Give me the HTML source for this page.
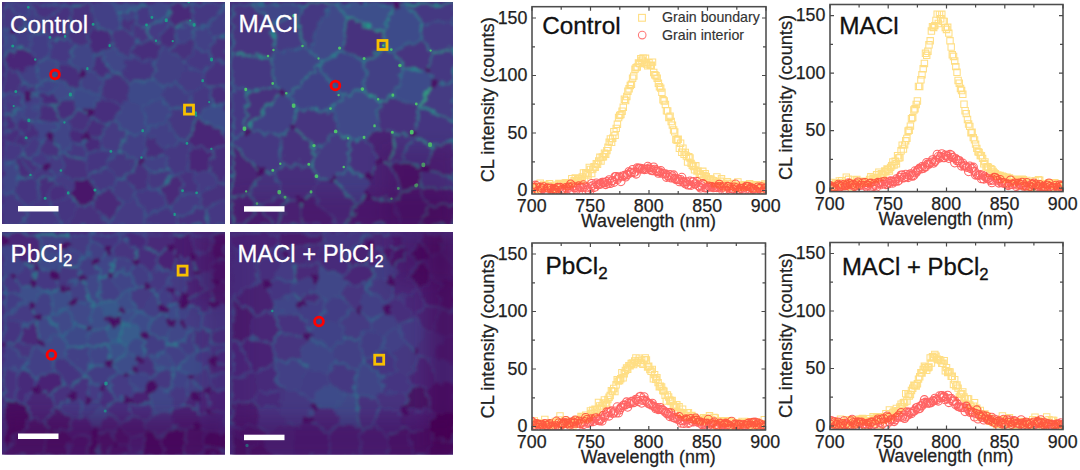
<!DOCTYPE html>
<html><head><meta charset="utf-8"><style>
html,body{margin:0;padding:0;background:#fff;width:1080px;height:470px;overflow:hidden}
svg{position:absolute;left:0;top:0;display:block}
text{font-family:"Liberation Sans",sans-serif}
.tl{font-size:17.8px;fill:#1e1e1e;stroke:#1e1e1e;stroke-width:0.25px}
.al{font-size:17.5px;fill:#222;stroke:#222;stroke-width:0.25px}
.tt{fill:#111;stroke:#111;stroke-width:0.3px}
.lg{fill:#333;stroke:#333;stroke-width:0.15px}
.pl{fill:#fff;stroke:#fff;stroke-width:0.3px}
</style></head><body>
<svg width="1080" height="470" viewBox="0 0 1080 470">
<defs><filter id="sblur"><feGaussianBlur stdDeviation="0.7"/></filter><filter id="blur" x="-5%" y="-5%" width="110%" height="110%"><feTurbulence type="turbulence" baseFrequency="0.07" numOctaves="2" seed="3" result="n"/><feDisplacementMap in="SourceGraphic" in2="n" scale="9" xChannelSelector="R" yChannelSelector="G" result="d"/><feGaussianBlur in="d" stdDeviation="1.4"/></filter><clipPath id="c0"><rect x="532" y="6.7" width="234" height="187.3"/></clipPath><clipPath id="c1"><rect x="830" y="4.5" width="233" height="187.1"/></clipPath><clipPath id="c2"><rect x="532" y="243" width="233.5" height="187"/></clipPath><clipPath id="c3"><rect x="830" y="242.5" width="233" height="187.0"/></clipPath><clipPath id="pc0"><rect x="2" y="2" width="223" height="222"/></clipPath><clipPath id="pc1"><rect x="230" y="2" width="223" height="222"/></clipPath><clipPath id="pc2"><rect x="2" y="232" width="223" height="222.5"/></clipPath><clipPath id="pc3"><rect x="230" y="232" width="223" height="222.5"/></clipPath><filter id="bigblur" x="-50%" y="-50%" width="200%" height="200%"><feGaussianBlur stdDeviation="9"/></filter></defs>
<rect x="2" y="2" width="223" height="222" fill="#472a7a"/><g clip-path="url(#pc0)" filter="url(#blur)"><path fill="#453882" d="M36 137L39 139L39 148L28 156L21 154L21 146L26 138ZM203 81L208 85L209 102L196 113L190 108L187 90ZM114 175L107 165L86 171L85 174L95 190L109 186ZM10 191L25 204L21 224L2 224L2 190ZM84 153L80 141L68 139L64 153L82 157ZM190 21L189 2L223 2L205 25L194 25ZM163 151L166 167L171 172L176 173L185 167L187 143L183 139L179 139L165 147Z"/><path fill="#46307e" d="M120 72L112 72L101 76L97 93L97 94L119 103L125 99L126 82ZM82 157L64 153L61 154L61 170L74 179L85 174L86 171ZM39 139L49 135L60 153L48 156L39 148ZM81 129L66 124L64 122L75 108L88 109L92 115ZM21 154L19 156L31 175L32 175L36 165L28 156ZM202 207L225 199L225 183L217 180L197 193L200 205ZM91 202L76 204L65 224L106 224L106 222Z"/><path fill="#424086" d="M134 160L140 160L141 158L143 131L125 132L118 149ZM174 24L173 41L191 36L194 25L190 21ZM191 36L194 25L205 25L213 34L206 51L194 47Z"/><path fill="#46327e" d="M16 91L2 92L2 66L17 70L22 80ZM124 175L134 160L140 160L147 170L146 184L136 190ZM213 34L225 35L225 61L212 59L206 51ZM70 2L87 2L93 24L84 42L73 43L65 36ZM173 41L191 36L194 47L181 60L167 48ZM117 16L117 27L128 31L135 23L134 16Z"/><path fill="#433e85" d="M42 29L32 31L26 47L35 59L44 57L50 37ZM2 3L22 17L28 7L29 2L2 2Z"/><path fill="#46337f" d="M202 70L212 59L225 61L225 82L208 85L203 81ZM202 207L206 224L175 224L175 214L200 205ZM28 7L44 22L60 2L29 2ZM195 192L183 191L176 173L185 167L194 171ZM42 29L50 37L65 36L70 2L60 2L44 22ZM26 94L38 92L38 92L36 84L25 82Z"/><path fill="#453581" d="M21 97L16 91L22 80L25 82L26 94ZM126 55L120 72L126 82L153 76L151 60L127 55ZM84 153L99 145L111 151L107 165L86 171L82 157ZM10 191L25 204L36 198L35 180L32 175L31 175L17 176ZM68 193L76 204L65 224L60 224L48 200ZM175 214L175 224L140 224L143 213L165 202L169 204Z"/><path fill="#443983" d="M45 198L36 198L25 204L21 224L60 224L48 200ZM135 7L139 2L145 2L152 18L146 25L135 23L134 16ZM136 190L146 184L158 189L165 202L143 213L133 197ZM50 37L44 57L56 64L66 60L73 43L65 36ZM181 60L182 63L202 70L212 59L206 51L194 47ZM21 146L21 154L19 156L11 161L2 160L2 139L10 140ZM28 156L36 165L43 163L48 156L39 148ZM7 114L14 106L2 95L2 114ZM225 224L225 199L202 207L206 224Z"/><path fill="#433d84" d="M225 2L225 35L213 34L205 25L223 2ZM28 7L44 22L42 29L32 31L21 24L22 17ZM187 90L190 108L168 108L159 94L162 84L173 80ZM11 28L13 46L26 47L32 31L21 24Z"/><path fill="#472d7b" d="M84 132L81 129L92 115L104 122L97 136ZM163 151L141 158L143 131L143 131L165 147ZM207 169L211 149L225 142L225 183L217 180ZM73 88L76 85L80 72L66 60L56 64L55 76L56 78ZM166 20L156 41L160 48L167 48L173 41L174 24ZM37 117L57 123L58 122L53 105L39 103L36 107Z"/><path fill="#443b84" d="M133 197L143 213L140 224L106 224L106 222L120 200ZM197 193L217 180L207 169L194 171L195 192ZM165 18L152 18L146 25L150 37L156 41L166 20ZM200 205L197 193L195 192L183 191L169 204L175 214ZM14 106L2 95L2 92L16 91L21 97L22 104L20 106ZM202 70L182 63L173 80L187 90L203 81Z"/><path fill="#482979" d="M165 202L158 189L171 172L176 173L183 191L169 204ZM109 186L95 190L91 202L106 222L120 200ZM165 18L169 2L189 2L190 21L174 24L166 20Z"/><path fill="#463480" d="M117 27L110 31L110 46L126 55L127 55L132 41L128 31ZM150 37L132 41L128 31L135 23L146 25Z"/><path fill="#423f85" d="M115 10L117 16L134 16L135 7ZM29 120L20 117L20 106L22 104L36 107L37 117L35 119ZM22 80L17 70L34 61L38 79L36 84L25 82ZM97 93L76 85L80 72L87 69L101 76ZM167 48L160 48L151 60L153 76L162 84L173 80L182 63L181 60Z"/><path fill="#443a83" d="M61 154L60 153L48 156L43 163L52 175L52 175L61 170ZM114 175L109 186L120 200L133 197L136 190L124 175ZM111 151L118 149L125 132L113 119L104 122L97 136L99 145ZM74 179L69 190L53 181L52 175L61 170Z"/><path fill="#453781" d="M114 175L107 165L111 151L118 149L134 160L124 175ZM146 184L147 170L166 167L171 172L158 189ZM179 139L164 120L168 108L190 108L196 113L196 115L183 139ZM52 175L35 180L32 175L36 165L43 163ZM22 17L21 24L11 28L2 25L2 3Z"/><path fill="#414487" d="M93 51L87 69L80 72L66 60L73 43L84 42ZM61 154L60 153L49 135L57 123L58 122L64 122L66 124L68 139L64 153ZM35 59L34 61L38 79L55 76L56 64L44 57ZM11 28L13 46L2 57L2 25ZM20 117L20 106L14 106L7 114L15 120ZM165 18L152 18L145 2L169 2ZM11 161L2 160L2 190L10 191L17 176Z"/><path fill="#472f7d" d="M98 51L112 72L101 76L87 69L93 51ZM29 120L20 117L15 120L13 125L18 130L23 132ZM18 130L10 140L2 139L2 130L13 125ZM225 82L225 104L209 102L208 85ZM104 122L92 115L88 109L97 94L119 103L113 119ZM69 190L53 181L45 198L48 200L68 193Z"/><path fill="#472e7c" d="M23 132L18 130L10 140L21 146L26 138ZM15 120L7 114L2 114L2 130L13 125ZM11 161L17 176L31 175L19 156ZM45 198L36 198L35 180L52 175L52 175L53 181ZM70 95L75 108L64 122L58 122L53 105L57 98ZM156 41L160 48L151 60L127 55L132 41L150 37ZM29 120L23 132L26 138L36 137L35 119Z"/><path fill="#472a7a" d="M84 153L80 141L84 132L97 136L99 145ZM57 98L53 105L39 103L38 92L38 92L50 90ZM84 132L81 129L66 124L68 139L80 141Z"/><path fill="#424186" d="M163 151L166 167L147 170L140 160L141 158ZM165 147L179 139L164 120L145 125L143 131ZM21 97L22 104L36 107L39 103L38 92L26 94ZM115 10L107 2L87 2L93 24L110 31L117 27L117 16Z"/><path fill="#404688" d="M98 51L112 72L120 72L126 55L110 46Z"/><path fill="#482878" d="M194 171L185 167L187 143L211 149L207 169ZM13 46L26 47L35 59L34 61L17 70L2 66L2 57Z"/><path fill="#414287" d="M50 90L38 92L36 84L38 79L55 76L56 78Z"/><path fill="#404588" d="M143 131L125 132L113 119L119 103L125 99L140 104L145 125L143 131ZM168 108L159 94L140 104L145 125L164 120ZM35 119L37 117L57 123L49 135L39 139L36 137Z"/><path fill="#3e4989" d="M73 88L76 85L97 93L97 94L88 109L75 108L70 95ZM153 76L126 82L125 99L140 104L159 94L162 84Z"/><path fill="#472c7a" d="M98 51L110 46L110 31L93 24L84 42L93 51Z"/><path fill="#482677" d="M183 139L196 115L225 132L225 142L211 149L187 143Z"/><path fill="#48186a" d="M95 190L91 202L76 204L68 193L69 190L74 179L85 174Z"/><path fill="#3e4c8a" d="M209 102L225 104L225 132L196 115L196 113Z"/><path fill="#3f4889" d="M73 88L56 78L50 90L57 98L70 95Z"/><path fill="#3d4d8a" d="M115 10L135 7L139 2L107 2Z"/><path fill="none" stroke="#32648e" stroke-width="1.4" stroke-linecap="round" d="M56 64L55 76M56 64L44 57M34 61L38 79M34 61L35 59M2 224L21 224M92 115L81 129M25 204L21 224M17 176L11 161M19 156L11 161M76 85L80 72M87 69L80 72M101 76L97 93M13 46L11 28M32 31L21 24M97 94L97 93M112 72L101 76M162 84L153 76M66 60L80 72M112 72L98 51M56 78L73 88M38 79L36 84M55 76L56 78M36 84L38 92M38 92L50 90M53 105L39 103M64 122L58 122M88 109L97 94M57 123L37 117M159 94L168 108M140 104L145 125M39 148L39 139M43 163L48 156M36 165L28 156M22 80L16 91M17 70L22 80M21 24L22 17M11 28L2 25M2 66L2 57M65 36L70 2M60 2L70 2M225 142L225 132M209 102L208 85M119 103L113 119M92 115L104 122M60 224L48 200M20 106L14 106M173 80L187 90M162 84L173 80M212 59L225 61M141 158L163 151M147 170L140 160M145 125L143 131M125 132L143 131M185 167L176 173M104 122L97 136M97 136L84 132M68 139L80 141M80 141L84 132M140 160L134 160M65 224L106 224M225 61L225 35M206 51L212 59M206 51L213 34M132 41L127 55M128 31L117 27M76 204L91 202M74 179L85 174M85 174L95 190M99 145L84 153M99 145L111 151M82 157L84 153M80 141L84 153M183 191L176 173M158 189L165 202M169 204L165 202M205 25L223 2M194 47L191 36M167 48L173 41M206 51L194 47M205 25L194 25M132 41L150 37M190 21L189 2M174 24L166 20M145 2L152 18M223 2L189 2M194 25L190 21M173 41L174 24M21 154L21 146M7 114L15 120M13 125L15 120M195 192L197 193M225 183L217 180M133 197L136 190M95 190L109 186M106 222L120 200M143 213L140 224M143 213L133 197M175 214L200 205M200 205L202 207M169 204L175 214M197 193L200 205M139 2L107 2M134 16L135 7M18 130L23 132M37 117L35 119M206 224L225 224"/><path fill="none" stroke="#2a788e" stroke-width="1.4" stroke-linecap="round" d="M55 76L38 79M44 57L35 59M21 24L11 28M93 24L110 31M32 31L42 29M70 95L73 88M58 122L53 105M196 115L183 139M36 84L25 82M87 2L70 2M52 175L53 181M14 106L7 114M7 114L2 114M166 167L147 170M171 172L158 189M213 34L225 35M64 153L82 157M182 63L181 60M194 25L191 36M165 18L169 2M152 18L146 25M135 7L139 2M145 2L139 2M35 119L29 120"/><path fill="none" stroke="#2e6f8e" stroke-width="1.4" stroke-linecap="round" d="M64 122L75 108M88 109L75 108M31 175L17 176M126 82L120 72M126 82L153 76M151 60L153 76M127 55L126 55M110 46L110 31M93 51L98 51M73 43L66 60M65 36L50 37M36 165L43 163M35 180L52 175M76 85L73 88M38 92L38 92M168 108L190 108M48 156L60 153M49 135L60 153M19 156L21 154M28 156L21 154M25 82L22 80M38 92L26 94M22 104L21 97M2 2L2 3M13 46L2 57M196 115L225 132M209 102L225 104M208 85L225 82M113 119L104 122M76 204L68 193M60 153L61 154M49 135L57 123M2 92L2 95M208 85L203 81M143 131L143 131M125 132L113 119M81 129L84 132M118 149L134 160M110 31L117 27M91 202L95 190M107 165L86 171M225 2L223 2M135 23L146 25M169 2L189 2M152 18L165 18M135 23L134 16M211 149L207 169M124 175L114 175M134 160L124 175M175 224L206 224M202 207L206 224M135 7L115 10M117 16L115 10M39 139L36 137"/><path fill="none" stroke="#3c4f8a" stroke-width="1.4" stroke-linecap="round" d="M64 122L66 124M66 124L81 129M36 198L25 204M35 180L32 175M2 190L2 160M119 103L97 94M125 99L126 82M120 72L126 55M151 60L127 55M84 42L93 51M73 43L84 42M35 59L26 47M36 165L32 175M58 122L57 123M39 103L36 107M48 156L39 148M25 82L26 94M36 107L22 104M44 22L60 2M225 104L225 82M225 132L225 104M21 224L60 224M53 181L69 190M53 181L45 198M68 193L69 190M52 175L52 175M52 175L61 170M61 170L74 179M66 124L68 139M64 153L61 154M14 106L2 95M182 63L202 70M187 90L203 81M143 131L165 147M166 167L171 172M225 35L225 2M132 41L128 31M2 160L2 139M225 142L225 183M86 171L82 157M85 174L86 171M205 25L213 34M194 47L181 60M191 36L173 41M160 48L156 41M145 2L169 2M134 16L117 16M2 139L10 140M13 125L18 130M20 106L20 117M217 180L197 193M207 169L194 171M194 171L195 192M185 167L194 171M146 184L136 190M107 165L114 175M87 2L107 2M26 138L36 137M23 132L29 120"/><path fill="none" stroke="#375a8c" stroke-width="1.4" stroke-linecap="round" d="M88 109L92 115M36 198L35 180M25 204L10 191M17 176L10 191M10 191L2 190M31 175L19 156M11 161L2 160M76 85L97 93M87 69L101 76M26 47L32 31M159 94L140 104M93 24L84 42M110 46L98 51M87 69L93 51M126 55L110 46M44 57L50 37M73 43L65 36M50 37L42 29M43 163L52 175M56 78L50 90M50 90L57 98M57 98L70 95M39 103L38 92M75 108L70 95M36 107L37 117M145 125L164 120M164 120L168 108M164 120L179 139M190 108L196 113M196 115L196 113M183 139L179 139M49 135L39 139M39 148L28 156M16 91L21 97M26 94L21 97M17 70L2 66M2 66L2 92M2 92L16 91M22 17L2 3M22 17L28 7M28 7L29 2M2 2L29 2M42 29L44 22M44 22L28 7M2 57L2 25M2 3L2 25M29 2L60 2M87 2L93 24M211 149L225 142M211 149L187 143M196 113L209 102M48 200L45 198M61 170L61 154M68 139L64 153M2 95L2 114M22 104L20 106M203 81L202 70M190 108L187 90M212 59L202 70M141 158L143 131M166 167L163 151M140 160L141 158M179 139L165 147M171 172L176 173M187 143L185 167M147 170L146 184M158 189L146 184M2 114L2 130M106 222L91 202M111 151L107 165M97 136L99 145M118 149L111 151M183 191L169 204M106 224L140 224M181 60L167 48M151 60L160 48M135 23L128 31M166 20L165 18M156 41L166 20M117 27L117 16M10 140L21 146M2 130L13 125M217 180L207 169M183 191L195 192M120 200L109 186M136 190L124 175M109 186L114 175M165 202L143 213M175 214L175 224M140 224L175 224M115 10L107 2M26 138L23 132M21 146L26 138M20 117L29 120M225 183L225 199M202 207L225 199"/><path fill="none" stroke="#414487" stroke-width="1.4" stroke-linecap="round" d="M31 175L32 175M2 224L2 190M119 103L125 99M125 99L140 104M159 94L162 84M56 64L66 60M34 61L17 70M187 143L183 139M60 224L65 224M225 82L225 61M48 200L68 193M76 204L65 224M69 190L74 179M173 80L182 63M2 139L2 130M106 224L106 222M160 48L167 48M10 140L18 130M15 120L20 117M120 200L133 197M36 137L35 119M225 224L225 199"/><path fill="none" stroke="#26828e" stroke-width="1.4" stroke-linecap="round" d="M26 47L13 46M112 72L120 72M53 105L57 98M125 132L118 149M146 25L150 37M150 37L156 41M190 21L174 24"/><path fill="none" stroke="#453781" stroke-width="1.4" stroke-linecap="round" d="M36 198L45 198M165 147L163 151"/><path fill="#471063" d="M135.9 160.0a3.7 3.7 0 1 0 7.4 0a3.7 3.7 0 1 0 -7.4 0zM46.1 134.9a3.4 3.4 0 1 0 6.9 0a3.4 3.4 0 1 0 -6.9 0zM39.4 163.5a3.7 3.7 0 1 0 7.4 0a3.7 3.7 0 1 0 -7.4 0zM83.6 108.8a4.0 4.0 0 1 0 8.0 0a4.0 4.0 0 1 0 -8.0 0zM80.2 132.4a3.6 3.6 0 1 0 7.1 0a3.6 3.6 0 1 0 -7.1 0zM21.9 94.3a3.8 3.8 0 1 0 7.6 0a3.8 3.8 0 1 0 -7.6 0zM76.0 71.7a4.0 4.0 0 1 0 7.9 0a4.0 4.0 0 1 0 -7.9 0zM7.0 28.5a3.6 3.6 0 1 0 7.2 0a3.6 3.6 0 1 0 -7.2 0z"/></g><g clip-path="url(#pc0)" filter="url(#sblur)"><path fill="#1e9c89" d="M91.6 24.3a1.5 1.5 0 1 0 3.0 0a1.5 1.5 0 1 0 -3.0 0zM210.2 148.9a1.1 1.1 0 1 0 2.3 0a1.1 1.1 0 1 0 -2.3 0zM189.1 20.5a1.1 1.1 0 1 0 2.2 0a1.1 1.1 0 1 0 -2.2 0zM68.8 94.6a1.6 1.6 0 1 0 3.1 0a1.6 1.6 0 1 0 -3.1 0zM154.8 40.7a1.2 1.2 0 1 0 2.4 0a1.2 1.2 0 1 0 -2.4 0zM67.0 192.9a1.3 1.3 0 1 0 2.5 0a1.3 1.3 0 1 0 -2.5 0zM86.2 68.6a1.2 1.2 0 1 0 2.3 0a1.2 1.2 0 1 0 -2.3 0zM195.2 192.8a1.4 1.4 0 1 0 2.8 0a1.4 1.4 0 1 0 -2.8 0zM12.6 106.1a1.1 1.1 0 1 0 2.2 0a1.1 1.1 0 1 0 -2.2 0zM14.3 91.4a1.5 1.5 0 1 0 3.0 0a1.5 1.5 0 1 0 -3.0 0zM194.7 115.4a1.2 1.2 0 1 0 2.5 0a1.2 1.2 0 1 0 -2.5 0zM210.1 59.5a1.5 1.5 0 1 0 2.9 0a1.5 1.5 0 1 0 -2.9 0zM164.7 20.3a1.6 1.6 0 1 0 3.1 0a1.6 1.6 0 1 0 -3.1 0zM109.4 151.4a1.4 1.4 0 1 0 2.9 0a1.4 1.4 0 1 0 -2.9 0zM187.4 2.0a1.3 1.3 0 1 0 2.6 0a1.3 1.3 0 1 0 -2.6 0zM145.1 25.0a1.4 1.4 0 1 0 2.8 0a1.4 1.4 0 1 0 -2.8 0zM93.4 190.0a1.5 1.5 0 1 0 3.1 0a1.5 1.5 0 1 0 -3.1 0zM27.4 120.3a1.5 1.5 0 1 0 2.9 0a1.5 1.5 0 1 0 -2.9 0zM34.0 59.4a1.2 1.2 0 1 0 2.5 0a1.2 1.2 0 1 0 -2.5 0zM208.1 102.1a1.1 1.1 0 1 0 2.2 0a1.1 1.1 0 1 0 -2.2 0zM194.0 112.9a1.5 1.5 0 1 0 3.1 0a1.5 1.5 0 1 0 -3.1 0zM150.5 17.5a1.4 1.4 0 1 0 2.8 0a1.4 1.4 0 1 0 -2.8 0zM63.3 122.5a1.1 1.1 0 1 0 2.3 0a1.1 1.1 0 1 0 -2.3 0zM26.9 7.3a1.4 1.4 0 1 0 2.8 0a1.4 1.4 0 1 0 -2.8 0zM48.5 37.4a1.4 1.4 0 1 0 2.8 0a1.4 1.4 0 1 0 -2.8 0zM140.2 157.5a1.2 1.2 0 1 0 2.5 0a1.2 1.2 0 1 0 -2.5 0zM24.6 137.8a1.5 1.5 0 1 0 3.1 0a1.5 1.5 0 1 0 -3.1 0zM29.3 174.9a1.2 1.2 0 1 0 2.4 0a1.2 1.2 0 1 0 -2.4 0zM63.9 36.3a1.2 1.2 0 1 0 2.3 0a1.2 1.2 0 1 0 -2.3 0zM141.4 130.7a1.3 1.3 0 1 0 2.5 0a1.3 1.3 0 1 0 -2.5 0zM201.4 80.7a1.3 1.3 0 1 0 2.5 0a1.3 1.3 0 1 0 -2.5 0zM11.2 46.0a1.5 1.5 0 1 0 3.1 0a1.5 1.5 0 1 0 -3.1 0zM181.1 190.7a1.4 1.4 0 1 0 2.9 0a1.4 1.4 0 1 0 -2.9 0zM108.5 45.6a1.2 1.2 0 1 0 2.3 0a1.2 1.2 0 1 0 -2.3 0zM59.6 170.5a1.3 1.3 0 1 0 2.6 0a1.3 1.3 0 1 0 -2.6 0zM173.5 214.4a1.2 1.2 0 1 0 2.3 0a1.2 1.2 0 1 0 -2.3 0zM192.7 24.8a1.5 1.5 0 1 0 2.9 0a1.5 1.5 0 1 0 -2.9 0zM43.6 198.2a1.5 1.5 0 1 0 3.1 0a1.5 1.5 0 1 0 -3.1 0zM171.6 41.2a1.1 1.1 0 1 0 2.3 0a1.1 1.1 0 1 0 -2.3 0zM185.6 143.4a1.3 1.3 0 1 0 2.7 0a1.3 1.3 0 1 0 -2.7 0z"/></g><rect x="230" y="2" width="223" height="222" fill="#472a7a"/><g clip-path="url(#pc1)" filter="url(#blur)"><path fill="#414487" d="M279 90L286 93L318 63L319 59L307 48L303 46L273 50L268 56L273 84ZM303 2L249 2L270 21L294 16Z"/><path fill="#453882" d="M431 51L425 68L432 81L453 81L453 46ZM422 22L453 19L453 2L406 2ZM246 129L277 134L280 164L273 170L258 170L230 143L230 138L244 129ZM417 185L424 166L453 177L453 188ZM246 89L230 82L230 50L268 56L273 84ZM294 16L303 46L307 48L328 2L303 2Z"/><path fill="#482979" d="M285 197L274 224L299 224L298 199Z"/><path fill="#472c7a" d="M274 224L285 197L279 192L257 204L271 224Z"/><path fill="#463480" d="M289 125L294 106L331 109L336 131L314 146ZM419 38L391 50L400 65L425 68L431 51ZM270 21L273 50L268 56L230 50L230 2L249 2Z"/><path fill="#472d7b" d="M279 192L273 170L280 164L309 164L316 176L311 192L298 199L285 197ZM353 203L345 224L335 224L311 192L316 176L332 176Z"/><path fill="#46337f" d="M365 175L377 161L364 137L348 138L344 167Z"/><path fill="#482173" d="M257 204L271 224L240 224L256 203ZM365 193L392 199L398 188L389 163L377 161L365 175ZM311 192L335 224L299 224L298 199ZM392 132L391 162L389 163L377 161L364 137L375 126Z"/><path fill="#481d6f" d="M426 205L415 224L397 224L392 199L398 188L416 185Z"/><path fill="#443983" d="M244 129L230 138L230 82L246 89Z"/><path fill="#3f4889" d="M336 131L331 109L339 95L362 89L378 99L375 126L364 137L348 138ZM307 48L328 2L336 2L344 18L340 48L319 59Z"/><path fill="#46307e" d="M289 125L314 146L309 164L280 164L277 134ZM257 204L256 203L246 191L258 170L273 170L279 192ZM340 48L364 58L383 46L381 29L344 18ZM416 104L412 132L392 132L375 126L378 99L393 95Z"/><path fill="#414287" d="M286 93L318 63L339 95L331 109L294 106ZM319 59L340 48L364 58L362 89L339 95L318 63Z"/><path fill="#443b84" d="M294 16L303 46L273 50L270 21ZM419 38L431 51L453 46L453 19L422 22Z"/><path fill="#481f70" d="M453 188L417 185L416 185L426 205L453 202ZM365 193L392 199L397 224L345 224L353 203Z"/><path fill="#481668" d="M426 205L453 202L453 224L415 224Z"/><path fill="#3e4c8a" d="M416 104L393 95L400 65L425 68L432 81L416 104ZM419 38L391 50L383 46L381 29L393 2L406 2L422 22Z"/><path fill="#482576" d="M246 191L230 194L230 224L240 224L256 203ZM430 145L453 138L453 177L424 166L423 165ZM258 170L230 143L230 194L246 191Z"/><path fill="#3c508b" d="M344 18L336 2L393 2L381 29Z"/><path fill="#453581" d="M412 133L399 159L423 165L430 145ZM412 133L412 132L416 104L416 104L453 119L453 138L430 145Z"/><path fill="#423f85" d="M393 95L378 99L362 89L364 58L383 46L391 50L400 65Z"/><path fill="#46327e" d="M412 133L412 132L392 132L391 162L399 159ZM246 129L279 90L273 84L246 89L244 129Z"/><path fill="#481467" d="M417 185L424 166L423 165L399 159L391 162L389 163L398 188L416 185Z"/><path fill="#424186" d="M246 129L277 134L289 125L294 106L286 93L279 90Z"/><path fill="#443a83" d="M332 176L316 176L309 164L314 146L336 131L348 138L344 167ZM432 81L453 81L453 119L416 104Z"/><path fill="#433d84" d="M365 193L365 175L344 167L332 176L353 203Z"/><path fill="none" stroke="#22a884" stroke-width="1.5" stroke-linecap="round" d="M381 29L383 46M431 51L453 46M328 2L303 2"/><path fill="none" stroke="#1f9f88" stroke-width="1.5" stroke-linecap="round" d="M381 29L344 18M391 162L392 132M362 89L378 99M348 138L336 131M430 145L412 133M244 129L246 129"/><path fill="none" stroke="#1f958b" stroke-width="1.5" stroke-linecap="round" d="M383 46L364 58M393 2L381 29M453 2L406 2M378 99L393 95M422 22L419 38M424 166L423 165M416 104L453 119M336 2L328 2M314 146L309 164M314 146L289 125M303 46L294 16M230 50L268 56M279 90L246 129"/><path fill="none" stroke="#2a788e" stroke-width="1.5" stroke-linecap="round" d="M364 58L340 48M400 65L393 95M416 104L416 104M383 46L391 50M453 19L453 46M453 2L453 19M230 138L230 82M364 137L348 138M453 138L453 177M423 165L430 145M424 166L453 177M412 132L412 133M246 191L258 170M335 224L345 224M415 224L453 224M453 119L453 81M432 81L453 81M339 95L318 63M230 2L230 50M309 164L280 164M336 131L314 146M344 167L332 176M316 176L332 176M392 199L365 193M416 185L417 185M424 166L417 185M415 224L426 205M299 224L274 224M270 21L294 16M270 21L249 2M249 2L303 2M294 16L303 2M277 134L246 129"/><path fill="none" stroke="#228b8d" stroke-width="1.5" stroke-linecap="round" d="M344 18L340 48M344 18L336 2M393 2L406 2M377 161L389 163M389 163L391 162M400 65L425 68M391 50L400 65M412 132L392 132M230 143L230 138M339 95L331 109M339 95L362 89M423 165L399 159M298 199L299 224M453 138L453 119M453 46L453 81M318 63L319 59M318 63L286 93M316 176L309 164M345 224L353 203M392 199L398 188M256 203L257 204M273 50L270 21M273 84L279 90M246 89L244 129M268 56L273 84M286 93L279 90"/><path fill="none" stroke="#2e6f8e" stroke-width="1.5" stroke-linecap="round" d="M393 2L336 2M364 137L375 126M375 126L392 132M393 95L416 104M432 81L425 68M391 50L419 38M399 159L412 133M230 224L240 224M240 224L256 203M256 203L246 191M345 224L397 224M294 106L286 93M280 164L277 134M426 205L453 202M453 202L453 188M453 224L453 202M257 204L271 224M271 224L274 224M298 199L285 197M273 170L280 164M230 138L244 129"/><path fill="none" stroke="#375a8c" stroke-width="1.5" stroke-linecap="round" d="M377 161L364 137M398 188L389 163M416 185L426 205M279 192L257 204M273 170L279 192"/><path fill="none" stroke="#2cb17e" stroke-width="1.5" stroke-linecap="round" d="M432 81L416 104"/><path fill="none" stroke="#26828e" stroke-width="1.5" stroke-linecap="round" d="M364 58L362 89M378 99L375 126M412 132L416 104M431 51L419 38M406 2L422 22M425 68L431 51M230 50L230 82M230 224L230 194M230 143L230 194M453 138L430 145M298 199L311 192M230 194L246 191M230 143L258 170M340 48L319 59M319 59L307 48M331 109L294 106M277 134L289 125M294 106L289 125M344 167L365 175M332 176L353 203M353 203L365 193M348 138L344 167M377 161L365 175M417 185L453 188M398 188L416 185M453 177L453 188M285 197L279 192M285 197L274 224M258 170L273 170M268 56L273 50M307 48L303 46M273 84L246 89"/><path fill="none" stroke="#32648e" stroke-width="1.5" stroke-linecap="round" d="M422 22L453 19M331 109L336 131M328 2L307 48M240 224L271 224M303 46L273 50M230 2L249 2M230 82L246 89"/><path fill="none" stroke="#3c4f8a" stroke-width="1.5" stroke-linecap="round" d="M391 162L399 159M335 224L299 224M311 192L335 224"/><path fill="none" stroke="#453781" stroke-width="1.5" stroke-linecap="round" d="M415 224L397 224M392 199L397 224"/><path fill="none" stroke="#414487" stroke-width="1.5" stroke-linecap="round" d="M365 175L365 193M311 192L316 176"/><path fill="#471063" d="M389.8 2.0a3.6 3.6 0 1 0 7.1 0a3.6 3.6 0 1 0 -7.1 0zM360.9 174.6a4.3 4.3 0 1 0 8.6 0a4.3 4.3 0 1 0 -8.6 0zM361.2 193.1a4.2 4.2 0 1 0 8.4 0a4.2 4.2 0 1 0 -8.4 0zM408.2 132.6a3.8 3.8 0 1 0 7.6 0a3.8 3.8 0 1 0 -7.6 0zM428.3 80.9a3.7 3.7 0 1 0 7.4 0a3.7 3.7 0 1 0 -7.4 0zM293.5 198.9a4.1 4.1 0 1 0 8.1 0a4.1 4.1 0 1 0 -8.1 0zM276.6 90.2a2.8 2.8 0 1 0 5.7 0a2.8 2.8 0 1 0 -5.7 0zM328.7 176.2a3.2 3.2 0 1 0 6.5 0a3.2 3.2 0 1 0 -6.5 0zM419.8 165.6a3.8 3.8 0 1 0 7.6 0a3.8 3.8 0 1 0 -7.6 0zM242.0 128.5a3.5 3.5 0 1 0 7.1 0a3.5 3.5 0 1 0 -7.1 0zM374.6 161.0a2.8 2.8 0 1 0 5.7 0a2.8 2.8 0 1 0 -5.7 0zM421.6 68.1a3.1 3.1 0 1 0 6.3 0a3.1 3.1 0 1 0 -6.3 0zM286.6 124.8a2.8 2.8 0 1 0 5.5 0a2.8 2.8 0 1 0 -5.5 0zM253.9 169.6a4.2 4.2 0 1 0 8.3 0a4.2 4.2 0 1 0 -8.3 0z"/></g><g clip-path="url(#pc1)" filter="url(#sblur)"><path fill="#4ec36b" d="M272.2 50.1a1.2 1.2 0 1 0 2.5 0a1.2 1.2 0 1 0 -2.5 0zM338.0 48.1a1.6 1.6 0 1 0 3.2 0a1.6 1.6 0 1 0 -3.2 0zM266.8 56.0a1.2 1.2 0 1 0 2.5 0a1.2 1.2 0 1 0 -2.5 0zM346.9 138.2a1.2 1.2 0 1 0 2.4 0a1.2 1.2 0 1 0 -2.4 0zM429.5 50.6a1.1 1.1 0 1 0 2.3 0a1.1 1.1 0 1 0 -2.3 0zM271.3 83.5a1.4 1.4 0 1 0 2.8 0a1.4 1.4 0 1 0 -2.8 0zM242.7 128.7a1.8 1.8 0 1 0 3.5 0a1.8 1.8 0 1 0 -3.5 0zM333.8 131.4a1.8 1.8 0 1 0 3.7 0a1.8 1.8 0 1 0 -3.7 0zM390.8 132.3a1.5 1.5 0 1 0 3.1 0a1.5 1.5 0 1 0 -3.1 0zM360.6 89.1a1.8 1.8 0 1 0 3.6 0a1.8 1.8 0 1 0 -3.6 0zM415.1 184.9a1.6 1.6 0 1 0 3.2 0a1.6 1.6 0 1 0 -3.2 0zM421.5 164.8a1.9 1.9 0 1 0 3.7 0a1.9 1.9 0 1 0 -3.7 0zM391.6 95.1a1.3 1.3 0 1 0 2.5 0a1.3 1.3 0 1 0 -2.5 0zM255.7 203.6a1.3 1.3 0 1 0 2.6 0a1.3 1.3 0 1 0 -2.6 0zM285.0 93.3a1.3 1.3 0 1 0 2.6 0a1.3 1.3 0 1 0 -2.6 0zM291.9 105.7a1.8 1.8 0 1 0 3.5 0a1.8 1.8 0 1 0 -3.5 0zM314.6 176.2a1.8 1.8 0 1 0 3.7 0a1.8 1.8 0 1 0 -3.7 0zM312.3 145.6a1.7 1.7 0 1 0 3.4 0a1.7 1.7 0 1 0 -3.4 0zM409.9 132.2a1.9 1.9 0 1 0 3.7 0a1.9 1.9 0 1 0 -3.7 0zM382.1 45.5a1.1 1.1 0 1 0 2.2 0a1.1 1.1 0 1 0 -2.2 0zM342.5 166.9a1.2 1.2 0 1 0 2.5 0a1.2 1.2 0 1 0 -2.5 0zM337.4 95.1a1.2 1.2 0 1 0 2.4 0a1.2 1.2 0 1 0 -2.4 0zM244.4 89.4a1.4 1.4 0 1 0 2.7 0a1.4 1.4 0 1 0 -2.7 0zM414.9 104.0a1.4 1.4 0 1 0 2.8 0a1.4 1.4 0 1 0 -2.8 0zM329.1 108.6a1.4 1.4 0 1 0 2.8 0a1.4 1.4 0 1 0 -2.8 0zM376.9 99.3a1.2 1.2 0 1 0 2.5 0a1.2 1.2 0 1 0 -2.5 0zM271.3 170.2a1.5 1.5 0 1 0 3.0 0a1.5 1.5 0 1 0 -3.0 0zM292.3 15.7a1.6 1.6 0 1 0 3.3 0a1.6 1.6 0 1 0 -3.3 0zM277.5 192.2a1.8 1.8 0 1 0 3.5 0a1.8 1.8 0 1 0 -3.5 0zM279.1 163.8a1.2 1.2 0 1 0 2.4 0a1.2 1.2 0 1 0 -2.4 0zM414.2 185.5a1.9 1.9 0 1 0 3.8 0a1.9 1.9 0 1 0 -3.8 0zM301.2 46.0a1.3 1.3 0 1 0 2.6 0a1.3 1.3 0 1 0 -2.6 0zM283.6 197.2a1.4 1.4 0 1 0 2.9 0a1.4 1.4 0 1 0 -2.9 0zM398.1 65.5a1.8 1.8 0 1 0 3.6 0a1.8 1.8 0 1 0 -3.6 0zM390.3 198.8a1.2 1.2 0 1 0 2.4 0a1.2 1.2 0 1 0 -2.4 0zM396.9 188.5a1.4 1.4 0 1 0 2.9 0a1.4 1.4 0 1 0 -2.9 0zM389.9 49.6a1.4 1.4 0 1 0 2.8 0a1.4 1.4 0 1 0 -2.8 0zM373.4 125.8a1.2 1.2 0 1 0 2.3 0a1.2 1.2 0 1 0 -2.3 0zM317.4 58.5a1.1 1.1 0 1 0 2.3 0a1.1 1.1 0 1 0 -2.3 0zM309.8 191.8a1.3 1.3 0 1 0 2.5 0a1.3 1.3 0 1 0 -2.5 0zM362.6 58.4a1.5 1.5 0 1 0 3.0 0a1.5 1.5 0 1 0 -3.0 0zM245.0 191.4a1.1 1.1 0 1 0 2.3 0a1.1 1.1 0 1 0 -2.3 0zM362.8 137.3a1.3 1.3 0 1 0 2.5 0a1.3 1.3 0 1 0 -2.5 0zM428.2 144.6a1.9 1.9 0 1 0 3.7 0a1.9 1.9 0 1 0 -3.7 0zM307.3 164.2a1.5 1.5 0 1 0 3.0 0a1.5 1.5 0 1 0 -3.0 0z"/></g><rect x="2" y="232" width="223" height="222.5" fill="#472a7a"/><g clip-path="url(#pc2)" filter="url(#blur)"><path fill="#482677" d="M206 388L207 409L198 413L194 409L194 394L201 388ZM186 392L179 404L194 409L194 394ZM128 414L117 420L117 422L128 435L144 430L142 420ZM193 275L203 288L184 297L182 293L183 278Z"/><path fill="#481b6d" d="M203 446L203 431L195 423L183 428L182 454L195 454ZM112 429L113 442L125 443L128 435L117 422ZM65 429L71 417L57 405L53 405L42 419L47 428ZM109 445L107 454L96 454L96 437Z"/><path fill="#482173" d="M179 404L194 409L198 413L195 423L183 428L171 423L167 410L170 405ZM128 403L125 398L131 388L148 388L147 401Z"/><path fill="#3d4e8a" d="M71 301L63 287L55 285L49 289L50 312L67 308ZM126 290L137 308L135 308L119 308L114 298L119 292Z"/><path fill="#463480" d="M18 338L2 345L2 345L26 356L32 348ZM119 236L135 247L132 259L132 260L113 255L110 250Z"/><path fill="#48186a" d="M214 258L206 250L212 232L225 232L225 257Z"/><path fill="#3e4c8a" d="M137 308L135 308L128 322L143 332L147 330L149 317L139 308Z"/><path fill="#443983" d="M12 275L20 285L18 291L2 292L2 274ZM22 263L33 265L31 281L20 285L12 275ZM195 348L206 346L210 355L210 359L203 367L201 367L190 354ZM225 343L225 347L210 355L206 346L208 340ZM71 394L57 405L71 417L77 414L78 401ZM40 289L31 281L33 265L34 264L53 272L55 285L49 289Z"/><path fill="#482979" d="M188 232L212 232L206 250L193 252ZM146 232L171 232L169 245L155 251L142 243ZM203 367L210 359L225 363L225 371L207 373ZM112 429L92 431L92 427L105 411L117 420L117 422ZM18 338L32 348L36 346L38 341L33 321L20 324Z"/><path fill="#482071" d="M214 279L207 289L213 304L225 306L225 280Z"/><path fill="#481467" d="M69 435L66 454L40 454L47 428L65 429Z"/><path fill="#433d84" d="M176 341L186 354L190 354L195 348L189 330ZM127 270L132 260L132 259L149 269L146 284L133 284ZM209 268L195 270L193 275L203 288L207 289L214 279ZM116 371L106 383L101 384L87 379L82 374L82 372L89 363L109 361L112 363ZM81 275L98 274L99 274L96 259L84 252L82 253L75 265L80 275ZM163 348L150 355L143 353L141 335L143 332L147 330L163 337L166 341Z"/><path fill="#3c508b" d="M40 289L31 281L20 285L18 291L21 301L30 304Z"/><path fill="#404588" d="M110 250L113 255L108 273L99 274L96 259L106 250ZM126 290L133 284L127 270L108 273L119 292ZM170 405L167 410L151 410L147 401L148 388L151 385L167 388ZM86 343L104 344L109 361L89 363Z"/><path fill="#471164" d="M163 454L182 454L183 428L171 423L157 436Z"/><path fill="#423f85" d="M90 238L84 252L96 259L106 250ZM58 252L41 247L34 232L67 232L66 243ZM151 289L152 290L161 307L160 311L149 317L139 308ZM86 300L81 275L80 275L63 287L71 301ZM189 377L201 388L194 394L186 392L182 385Z"/><path fill="#482878" d="M22 263L2 238L2 232L34 232L41 247L34 264L33 265ZM206 388L207 409L225 411L225 389L209 386ZM69 435L87 435L92 432L92 431L92 427L82 416L77 414L71 417L65 429ZM214 258L206 250L193 252L190 255L195 270L209 268Z"/><path fill="#414287" d="M172 365L176 365L189 375L189 377L182 385L168 386L171 366ZM173 320L180 322L188 304L184 299L179 302ZM134 367L149 376L151 385L148 388L131 388L123 373ZM22 263L12 275L2 274L2 238Z"/><path fill="#453581" d="M209 386L225 389L225 371L207 373ZM18 338L20 324L2 317L2 345ZM119 236L110 250L106 250L90 238L90 232L118 232ZM82 372L82 374L69 383L61 381L50 367L52 359L62 354Z"/><path fill="#3d4d8a" d="M134 367L123 373L116 371L112 363L124 348L137 357ZM119 308L135 308L128 322L121 323L116 319ZM93 303L95 302L110 320L103 327L87 326L86 325Z"/><path fill="#472c7a" d="M137 454L144 431L144 430L128 435L125 443L130 454ZM23 366L34 376L34 387L21 400L12 398L18 368ZM198 413L195 423L203 431L225 429L225 411L207 409Z"/><path fill="#470d60" d="M225 454L195 454L203 446L225 449Z"/><path fill="#3e4a89" d="M58 252L41 247L34 264L53 272L61 262ZM73 322L60 333L66 346L86 343L87 326L86 325ZM186 354L176 365L189 375L201 367L190 354Z"/><path fill="#453781" d="M171 366L154 368L149 376L151 385L167 388L168 386ZM189 377L201 388L206 388L209 386L207 373L203 367L201 367L189 375ZM80 275L75 265L61 262L53 272L55 285L63 287Z"/><path fill="#443b84" d="M20 324L2 317L2 315L21 301L30 304L36 316L33 321ZM225 325L225 306L213 304L201 312L199 325L207 330ZM116 371L106 383L113 397L125 398L131 388L123 373ZM199 325L189 329L180 322L188 304L201 312ZM87 379L101 384L94 401L85 398ZM118 232L146 232L142 221L135 217L119 228Z"/><path fill="#3f4788" d="M172 365L163 348L150 355L154 368L171 366Z"/><path fill="#46327e" d="M150 355L143 353L137 357L134 367L149 376L154 368ZM142 420L144 430L144 431L157 436L171 423L167 410L151 410ZM48 393L53 405L57 405L71 394L69 383L61 381ZM207 330L199 325L189 329L189 330L195 348L206 346L208 340Z"/><path fill="#404688" d="M86 343L87 326L103 327L109 339L104 344L86 343ZM105 409L96 404L82 416L92 427L105 411ZM86 300L81 275L98 274L97 300L95 302L93 303ZM176 341L166 341L163 337L170 320L173 320L180 322L189 329L189 330ZM36 316L33 321L38 341L59 332L48 314Z"/><path fill="#3e4989" d="M161 307L166 305L179 302L173 320L170 320L160 311ZM137 357L143 353L141 335L123 340L124 348Z"/><path fill="#481c6e" d="M107 454L130 454L125 443L113 442L109 445Z"/><path fill="#482576" d="M34 387L21 400L30 416L42 419L53 405L48 393Z"/><path fill="#481f70" d="M169 245L171 232L188 232L193 252L190 255L177 257Z"/><path fill="#443a83" d="M169 290L182 293L183 278L171 271L164 286ZM90 238L90 232L67 232L66 243L82 253L84 252ZM126 290L137 308L139 308L151 289L146 284L133 284Z"/><path fill="#375b8d" d="M121 323L120 338L123 340L141 335L143 332L128 322Z"/><path fill="#46337f" d="M87 379L85 398L78 401L71 394L69 383L82 374ZM18 368L2 365L2 398L12 398Z"/><path fill="#472f7d" d="M128 414L117 420L105 411L105 409L113 397L125 398L128 403ZM128 414L142 420L151 410L147 401L128 403ZM132 259L149 269L154 266L155 251L142 243L135 247ZM210 359L225 363L225 347L210 355ZM113 397L105 409L96 404L94 401L101 384L106 383ZM166 305L169 290L182 293L184 297L184 299L179 302Z"/><path fill="#3f4889" d="M36 346L52 359L62 354L66 346L60 333L59 332L38 341ZM86 300L71 301L67 308L73 322L86 325L93 303ZM73 322L60 333L59 332L48 314L50 312L67 308Z"/><path fill="#471063" d="M84 454L87 435L92 432L96 437L96 454ZM137 454L144 431L157 436L163 454Z"/><path fill="#433e85" d="M18 291L2 292L2 315L21 301ZM23 366L18 368L2 365L2 345L26 356ZM161 307L152 290L164 286L169 290L166 305ZM78 401L77 414L82 416L96 404L94 401L85 398Z"/><path fill="#472a7a" d="M201 312L188 304L184 299L184 297L203 288L207 289L213 304Z"/><path fill="#424186" d="M40 289L30 304L36 316L48 314L50 312L49 289ZM36 346L52 359L50 367L34 376L23 366L26 356L32 348ZM119 292L114 298L97 300L98 274L99 274L108 273L108 273Z"/><path fill="#453882" d="M182 385L186 392L179 404L170 405L167 388L168 386ZM146 284L149 269L154 266L171 269L171 271L164 286L152 290L151 289Z"/><path fill="#481d6f" d="M66 454L84 454L87 435L69 435ZM225 257L225 280L214 279L209 268L214 258Z"/><path fill="#424086" d="M108 273L108 273L113 255L132 260L127 270ZM86 343L66 346L62 354L82 372L89 363L86 343ZM176 341L166 341L163 348L172 365L176 365L186 354ZM58 252L61 262L75 265L82 253L66 243Z"/><path fill="#46307e" d="M225 325L207 330L208 340L225 343Z"/><path fill="#38598c" d="M97 300L114 298L119 308L116 319L110 320L95 302Z"/><path fill="#3b518b" d="M112 363L109 361L104 344L109 339L120 338L123 340L124 348Z"/><path fill="#472d7b" d="M193 275L183 278L171 271L171 269L177 257L190 255L195 270Z"/><path fill="#39558c" d="M116 319L121 323L120 338L109 339L103 327L110 320Z"/><path fill="#481a6c" d="M47 428L42 419L30 416L2 449L2 454L40 454ZM109 445L113 442L112 429L92 431L92 432L96 437Z"/><path fill="#482374" d="M155 251L154 266L171 269L177 257L169 245Z"/><path fill="#414487" d="M160 311L149 317L147 330L163 337L170 320Z"/><path fill="#482475" d="M34 376L50 367L61 381L48 393L34 387Z"/><path fill="#470e61" d="M203 446L225 449L225 429L203 431ZM12 398L2 398L2 449L30 416L21 400Z"/><path fill="none" stroke="#414487" stroke-width="1.8" stroke-linecap="round" d="M2 449L2 398M30 416L2 449M85 398L78 401M94 401L96 404M34 387L34 376M30 416L42 419M21 400L34 387M92 427L82 416M128 435L125 443M206 250L212 232M206 250L193 252M212 232L188 232M225 411L207 409M203 446L225 449M2 345L2 365M131 388L125 398M107 454L130 454M125 443L130 454M2 454L40 454M47 428L40 454M47 428L65 429M87 435L69 435M190 255L177 257M171 269L171 271M169 290L166 305M182 454L195 454M163 454L137 454M182 454L163 454M139 308L151 289M41 247L58 252M67 232L66 243M167 388L170 405M170 405L179 404M207 373L209 386M210 359L203 367M22 263L2 238M18 291L20 285M40 454L66 454M142 243L146 232M99 274L98 274M168 386L182 385M201 367L189 375M113 255L110 250M214 279L225 280M214 279L209 268M225 280L225 257M207 289L214 279M213 304L225 306M225 232L225 257M206 346L208 340M20 324L2 317M2 315L2 317M225 325L225 343"/><path fill="none" stroke="#375a8c" stroke-width="1.8" stroke-linecap="round" d="M30 416L21 400M12 398L2 398M85 398L87 379M77 414L78 401M82 416L77 414M94 401L85 398M57 405L71 394M50 367L34 376M50 367L61 381M69 383L61 381M117 420L105 411M101 384L106 383M26 356L2 345M62 354L82 372M89 363L86 343M87 326L86 343M147 401L151 410M147 401L128 403M142 420L128 414M148 388L147 401M157 436L144 431M171 423L157 436M167 410L151 410M107 454L96 454M96 437L96 454M42 419L47 428M71 417L65 429M177 257L171 269M183 278L171 271M182 293L184 297M203 288L184 297M188 232L171 232M154 266L171 269M154 266L155 251M160 311L161 307M184 299L179 302M163 337L170 320M124 348L137 357M137 357L134 367M149 376L151 385M148 388L151 385M143 353L137 357M2 315L2 292M183 428L171 423M149 376L154 368M154 368L150 355M149 269L146 284M61 262L58 252M66 243L58 252M41 247L34 232M151 385L167 388M194 394L186 392M210 359L225 363M207 373L203 367M194 394L201 388M201 388L206 388M2 292L18 291M2 315L21 301M21 301L18 291M110 320L95 302M135 308L119 308M34 264L33 265M132 260L127 270M132 260L113 255M108 273L108 273M210 355L225 347M207 289L213 304M180 322L189 329M189 329L199 325M201 312L199 325M182 385L189 377M176 365L189 375M189 375L189 377M171 366L172 365M154 368L171 366M201 388L189 377M52 359L36 346M59 332L38 341M50 312L48 314M30 304L40 289M53 272L55 285M63 287L80 275M84 252L96 259M106 250L90 238M84 252L90 238M96 259L106 250M135 247L119 236M119 228L118 232M190 354L195 348M195 348L189 330M206 346L210 355M2 317L2 345M33 321L20 324M2 345L2 345M71 301L86 300M63 287L71 301M208 340L225 343M207 330L225 325M225 306L225 325M225 347L225 343"/><path fill="none" stroke="#3c4f8a" stroke-width="1.8" stroke-linecap="round" d="M21 400L12 398M78 401L71 394M71 394L69 383M101 384L94 401M71 417L77 414M71 417L57 405M53 405L48 393M42 419L53 405M92 427L105 411M96 404L105 409M113 442L112 429M92 427L92 431M117 420L117 422M92 431L112 429M203 431L195 423M225 411L225 429M207 409L198 413M225 429L225 449M18 368L2 365M12 398L18 368M52 359L62 354M151 410L142 420M128 403L128 414M148 388L131 388M125 398L128 403M144 430L142 420M117 420L128 414M144 430L128 435M113 442L109 445M109 445L107 454M183 278L193 275M195 270L193 275M182 293L183 278M203 288L193 275M193 252L190 255M177 257L169 245M225 232L212 232M171 271L164 286M182 293L169 290M180 322L188 304M180 322L173 320M152 290L164 286M183 428L182 454M183 428L195 423M131 388L123 373M149 376L134 367M144 431L137 454M152 290L151 289M147 330L143 332M154 266L149 269M82 253L66 243M198 413L194 409M179 404L186 392M194 409L194 394M225 389L225 371M225 389L209 386M225 371L207 373M225 371L225 363M207 409L206 388M2 274L2 238M12 275L22 263M87 435L84 454M149 269L132 259M166 341L163 348M108 273L119 292M203 288L207 289M213 304L201 312M176 365L172 365M186 392L182 385M163 348L172 365M38 341L36 346M32 348L36 346M33 321L36 316M21 301L30 304M98 274L81 275M110 250L119 236M90 232L118 232M119 236L118 232M67 232L90 232M146 232L118 232M190 354L186 354M186 354L176 341M201 367L190 354M214 258L225 257M225 306L225 280M32 348L18 338M95 302L93 303M87 326L86 325"/><path fill="none" stroke="#2e6f8e" stroke-width="1.8" stroke-linecap="round" d="M69 383L82 374M82 374L87 379M61 381L48 393M82 372L89 363M86 343L86 343M109 361L104 344M109 361L89 363M104 344L109 339M87 326L103 327M190 255L195 270M166 305L161 307M170 320L173 320M152 290L161 307M163 337L147 330M149 317L160 311M123 373L134 367M124 348L112 363M123 340L124 348M143 353L141 335M109 361L112 363M123 340L120 338M128 322L121 323M135 308L137 308M75 265L61 262M116 319L119 308M114 298L97 300M31 281L20 285M33 265L22 263M155 251L142 243M127 270L108 273M146 284L133 284M98 274L97 300M114 298L119 292M168 386L171 366M48 314L36 316M36 316L30 304M59 332L48 314M38 341L33 321M55 285L49 289M99 274L96 259M80 275L81 275M176 365L186 354M18 338L2 345M86 325L73 322"/><path fill="none" stroke="#453781" stroke-width="1.8" stroke-linecap="round" d="M96 404L82 416M105 411L105 409M128 435L117 422M125 443L113 442M117 422L112 429M193 252L188 232M2 454L2 449M203 431L225 429M203 431L203 446M92 431L92 432M92 432L96 437M92 432L87 435M164 286L169 290M203 446L195 454M157 436L163 454M130 454L137 454M225 411L225 389M209 386L206 388M12 275L2 274M69 435L66 454M142 243L135 247M171 232L146 232M225 363L225 347M209 268L214 258M195 270L209 268"/><path fill="none" stroke="#32648e" stroke-width="1.8" stroke-linecap="round" d="M101 384L87 379M48 393L34 387M53 405L57 405M105 409L113 397M106 383L113 397M18 368L23 366M26 356L23 366M34 376L23 366M2 398L2 365M62 354L66 346M52 359L50 367M103 327L109 339M144 430L144 431M113 397L125 398M169 245L155 251M179 302L173 320M179 302L166 305M170 320L160 311M188 304L184 299M184 297L184 299M149 317L147 330M123 373L116 371M112 363L116 371M106 383L116 371M123 340L141 335M120 338L109 339M143 332L141 335M143 332L128 322M143 353L150 355M149 317L139 308M135 308L128 322M139 308L137 308M151 289L146 284M75 265L82 253M34 264L53 272M53 272L61 262M2 232L34 232M167 410L170 405M194 409L179 404M110 320L116 319M119 308L114 298M2 292L2 274M20 285L12 275M163 337L166 341M150 355L163 348M133 284L126 290M133 284L127 270M119 292L126 290M137 308L126 290M132 260L132 259M210 355L210 359M188 304L201 312M167 388L168 386M201 367L203 367M60 333L66 346M60 333L59 332M26 356L32 348M50 312L49 289M49 289L40 289M31 281L40 289M55 285L63 287M75 265L80 275M82 253L84 252M106 250L110 250M90 238L90 232M189 330L176 341M206 346L195 348M189 329L189 330M199 325L207 330M208 340L207 330M20 324L18 338M67 308L73 322M67 308L71 301M86 325L93 303M50 312L67 308M60 333L73 322"/><path fill="none" stroke="#472a7a" stroke-width="1.8" stroke-linecap="round" d="M195 423L198 413M171 423L167 410M65 429L69 435M169 245L171 232M225 454L195 454M66 454L84 454M96 454L84 454M206 250L214 258"/><path fill="none" stroke="#2a788e" stroke-width="1.8" stroke-linecap="round" d="M66 346L86 343M82 374L82 372M104 344L86 343M120 338L121 323M34 264L41 247M95 302L97 300M103 327L110 320M121 323L116 319M2 232L2 238M135 247L132 259M108 273L113 255M99 274L108 273M166 341L176 341M93 303L86 300M81 275L86 300"/><path fill="none" stroke="#481d6f" stroke-width="1.8" stroke-linecap="round" d="M96 437L109 445M225 449L225 454"/><path fill="none" stroke="#26828e" stroke-width="1.8" stroke-linecap="round" d="M67 232L34 232M33 265L31 281"/><path fill="#471063" d="M178.1 293.4a4.0 4.0 0 1 0 8.1 0a4.0 4.0 0 1 0 -8.1 0zM134.4 356.8a3.1 3.1 0 1 0 6.2 0a3.1 3.1 0 1 0 -6.2 0zM191.2 423.5a3.8 3.8 0 1 0 7.7 0a3.8 3.8 0 1 0 -7.7 0zM166.5 289.9a2.5 2.5 0 1 0 5.1 0a2.5 2.5 0 1 0 -5.1 0zM8.7 274.9a2.9 2.9 0 1 0 5.8 0a2.9 2.9 0 1 0 -5.8 0zM202.6 388.2a3.9 3.9 0 1 0 7.8 0a3.9 3.9 0 1 0 -7.8 0zM88.7 426.6a3.0 3.0 0 1 0 6.1 0a3.0 3.0 0 1 0 -6.1 0zM83.4 324.9a2.7 2.7 0 1 0 5.4 0a2.7 2.7 0 1 0 -5.4 0zM27.6 281.1a3.3 3.3 0 1 0 6.7 0a3.3 3.3 0 1 0 -6.7 0zM210.3 279.3a3.9 3.9 0 1 0 7.8 0a3.9 3.9 0 1 0 -7.8 0zM165.3 244.6a3.4 3.4 0 1 0 6.9 0a3.4 3.4 0 1 0 -6.9 0zM105.5 273.3a2.6 2.6 0 1 0 5.2 0a2.6 2.6 0 1 0 -5.2 0zM146.2 384.8a4.5 4.5 0 1 0 8.9 0a4.5 4.5 0 1 0 -8.9 0zM110.2 441.5a2.6 2.6 0 1 0 5.1 0a2.6 2.6 0 1 0 -5.1 0zM81.8 398.1a3.7 3.7 0 1 0 7.4 0a3.7 3.7 0 1 0 -7.4 0zM185.5 376.5a3.4 3.4 0 1 0 6.8 0a3.4 3.4 0 1 0 -6.8 0zM105.3 360.9a3.7 3.7 0 1 0 7.3 0a3.7 3.7 0 1 0 -7.3 0zM31.4 316.2a4.2 4.2 0 1 0 8.3 0a4.2 4.2 0 1 0 -8.3 0zM167.0 320.5a3.5 3.5 0 1 0 6.9 0a3.5 3.5 0 1 0 -6.9 0zM192.4 270.0a2.7 2.7 0 1 0 5.3 0a2.7 2.7 0 1 0 -5.3 0zM157.5 306.8a3.9 3.9 0 1 0 7.8 0a3.9 3.9 0 1 0 -7.8 0zM31.2 264.5a3.0 3.0 0 1 0 6.0 0a3.0 3.0 0 1 0 -6.0 0zM186.6 255.2a3.4 3.4 0 1 0 6.8 0a3.4 3.4 0 1 0 -6.8 0zM116.1 308.5a2.8 2.8 0 1 0 5.6 0a2.8 2.8 0 1 0 -5.6 0zM173.9 256.5a2.8 2.8 0 1 0 5.6 0a2.8 2.8 0 1 0 -5.6 0zM102.4 249.7a3.4 3.4 0 1 0 6.7 0a3.4 3.4 0 1 0 -6.7 0zM130.5 367.1a3.1 3.1 0 1 0 6.2 0a3.1 3.1 0 1 0 -6.2 0zM77.8 275.1a3.0 3.0 0 1 0 6.0 0a3.0 3.0 0 1 0 -6.0 0zM189.5 393.9a4.4 4.4 0 1 0 8.7 0a4.4 4.4 0 1 0 -8.7 0zM180.2 299.4a3.7 3.7 0 1 0 7.5 0a3.7 3.7 0 1 0 -7.5 0zM105.5 273.4a2.8 2.8 0 1 0 5.6 0a2.8 2.8 0 1 0 -5.6 0zM44.8 428.0a2.6 2.6 0 1 0 5.2 0a2.6 2.6 0 1 0 -5.2 0zM177.9 321.8a2.6 2.6 0 1 0 5.2 0a2.6 2.6 0 1 0 -5.2 0zM112.7 319.0a3.0 3.0 0 1 0 6.0 0a3.0 3.0 0 1 0 -6.0 0zM91.7 259.3a4.0 4.0 0 1 0 8.0 0a4.0 4.0 0 1 0 -8.0 0zM61.6 243.0a4.0 4.0 0 1 0 8.1 0a4.0 4.0 0 1 0 -8.1 0zM142.5 283.8a3.6 3.6 0 1 0 7.3 0a3.6 3.6 0 1 0 -7.3 0zM207.1 354.7a3.2 3.2 0 1 0 6.4 0a3.2 3.2 0 1 0 -6.4 0zM66.6 300.7a4.2 4.2 0 1 0 8.3 0a4.2 4.2 0 1 0 -8.3 0zM175.3 302.4a3.8 3.8 0 1 0 7.7 0a3.8 3.8 0 1 0 -7.7 0zM26.1 304.3a3.4 3.4 0 1 0 6.9 0a3.4 3.4 0 1 0 -6.9 0zM88.0 432.2a3.7 3.7 0 1 0 7.3 0a3.7 3.7 0 1 0 -7.3 0zM121.2 398.0a4.3 4.3 0 1 0 8.6 0a4.3 4.3 0 1 0 -8.6 0zM-1.3 344.9a3.3 3.3 0 1 0 6.6 0a3.3 3.3 0 1 0 -6.6 0zM206.1 358.8a4.2 4.2 0 1 0 8.3 0a4.2 4.2 0 1 0 -8.3 0zM49.0 272.4a4.3 4.3 0 1 0 8.5 0a4.3 4.3 0 1 0 -8.5 0zM141.8 431.1a2.5 2.5 0 1 0 5.1 0a2.5 2.5 0 1 0 -5.1 0zM203.3 408.8a3.3 3.3 0 1 0 6.7 0a3.3 3.3 0 1 0 -6.7 0zM59.2 287.3a4.0 4.0 0 1 0 8.1 0a4.0 4.0 0 1 0 -8.1 0zM140.0 331.9a3.2 3.2 0 1 0 6.4 0a3.2 3.2 0 1 0 -6.4 0zM120.5 372.9a2.7 2.7 0 1 0 5.5 0a2.7 2.7 0 1 0 -5.5 0zM30.6 387.5a3.7 3.7 0 1 0 7.4 0a3.7 3.7 0 1 0 -7.4 0zM105.5 319.6a4.3 4.3 0 1 0 8.5 0a4.3 4.3 0 1 0 -8.5 0zM97.5 384.1a3.1 3.1 0 1 0 6.2 0a3.1 3.1 0 1 0 -6.2 0zM66.7 394.1a4.0 4.0 0 1 0 7.9 0a4.0 4.0 0 1 0 -7.9 0zM-2.3 238.5a4.3 4.3 0 1 0 8.6 0a4.3 4.3 0 1 0 -8.6 0zM34.5 340.6a3.5 3.5 0 1 0 7.1 0a3.5 3.5 0 1 0 -7.1 0zM208.5 303.6a4.1 4.1 0 1 0 8.2 0a4.1 4.1 0 1 0 -8.2 0zM128.7 259.4a3.5 3.5 0 1 0 7.0 0a3.5 3.5 0 1 0 -7.0 0zM144.1 387.7a3.4 3.4 0 1 0 6.8 0a3.4 3.4 0 1 0 -6.8 0z"/></g><g clip-path="url(#pc2)" filter="url(#sblur)"><path fill="#21918c" d="M104.4 383.5a1.7 1.7 0 1 0 3.3 0a1.7 1.7 0 1 0 -3.3 0zM103.7 411.1a1.5 1.5 0 1 0 3.0 0a1.5 1.5 0 1 0 -3.0 0z"/></g><rect x="230" y="232" width="223" height="222.5" fill="#472a7a"/><g clip-path="url(#pc3)" filter="url(#blur)"><path fill="#482576" d="M437 305L423 304L411 316L411 316L424 329L431 328ZM368 242L364 234L363 232L390 232L388 243L377 246ZM439 251L430 253L424 260L430 278L439 280L453 275L453 261Z"/><path fill="#433e85" d="M322 298L299 303L298 312L307 326L320 317L323 299ZM326 381L309 398L297 388L304 367L324 370ZM323 299L320 317L339 322L349 307L339 293Z"/><path fill="#433d84" d="M383 258L388 260L393 265L394 272L388 279L372 276L369 266ZM380 333L382 348L364 357L357 337L368 326ZM314 287L297 296L293 292L293 279L313 276Z"/><path fill="#482677" d="M407 374L419 355L425 356L434 380L424 387L410 383ZM415 287L416 285L406 275L394 272L388 279L390 296L401 296ZM357 424L360 426L357 454L326 454L326 432L338 421ZM371 422L387 434L385 454L357 454L360 426ZM272 311L270 308L253 313L247 335L269 341L277 331ZM341 276L342 280L365 284L372 276L369 266L364 262L349 264ZM368 242L364 262L369 266L383 258L377 246ZM255 390L251 398L230 402L230 376L250 370L251 370Z"/><path fill="#453581" d="M345 253L364 234L363 232L322 232L321 239ZM431 354L453 363L453 380L434 380L425 356ZM380 375L393 369L392 351L382 348L364 357L363 362ZM380 391L405 390L410 383L407 374L393 369L380 375ZM273 277L264 281L271 300L293 292L293 279L292 279Z"/><path fill="#481769" d="M377 246L388 243L391 246L388 260L383 258ZM437 305L453 310L453 275L439 280Z"/><path fill="#472a7a" d="M341 276L319 267L317 261L320 241L321 239L345 253L349 264ZM281 391L255 390L251 370L272 363L282 390ZM257 407L251 398L255 390L281 391L278 406ZM378 406L400 412L401 425L387 434L371 422Z"/><path fill="#463480" d="M339 293L349 307L356 307L367 291L365 284L342 280ZM305 334L306 336L298 358L273 361L269 341L277 331Z"/><path fill="#481d6f" d="M402 247L402 232L390 232L388 243L391 246Z"/><path fill="#471365" d="M231 427L247 446L246 454L230 454L230 426ZM404 408L430 409L424 387L410 383L405 390Z"/><path fill="#414487" d="M376 396L353 392L351 391L355 367L363 362L380 375L380 391Z"/><path fill="#482878" d="M407 251L415 259L406 275L394 272L393 265L405 251ZM415 287L423 304L411 316L401 296ZM230 339L230 376L250 370L238 340Z"/><path fill="#404588" d="M324 370L304 367L298 358L306 336L331 348L333 360ZM298 312L299 303L297 296L293 292L271 300L270 308L272 311Z"/><path fill="#443a83" d="M368 326L368 318L356 307L349 307L339 322L343 334L357 337Z"/><path fill="#443b84" d="M273 277L283 252L292 262L292 279Z"/><path fill="#423f85" d="M380 333L397 325L398 323L384 308L368 318L368 326ZM355 367L333 360L331 348L343 334L357 337L364 357L363 362Z"/><path fill="#482979" d="M320 241L282 248L283 252L292 262L317 261ZM319 267L313 276L293 279L292 279L292 262L317 261ZM264 430L263 437L271 454L294 454L291 425L284 421ZM335 405L311 404L307 417L326 432L338 421ZM322 298L299 303L297 296L314 287Z"/><path fill="#46307e" d="M431 328L424 329L415 348L419 355L425 356L431 354L443 334ZM376 396L378 406L400 412L404 408L405 390L380 391ZM376 396L378 406L371 422L360 426L357 424L353 392Z"/><path fill="#482173" d="M349 264L364 262L368 242L364 234L345 253ZM443 334L431 354L453 363L453 333ZM264 281L271 300L270 308L253 313L230 296L230 296L258 278Z"/><path fill="#482475" d="M275 232L230 232L230 247L253 260L277 244ZM272 363L273 361L269 341L247 335L238 340L250 370L251 370Z"/><path fill="#482374" d="M432 412L430 409L404 408L400 412L401 425L408 429L426 427ZM307 417L291 425L294 454L326 454L326 432Z"/><path fill="#472f7d" d="M253 260L258 278L230 296L230 247ZM277 244L282 248L283 252L273 277L264 281L258 278L253 260Z"/><path fill="#48186a" d="M432 412L453 409L453 380L434 380L424 387L430 409ZM405 251L393 265L388 260L391 246L402 247Z"/><path fill="#472d7b" d="M401 296L390 296L386 301L384 308L398 323L411 316L411 316Z"/><path fill="#481a6c" d="M439 251L441 232L420 232L419 238L430 253Z"/><path fill="#481b6d" d="M387 434L401 425L408 429L409 454L385 454ZM238 340L247 335L253 313L230 296L230 339ZM264 430L263 437L247 446L231 427L254 423ZM277 244L275 232L322 232L321 239L320 241L282 248Z"/><path fill="#471063" d="M430 253L419 238L407 251L415 259L424 260Z"/><path fill="#46337f" d="M307 326L298 312L272 311L277 331L305 334ZM264 430L284 421L278 406L257 407L254 423Z"/><path fill="#481467" d="M426 427L408 429L409 454L425 454L431 436Z"/><path fill="#453781" d="M386 301L367 291L365 284L372 276L388 279L390 296ZM403 344L415 348L419 355L407 374L393 369L392 351Z"/><path fill="#453882" d="M284 421L291 425L307 417L311 404L309 398L297 388L282 390L281 391L278 406ZM351 391L343 393L326 381L324 370L333 360L355 367Z"/><path fill="#472e7c" d="M453 261L453 232L441 232L439 251ZM407 251L419 238L420 232L402 232L402 247L405 251Z"/><path fill="#470d60" d="M430 278L416 285L406 275L415 259L424 260Z"/><path fill="#414287" d="M307 326L320 317L339 322L343 334L331 348L306 336L305 334Z"/><path fill="#424186" d="M282 390L297 388L304 367L298 358L273 361L272 363ZM380 333L397 325L403 344L392 351L382 348Z"/><path fill="#440154" d="M432 412L426 427L431 436L453 439L453 409Z"/><path fill="#470e61" d="M431 436L453 439L453 454L425 454Z"/><path fill="#424086" d="M386 301L367 291L356 307L368 318L384 308Z"/><path fill="#481c6e" d="M254 423L231 427L230 426L230 402L251 398L257 407Z"/><path fill="#481f70" d="M437 305L423 304L415 287L416 285L430 278L439 280L437 305Z"/><path fill="#482071" d="M437 305L431 328L443 334L453 333L453 310L437 305Z"/><path fill="#3e4c8a" d="M343 393L326 381L309 398L311 404L335 405Z"/><path fill="#404688" d="M353 392L357 424L338 421L335 405L343 393L351 391Z"/><path fill="#481668" d="M247 446L246 454L271 454L263 437Z"/><path fill="#3f4788" d="M341 276L342 280L339 293L323 299L322 298L314 287L313 276L319 267Z"/><path fill="#443983" d="M411 316L424 329L415 348L403 344L397 325L398 323Z"/><path fill="none" stroke="#375a8c" stroke-width="1.7" stroke-linecap="round" d="M425 356L419 355M398 323L411 316M368 318L356 307M271 300L270 308M272 311L298 312M305 334L307 326M247 335L269 341M306 336L305 334M331 348L306 336M331 348L343 334M410 383L405 390M405 390L404 408M401 425L387 434M364 357L357 337M364 357L382 348M382 348L380 333M339 322L349 307M356 307L349 307M333 360L324 370M360 426L371 422M371 422L378 406M363 232L390 232M388 279L394 272M297 296L314 287M349 307L339 293M314 287L322 298M230 402L230 426M238 340L230 339M272 363L282 390M273 361L272 363M291 425L284 421M311 404L335 405M363 362L355 367M380 375L380 391M353 392L376 396M292 279L273 277M383 258L377 246M388 243L391 246M363 232L364 234M391 246L402 247M319 267L341 276M364 262L349 264M364 234L345 253"/><path fill="none" stroke="#414487" stroke-width="1.7" stroke-linecap="round" d="M425 356L434 380M424 387L410 383M410 383L407 374M415 348L419 355M453 454L425 454M409 454L425 454M388 279L372 276M424 329L411 316M356 307L367 291M384 308L386 301M230 296L258 278M271 300L264 281M258 278L264 281M339 322L320 317M387 434L385 454M326 454L357 454M453 380L453 363M425 356L431 354M368 326L380 333M304 367L324 370M304 367L297 388M324 370L326 381M291 425L307 417M326 454L326 432M357 454L360 426M387 434L371 422M400 412L378 406M453 439L453 409M431 436L453 439M431 436L426 427M404 408L400 412M411 316L423 304M423 304L415 287M390 296L401 296M293 279L313 276M293 279L293 292M313 276L314 287M255 390L281 391M297 388L282 390M278 406L257 407M338 421L335 405M405 390L380 391M292 262L283 252M283 252L273 277M369 266L383 258M377 246L368 242M394 272L393 265M388 260L393 265M419 238L407 251M405 251L407 251M406 275L415 259M415 259L407 251M321 239L345 253M342 280L341 276M253 260L230 247M253 260L277 244M424 329L431 328M453 275L453 310M275 232L322 232M363 232L322 232M230 232L275 232M439 251L441 232M420 232L441 232M453 275L453 261"/><path fill="none" stroke="#3c4f8a" stroke-width="1.7" stroke-linecap="round" d="M419 355L407 374M393 369L392 351M388 279L390 296M367 291L386 301M390 296L386 301M397 325L403 344M253 313L270 308M253 313L230 296M270 308L272 311M298 358L306 336M273 361L269 341M271 300L293 292M297 296L299 303M343 334L339 322M320 317L307 326M424 387L430 409M401 425L408 429M326 454L294 454M357 337L368 326M392 351L382 348M397 325L380 333M368 318L368 326M309 398L326 381M297 388L309 398M326 432L307 417M408 429L426 427M365 284L342 280M342 280L339 293M299 303L322 298M339 293L323 299M323 299L322 298M250 370L230 376M250 370L238 340M230 376L230 339M247 335L238 340M230 296L230 339M251 370L272 363M251 398L230 402M254 423L264 430M251 398L257 407M309 398L311 404M307 417L311 404M326 432L338 421M338 421L357 424M326 381L343 393M335 405L343 393M351 391L353 392M393 369L380 375M378 406L376 396M293 279L292 279M264 281L273 277M369 266L364 262M388 260L383 258M415 259L424 260M419 238L430 253M317 261L319 267M321 239L320 241M349 264L341 276M282 248L283 252M282 248L320 241M292 262L317 261M313 276L319 267M258 278L253 260M282 248L277 244M437 305L453 310M423 304L437 305M321 239L322 232"/><path fill="none" stroke="#453781" stroke-width="1.7" stroke-linecap="round" d="M434 380L424 387M393 369L407 374M392 351L403 344M415 348L424 329M299 303L298 312M430 409L404 408M357 454L385 454M408 429L409 454M271 454L294 454M453 380L434 380M431 354L453 363M398 323L384 308M331 348L333 360M426 427L432 412M430 409L432 412M453 380L453 409M411 316L401 296M401 296L415 287M406 275L416 285M416 285L415 287M247 446L246 454M230 454L230 426M231 427L230 426M251 398L255 390M250 370L251 370M278 406L284 421M284 421L264 430M281 391L278 406M263 437L264 430M231 427L254 423M380 391L376 396M391 246L388 260M388 243L377 246M364 234L368 242M402 247L402 232M419 238L420 232M390 232L402 232M424 260L430 278M317 261L320 241M230 232L230 247M443 334L453 333M431 328L437 305M437 305L437 305M430 278L439 280M277 244L275 232M453 232L441 232M453 232L453 261M439 251L453 261M430 253L439 251"/><path fill="none" stroke="#32648e" stroke-width="1.7" stroke-linecap="round" d="M415 348L403 344M372 276L365 284M367 291L365 284M397 325L398 323M368 318L384 308M277 331L272 311M277 331L305 334M298 312L307 326M269 341L277 331M298 358L273 361M320 317L323 299M230 402L230 376M360 426L357 424M363 362L380 375M355 367L351 391M333 360L355 367M343 393L351 391M364 262L368 242M393 265L405 251M345 253L349 264"/><path fill="none" stroke="#472a7a" stroke-width="1.7" stroke-linecap="round" d="M230 296L230 296M253 313L247 335M291 425L294 454M453 454L453 439M425 454L431 436M411 316L411 316M394 272L406 275M247 446L231 427M271 454L246 454M263 437L271 454M263 437L247 446M251 370L255 390M282 390L281 391M257 407L254 423M388 243L390 232M402 232L420 232M424 260L430 253M416 285L430 278M230 296L230 247M443 334L431 328M431 354L443 334M453 363L453 333M439 280L453 275M439 280L437 305"/><path fill="none" stroke="#2a788e" stroke-width="1.7" stroke-linecap="round" d="M293 292L297 296"/><path fill="none" stroke="#481d6f" stroke-width="1.7" stroke-linecap="round" d="M409 454L385 454M401 425L400 412M402 247L405 251M453 333L453 310"/><path fill="none" stroke="#2e6f8e" stroke-width="1.7" stroke-linecap="round" d="M343 334L357 337M298 358L304 367M364 357L363 362M357 424L353 392M292 262L292 279M372 276L369 266"/><path fill="none" stroke="#471063" stroke-width="1.7" stroke-linecap="round" d="M432 412L453 409"/><path fill="none" stroke="#440154" stroke-width="1.7" stroke-linecap="round" d="M230 454L246 454"/><path fill="#471063" d="M280.4 252.1a2.9 2.9 0 1 0 5.8 0a2.9 2.9 0 1 0 -5.8 0zM294.8 302.9a4.3 4.3 0 1 0 8.5 0a4.3 4.3 0 1 0 -8.5 0zM384.3 278.6a4.0 4.0 0 1 0 7.9 0a4.0 4.0 0 1 0 -7.9 0zM363.4 242.2a4.8 4.8 0 1 0 9.5 0a4.8 4.8 0 1 0 -9.5 0zM400.0 407.9a3.8 3.8 0 1 0 7.5 0a3.8 3.8 0 1 0 -7.5 0zM300.6 333.8a4.5 4.5 0 1 0 9.1 0a4.5 4.5 0 1 0 -9.1 0zM307.2 404.1a3.6 3.6 0 1 0 7.3 0a3.6 3.6 0 1 0 -7.3 0zM303.0 417.2a3.5 3.5 0 1 0 7.1 0a3.5 3.5 0 1 0 -7.1 0zM353.1 307.4a3.2 3.2 0 1 0 6.3 0a3.2 3.2 0 1 0 -6.3 0zM380.6 308.2a3.7 3.7 0 1 0 7.5 0a3.7 3.7 0 1 0 -7.5 0zM411.6 347.9a3.1 3.1 0 1 0 6.2 0a3.1 3.1 0 1 0 -6.2 0zM259.0 281.3a4.7 4.7 0 1 0 9.4 0a4.7 4.7 0 1 0 -9.4 0zM308.3 275.9a4.6 4.6 0 1 0 9.2 0a4.6 4.6 0 1 0 -9.2 0zM423.1 427.3a3.1 3.1 0 1 0 6.3 0a3.1 3.1 0 1 0 -6.3 0z"/></g><g clip-path="url(#pc3)" filter="url(#sblur)"><path fill="#21918c" d="M271.1 311.0a1.2 1.2 0 1 0 2.4 0a1.2 1.2 0 1 0 -2.4 0zM245.3 445.5a1.7 1.7 0 1 0 3.4 0a1.7 1.7 0 1 0 -3.4 0z"/></g><g clip-path="url(#pc2)"><g filter="url(#bigblur)"><rect x="2" y="418" width="223" height="40" fill="#440154" fill-opacity="0.45"/><rect x="195" y="232" width="40" height="70" fill="#440154" fill-opacity="0.3"/><rect x="210" y="232" width="20" height="223" fill="#440154" fill-opacity="0.2"/></g></g><g clip-path="url(#pc3)"><g filter="url(#bigblur)"><rect x="428" y="232" width="30" height="223" fill="#440154" fill-opacity="0.45"/><rect x="230" y="420" width="223" height="40" fill="#440154" fill-opacity="0.35"/><rect x="395" y="232" width="60" height="50" fill="#440154" fill-opacity="0.35"/><rect x="230" y="232" width="14" height="223" fill="#440154" fill-opacity="0.15"/></g></g><g clip-path="url(#pc1)"><g filter="url(#bigblur)"><rect x="230" y="195" width="223" height="35" fill="#440154" fill-opacity="0.25"/><rect x="385" y="150" width="70" height="80" fill="#440154" fill-opacity="0.25"/></g></g><rect x="18" y="206" width="40.5" height="5.5" fill="#fff"/><circle cx="55" cy="74.4" r="4.4" fill="none" stroke="#ff0000" stroke-width="2.8"/><rect x="184.5" y="105.1" width="9" height="9" fill="none" stroke="#f7c000" stroke-width="2.8"/><text transform="translate(10.00,32.60) scale(1.0200,1)" class="pl" font-size="23.80">Control</text><rect x="244" y="206.2" width="40.5" height="5.5" fill="#fff"/><circle cx="335.4" cy="85.5" r="4.4" fill="none" stroke="#ff0000" stroke-width="2.8"/><rect x="378.0" y="40.5" width="9" height="9" fill="none" stroke="#f7c000" stroke-width="2.8"/><text transform="translate(238.50,31.80) scale(1.0200,1)" class="pl" font-size="23.80">MACl</text><rect x="18" y="433.5" width="40.5" height="5.5" fill="#fff"/><circle cx="51.4" cy="354.8" r="4.4" fill="none" stroke="#ff0000" stroke-width="2.8"/><rect x="178.1" y="266.1" width="9" height="9" fill="none" stroke="#f7c000" stroke-width="2.8"/><text transform="translate(10.50,261.50) scale(1.0200,1)" class="pl" font-size="23.80">PbCl<tspan font-size="16.5" dy="4.8">2</tspan></text><rect x="244" y="434.7" width="40.5" height="5.5" fill="#fff"/><circle cx="319" cy="321.5" r="4.4" fill="none" stroke="#ff0000" stroke-width="2.8"/><rect x="374.7" y="355.2" width="9" height="9" fill="none" stroke="#f7c000" stroke-width="2.8"/><text transform="translate(237.40,262.00) scale(1.0016,1)" class="pl" font-size="23.80">MACl + PbCl<tspan font-size="16.5" dy="4.8">2</tspan></text>
<path clip-path="url(#c0)" d="M528.8 184.1h6.4v6.4h-6.4zM530.0 183.3h6.4v6.4h-6.4zM531.1 184.6h6.4v6.4h-6.4zM532.3 186.1h6.4v6.4h-6.4zM533.5 184.9h6.4v6.4h-6.4zM534.6 186.1h6.4v6.4h-6.4zM535.8 183.4h6.4v6.4h-6.4zM537.0 180.0h6.4v6.4h-6.4zM538.2 184.5h6.4v6.4h-6.4zM539.3 184.8h6.4v6.4h-6.4zM540.5 181.8h6.4v6.4h-6.4zM541.7 182.0h6.4v6.4h-6.4zM542.8 182.5h6.4v6.4h-6.4zM544.0 185.0h6.4v6.4h-6.4zM545.2 182.6h6.4v6.4h-6.4zM546.3 180.6h6.4v6.4h-6.4zM547.5 185.7h6.4v6.4h-6.4zM548.7 183.3h6.4v6.4h-6.4zM549.9 186.7h6.4v6.4h-6.4zM551.0 185.0h6.4v6.4h-6.4zM552.2 186.3h6.4v6.4h-6.4zM553.4 182.0h6.4v6.4h-6.4zM554.5 184.4h6.4v6.4h-6.4zM555.7 180.3h6.4v6.4h-6.4zM556.9 180.4h6.4v6.4h-6.4zM558.0 181.1h6.4v6.4h-6.4zM559.2 186.8h6.4v6.4h-6.4zM560.4 181.5h6.4v6.4h-6.4zM561.6 180.0h6.4v6.4h-6.4zM562.7 179.4h6.4v6.4h-6.4zM563.9 183.2h6.4v6.4h-6.4zM565.1 180.3h6.4v6.4h-6.4zM566.2 181.3h6.4v6.4h-6.4zM567.4 180.5h6.4v6.4h-6.4zM568.6 175.4h6.4v6.4h-6.4zM569.8 179.8h6.4v6.4h-6.4zM570.9 177.5h6.4v6.4h-6.4zM572.1 174.7h6.4v6.4h-6.4zM573.3 178.0h6.4v6.4h-6.4zM574.4 176.3h6.4v6.4h-6.4zM575.6 175.3h6.4v6.4h-6.4zM576.8 174.9h6.4v6.4h-6.4zM577.9 177.6h6.4v6.4h-6.4zM579.1 173.7h6.4v6.4h-6.4zM580.3 169.8h6.4v6.4h-6.4zM581.4 176.4h6.4v6.4h-6.4zM582.6 169.6h6.4v6.4h-6.4zM583.8 170.7h6.4v6.4h-6.4zM585.0 171.8h6.4v6.4h-6.4zM586.1 164.2h6.4v6.4h-6.4zM587.3 166.3h6.4v6.4h-6.4zM588.5 170.3h6.4v6.4h-6.4zM589.6 165.9h6.4v6.4h-6.4zM590.8 163.5h6.4v6.4h-6.4zM592.0 164.2h6.4v6.4h-6.4zM593.1 160.6h6.4v6.4h-6.4zM594.3 161.1h6.4v6.4h-6.4zM595.5 157.7h6.4v6.4h-6.4zM596.7 154.1h6.4v6.4h-6.4zM597.8 157.8h6.4v6.4h-6.4zM599.0 153.8h6.4v6.4h-6.4zM600.2 153.5h6.4v6.4h-6.4zM601.3 150.0h6.4v6.4h-6.4zM602.5 151.2h6.4v6.4h-6.4zM603.7 147.4h6.4v6.4h-6.4zM604.8 144.1h6.4v6.4h-6.4zM606.0 138.9h6.4v6.4h-6.4zM607.2 135.7h6.4v6.4h-6.4zM608.4 139.2h6.4v6.4h-6.4zM609.5 135.1h6.4v6.4h-6.4zM610.7 128.5h6.4v6.4h-6.4zM611.9 132.2h6.4v6.4h-6.4zM613.0 125.2h6.4v6.4h-6.4zM614.2 121.1h6.4v6.4h-6.4zM615.4 114.3h6.4v6.4h-6.4zM616.5 112.3h6.4v6.4h-6.4zM617.7 111.4h6.4v6.4h-6.4zM618.9 108.0h6.4v6.4h-6.4zM620.1 104.1h6.4v6.4h-6.4zM621.2 96.0h6.4v6.4h-6.4zM622.4 97.3h6.4v6.4h-6.4zM623.6 93.3h6.4v6.4h-6.4zM624.7 88.0h6.4v6.4h-6.4zM625.9 85.6h6.4v6.4h-6.4zM627.1 82.2h6.4v6.4h-6.4zM628.2 81.1h6.4v6.4h-6.4zM629.4 75.0h6.4v6.4h-6.4zM630.6 72.9h6.4v6.4h-6.4zM631.8 65.9h6.4v6.4h-6.4zM632.9 64.4h6.4v6.4h-6.4zM634.1 63.7h6.4v6.4h-6.4zM635.3 59.7h6.4v6.4h-6.4zM636.4 60.4h6.4v6.4h-6.4zM637.6 55.4h6.4v6.4h-6.4zM638.8 57.0h6.4v6.4h-6.4zM639.9 54.7h6.4v6.4h-6.4zM641.1 59.1h6.4v6.4h-6.4zM642.3 55.1h6.4v6.4h-6.4zM643.5 60.7h6.4v6.4h-6.4zM644.6 62.5h6.4v6.4h-6.4zM645.8 59.4h6.4v6.4h-6.4zM647.0 62.6h6.4v6.4h-6.4zM648.1 61.9h6.4v6.4h-6.4zM649.3 58.9h6.4v6.4h-6.4zM650.5 69.3h6.4v6.4h-6.4zM651.6 71.6h6.4v6.4h-6.4zM652.8 72.5h6.4v6.4h-6.4zM654.0 75.0h6.4v6.4h-6.4zM655.2 80.1h6.4v6.4h-6.4zM656.3 83.6h6.4v6.4h-6.4zM657.5 84.9h6.4v6.4h-6.4zM658.7 89.0h6.4v6.4h-6.4zM659.8 96.6h6.4v6.4h-6.4zM661.0 97.8h6.4v6.4h-6.4zM662.2 101.2h6.4v6.4h-6.4zM663.3 107.6h6.4v6.4h-6.4zM664.5 107.8h6.4v6.4h-6.4zM665.7 114.2h6.4v6.4h-6.4zM666.9 113.0h6.4v6.4h-6.4zM668.0 118.3h6.4v6.4h-6.4zM669.2 121.9h6.4v6.4h-6.4zM670.4 126.8h6.4v6.4h-6.4zM671.5 128.7h6.4v6.4h-6.4zM672.7 136.4h6.4v6.4h-6.4zM673.9 137.1h6.4v6.4h-6.4zM675.0 136.1h6.4v6.4h-6.4zM676.2 145.0h6.4v6.4h-6.4zM677.4 140.0h6.4v6.4h-6.4zM678.6 149.0h6.4v6.4h-6.4zM679.7 145.0h6.4v6.4h-6.4zM680.9 151.2h6.4v6.4h-6.4zM682.1 149.2h6.4v6.4h-6.4zM683.2 152.8h6.4v6.4h-6.4zM684.4 158.9h6.4v6.4h-6.4zM685.6 153.6h6.4v6.4h-6.4zM686.8 154.8h6.4v6.4h-6.4zM687.9 160.2h6.4v6.4h-6.4zM689.1 162.2h6.4v6.4h-6.4zM690.3 163.3h6.4v6.4h-6.4zM691.4 166.7h6.4v6.4h-6.4zM692.6 162.6h6.4v6.4h-6.4zM693.8 167.9h6.4v6.4h-6.4zM694.9 167.8h6.4v6.4h-6.4zM696.1 170.7h6.4v6.4h-6.4zM697.3 171.2h6.4v6.4h-6.4zM698.4 173.7h6.4v6.4h-6.4zM699.6 168.1h6.4v6.4h-6.4zM700.8 172.5h6.4v6.4h-6.4zM702.0 170.4h6.4v6.4h-6.4zM703.1 173.4h6.4v6.4h-6.4zM704.3 175.9h6.4v6.4h-6.4zM705.5 175.5h6.4v6.4h-6.4zM706.6 176.7h6.4v6.4h-6.4zM707.8 175.7h6.4v6.4h-6.4zM709.0 177.2h6.4v6.4h-6.4zM710.1 177.5h6.4v6.4h-6.4zM711.3 180.6h6.4v6.4h-6.4zM712.5 179.6h6.4v6.4h-6.4zM713.7 173.7h6.4v6.4h-6.4zM714.8 180.0h6.4v6.4h-6.4zM716.0 181.3h6.4v6.4h-6.4zM717.2 178.1h6.4v6.4h-6.4zM718.3 175.6h6.4v6.4h-6.4zM719.5 183.2h6.4v6.4h-6.4zM720.7 180.3h6.4v6.4h-6.4zM721.8 181.6h6.4v6.4h-6.4zM723.0 184.7h6.4v6.4h-6.4zM724.2 178.6h6.4v6.4h-6.4zM725.4 180.8h6.4v6.4h-6.4zM726.5 180.7h6.4v6.4h-6.4zM727.7 183.0h6.4v6.4h-6.4zM728.9 180.2h6.4v6.4h-6.4zM730.0 182.9h6.4v6.4h-6.4zM731.2 182.0h6.4v6.4h-6.4zM732.4 184.6h6.4v6.4h-6.4zM733.5 185.1h6.4v6.4h-6.4zM734.7 178.8h6.4v6.4h-6.4zM735.9 183.6h6.4v6.4h-6.4zM737.1 181.7h6.4v6.4h-6.4zM738.2 182.7h6.4v6.4h-6.4zM739.4 183.8h6.4v6.4h-6.4zM740.6 184.1h6.4v6.4h-6.4zM741.7 181.4h6.4v6.4h-6.4zM742.9 183.9h6.4v6.4h-6.4zM744.1 183.6h6.4v6.4h-6.4zM745.2 183.3h6.4v6.4h-6.4zM746.4 180.5h6.4v6.4h-6.4zM747.6 181.8h6.4v6.4h-6.4zM748.8 182.7h6.4v6.4h-6.4zM749.9 185.2h6.4v6.4h-6.4zM751.1 187.4h6.4v6.4h-6.4zM752.3 181.6h6.4v6.4h-6.4zM753.4 181.6h6.4v6.4h-6.4zM754.6 184.5h6.4v6.4h-6.4zM755.8 182.9h6.4v6.4h-6.4zM756.9 182.3h6.4v6.4h-6.4zM758.1 182.3h6.4v6.4h-6.4zM759.3 182.1h6.4v6.4h-6.4zM760.5 185.7h6.4v6.4h-6.4zM761.6 180.8h6.4v6.4h-6.4zM762.8 187.9h6.4v6.4h-6.4z" fill="none" stroke="#ffc21f" stroke-width="1.05" stroke-opacity="0.55"/><path clip-path="url(#c0)" d="M527.9 187.0a4.1 4.1 0 1 0 8.2 0a4.1 4.1 0 1 0 -8.2 0zM529.1 187.7a4.1 4.1 0 1 0 8.2 0a4.1 4.1 0 1 0 -8.2 0zM530.2 187.0a4.1 4.1 0 1 0 8.2 0a4.1 4.1 0 1 0 -8.2 0zM531.4 185.2a4.1 4.1 0 1 0 8.2 0a4.1 4.1 0 1 0 -8.2 0zM532.6 185.9a4.1 4.1 0 1 0 8.2 0a4.1 4.1 0 1 0 -8.2 0zM533.8 190.4a4.1 4.1 0 1 0 8.2 0a4.1 4.1 0 1 0 -8.2 0zM534.9 191.4a4.1 4.1 0 1 0 8.2 0a4.1 4.1 0 1 0 -8.2 0zM536.1 187.0a4.1 4.1 0 1 0 8.2 0a4.1 4.1 0 1 0 -8.2 0zM537.3 190.2a4.1 4.1 0 1 0 8.2 0a4.1 4.1 0 1 0 -8.2 0zM538.4 188.4a4.1 4.1 0 1 0 8.2 0a4.1 4.1 0 1 0 -8.2 0zM539.6 186.9a4.1 4.1 0 1 0 8.2 0a4.1 4.1 0 1 0 -8.2 0zM540.8 191.2a4.1 4.1 0 1 0 8.2 0a4.1 4.1 0 1 0 -8.2 0zM541.9 192.0a4.1 4.1 0 1 0 8.2 0a4.1 4.1 0 1 0 -8.2 0zM543.1 187.9a4.1 4.1 0 1 0 8.2 0a4.1 4.1 0 1 0 -8.2 0zM544.3 188.2a4.1 4.1 0 1 0 8.2 0a4.1 4.1 0 1 0 -8.2 0zM545.4 188.7a4.1 4.1 0 1 0 8.2 0a4.1 4.1 0 1 0 -8.2 0zM546.6 188.2a4.1 4.1 0 1 0 8.2 0a4.1 4.1 0 1 0 -8.2 0zM547.8 189.7a4.1 4.1 0 1 0 8.2 0a4.1 4.1 0 1 0 -8.2 0zM549.0 190.8a4.1 4.1 0 1 0 8.2 0a4.1 4.1 0 1 0 -8.2 0zM550.1 188.5a4.1 4.1 0 1 0 8.2 0a4.1 4.1 0 1 0 -8.2 0zM551.3 189.9a4.1 4.1 0 1 0 8.2 0a4.1 4.1 0 1 0 -8.2 0zM552.5 191.0a4.1 4.1 0 1 0 8.2 0a4.1 4.1 0 1 0 -8.2 0zM553.6 187.3a4.1 4.1 0 1 0 8.2 0a4.1 4.1 0 1 0 -8.2 0zM554.8 188.2a4.1 4.1 0 1 0 8.2 0a4.1 4.1 0 1 0 -8.2 0zM556.0 187.4a4.1 4.1 0 1 0 8.2 0a4.1 4.1 0 1 0 -8.2 0zM557.1 189.8a4.1 4.1 0 1 0 8.2 0a4.1 4.1 0 1 0 -8.2 0zM558.3 189.2a4.1 4.1 0 1 0 8.2 0a4.1 4.1 0 1 0 -8.2 0zM559.5 189.7a4.1 4.1 0 1 0 8.2 0a4.1 4.1 0 1 0 -8.2 0zM560.7 189.5a4.1 4.1 0 1 0 8.2 0a4.1 4.1 0 1 0 -8.2 0zM561.8 187.6a4.1 4.1 0 1 0 8.2 0a4.1 4.1 0 1 0 -8.2 0zM563.0 189.2a4.1 4.1 0 1 0 8.2 0a4.1 4.1 0 1 0 -8.2 0zM564.2 187.2a4.1 4.1 0 1 0 8.2 0a4.1 4.1 0 1 0 -8.2 0zM565.3 187.2a4.1 4.1 0 1 0 8.2 0a4.1 4.1 0 1 0 -8.2 0zM566.5 184.2a4.1 4.1 0 1 0 8.2 0a4.1 4.1 0 1 0 -8.2 0zM567.7 190.1a4.1 4.1 0 1 0 8.2 0a4.1 4.1 0 1 0 -8.2 0zM568.9 186.1a4.1 4.1 0 1 0 8.2 0a4.1 4.1 0 1 0 -8.2 0zM570.0 187.7a4.1 4.1 0 1 0 8.2 0a4.1 4.1 0 1 0 -8.2 0zM571.2 187.5a4.1 4.1 0 1 0 8.2 0a4.1 4.1 0 1 0 -8.2 0zM572.4 189.9a4.1 4.1 0 1 0 8.2 0a4.1 4.1 0 1 0 -8.2 0zM573.5 188.1a4.1 4.1 0 1 0 8.2 0a4.1 4.1 0 1 0 -8.2 0zM574.7 186.0a4.1 4.1 0 1 0 8.2 0a4.1 4.1 0 1 0 -8.2 0zM575.9 187.3a4.1 4.1 0 1 0 8.2 0a4.1 4.1 0 1 0 -8.2 0zM577.0 186.9a4.1 4.1 0 1 0 8.2 0a4.1 4.1 0 1 0 -8.2 0zM578.2 187.5a4.1 4.1 0 1 0 8.2 0a4.1 4.1 0 1 0 -8.2 0zM579.4 184.9a4.1 4.1 0 1 0 8.2 0a4.1 4.1 0 1 0 -8.2 0zM580.5 186.8a4.1 4.1 0 1 0 8.2 0a4.1 4.1 0 1 0 -8.2 0zM581.7 190.4a4.1 4.1 0 1 0 8.2 0a4.1 4.1 0 1 0 -8.2 0zM582.9 187.7a4.1 4.1 0 1 0 8.2 0a4.1 4.1 0 1 0 -8.2 0zM584.1 189.7a4.1 4.1 0 1 0 8.2 0a4.1 4.1 0 1 0 -8.2 0zM585.2 191.8a4.1 4.1 0 1 0 8.2 0a4.1 4.1 0 1 0 -8.2 0zM586.4 186.9a4.1 4.1 0 1 0 8.2 0a4.1 4.1 0 1 0 -8.2 0zM587.6 183.5a4.1 4.1 0 1 0 8.2 0a4.1 4.1 0 1 0 -8.2 0zM588.7 185.6a4.1 4.1 0 1 0 8.2 0a4.1 4.1 0 1 0 -8.2 0zM589.9 187.5a4.1 4.1 0 1 0 8.2 0a4.1 4.1 0 1 0 -8.2 0zM591.1 186.9a4.1 4.1 0 1 0 8.2 0a4.1 4.1 0 1 0 -8.2 0zM592.2 183.1a4.1 4.1 0 1 0 8.2 0a4.1 4.1 0 1 0 -8.2 0zM593.4 184.5a4.1 4.1 0 1 0 8.2 0a4.1 4.1 0 1 0 -8.2 0zM594.6 184.5a4.1 4.1 0 1 0 8.2 0a4.1 4.1 0 1 0 -8.2 0zM595.8 184.4a4.1 4.1 0 1 0 8.2 0a4.1 4.1 0 1 0 -8.2 0zM596.9 183.9a4.1 4.1 0 1 0 8.2 0a4.1 4.1 0 1 0 -8.2 0zM598.1 182.3a4.1 4.1 0 1 0 8.2 0a4.1 4.1 0 1 0 -8.2 0zM599.3 182.5a4.1 4.1 0 1 0 8.2 0a4.1 4.1 0 1 0 -8.2 0zM600.4 182.7a4.1 4.1 0 1 0 8.2 0a4.1 4.1 0 1 0 -8.2 0zM601.6 184.5a4.1 4.1 0 1 0 8.2 0a4.1 4.1 0 1 0 -8.2 0zM602.8 181.5a4.1 4.1 0 1 0 8.2 0a4.1 4.1 0 1 0 -8.2 0zM603.9 183.2a4.1 4.1 0 1 0 8.2 0a4.1 4.1 0 1 0 -8.2 0zM605.1 179.8a4.1 4.1 0 1 0 8.2 0a4.1 4.1 0 1 0 -8.2 0zM606.3 183.4a4.1 4.1 0 1 0 8.2 0a4.1 4.1 0 1 0 -8.2 0zM607.5 181.1a4.1 4.1 0 1 0 8.2 0a4.1 4.1 0 1 0 -8.2 0zM608.6 180.4a4.1 4.1 0 1 0 8.2 0a4.1 4.1 0 1 0 -8.2 0zM609.8 182.3a4.1 4.1 0 1 0 8.2 0a4.1 4.1 0 1 0 -8.2 0zM611.0 176.6a4.1 4.1 0 1 0 8.2 0a4.1 4.1 0 1 0 -8.2 0zM612.1 176.5a4.1 4.1 0 1 0 8.2 0a4.1 4.1 0 1 0 -8.2 0zM613.3 179.4a4.1 4.1 0 1 0 8.2 0a4.1 4.1 0 1 0 -8.2 0zM614.5 176.8a4.1 4.1 0 1 0 8.2 0a4.1 4.1 0 1 0 -8.2 0zM615.6 177.0a4.1 4.1 0 1 0 8.2 0a4.1 4.1 0 1 0 -8.2 0zM616.8 181.6a4.1 4.1 0 1 0 8.2 0a4.1 4.1 0 1 0 -8.2 0zM618.0 176.2a4.1 4.1 0 1 0 8.2 0a4.1 4.1 0 1 0 -8.2 0zM619.2 176.2a4.1 4.1 0 1 0 8.2 0a4.1 4.1 0 1 0 -8.2 0zM620.3 175.4a4.1 4.1 0 1 0 8.2 0a4.1 4.1 0 1 0 -8.2 0zM621.5 176.9a4.1 4.1 0 1 0 8.2 0a4.1 4.1 0 1 0 -8.2 0zM622.7 175.0a4.1 4.1 0 1 0 8.2 0a4.1 4.1 0 1 0 -8.2 0zM623.8 174.3a4.1 4.1 0 1 0 8.2 0a4.1 4.1 0 1 0 -8.2 0zM625.0 171.5a4.1 4.1 0 1 0 8.2 0a4.1 4.1 0 1 0 -8.2 0zM626.2 172.5a4.1 4.1 0 1 0 8.2 0a4.1 4.1 0 1 0 -8.2 0zM627.4 172.6a4.1 4.1 0 1 0 8.2 0a4.1 4.1 0 1 0 -8.2 0zM628.5 169.5a4.1 4.1 0 1 0 8.2 0a4.1 4.1 0 1 0 -8.2 0zM629.7 172.6a4.1 4.1 0 1 0 8.2 0a4.1 4.1 0 1 0 -8.2 0zM630.9 171.9a4.1 4.1 0 1 0 8.2 0a4.1 4.1 0 1 0 -8.2 0zM632.0 174.0a4.1 4.1 0 1 0 8.2 0a4.1 4.1 0 1 0 -8.2 0zM633.2 167.8a4.1 4.1 0 1 0 8.2 0a4.1 4.1 0 1 0 -8.2 0zM634.4 168.5a4.1 4.1 0 1 0 8.2 0a4.1 4.1 0 1 0 -8.2 0zM635.5 168.3a4.1 4.1 0 1 0 8.2 0a4.1 4.1 0 1 0 -8.2 0zM636.7 168.4a4.1 4.1 0 1 0 8.2 0a4.1 4.1 0 1 0 -8.2 0zM637.9 169.2a4.1 4.1 0 1 0 8.2 0a4.1 4.1 0 1 0 -8.2 0zM639.0 168.8a4.1 4.1 0 1 0 8.2 0a4.1 4.1 0 1 0 -8.2 0zM640.2 169.5a4.1 4.1 0 1 0 8.2 0a4.1 4.1 0 1 0 -8.2 0zM641.4 169.4a4.1 4.1 0 1 0 8.2 0a4.1 4.1 0 1 0 -8.2 0zM642.6 168.9a4.1 4.1 0 1 0 8.2 0a4.1 4.1 0 1 0 -8.2 0zM643.7 166.4a4.1 4.1 0 1 0 8.2 0a4.1 4.1 0 1 0 -8.2 0zM644.9 168.1a4.1 4.1 0 1 0 8.2 0a4.1 4.1 0 1 0 -8.2 0zM646.1 169.3a4.1 4.1 0 1 0 8.2 0a4.1 4.1 0 1 0 -8.2 0zM647.2 170.4a4.1 4.1 0 1 0 8.2 0a4.1 4.1 0 1 0 -8.2 0zM648.4 170.7a4.1 4.1 0 1 0 8.2 0a4.1 4.1 0 1 0 -8.2 0zM649.6 167.1a4.1 4.1 0 1 0 8.2 0a4.1 4.1 0 1 0 -8.2 0zM650.8 169.3a4.1 4.1 0 1 0 8.2 0a4.1 4.1 0 1 0 -8.2 0zM651.9 170.4a4.1 4.1 0 1 0 8.2 0a4.1 4.1 0 1 0 -8.2 0zM653.1 171.4a4.1 4.1 0 1 0 8.2 0a4.1 4.1 0 1 0 -8.2 0zM654.3 173.2a4.1 4.1 0 1 0 8.2 0a4.1 4.1 0 1 0 -8.2 0zM655.4 171.8a4.1 4.1 0 1 0 8.2 0a4.1 4.1 0 1 0 -8.2 0zM656.6 170.6a4.1 4.1 0 1 0 8.2 0a4.1 4.1 0 1 0 -8.2 0zM657.8 173.2a4.1 4.1 0 1 0 8.2 0a4.1 4.1 0 1 0 -8.2 0zM658.9 173.4a4.1 4.1 0 1 0 8.2 0a4.1 4.1 0 1 0 -8.2 0zM660.1 173.9a4.1 4.1 0 1 0 8.2 0a4.1 4.1 0 1 0 -8.2 0zM661.3 173.8a4.1 4.1 0 1 0 8.2 0a4.1 4.1 0 1 0 -8.2 0zM662.4 177.3a4.1 4.1 0 1 0 8.2 0a4.1 4.1 0 1 0 -8.2 0zM663.6 175.5a4.1 4.1 0 1 0 8.2 0a4.1 4.1 0 1 0 -8.2 0zM664.8 177.0a4.1 4.1 0 1 0 8.2 0a4.1 4.1 0 1 0 -8.2 0zM666.0 174.6a4.1 4.1 0 1 0 8.2 0a4.1 4.1 0 1 0 -8.2 0zM667.1 177.9a4.1 4.1 0 1 0 8.2 0a4.1 4.1 0 1 0 -8.2 0zM668.3 176.1a4.1 4.1 0 1 0 8.2 0a4.1 4.1 0 1 0 -8.2 0zM669.5 175.0a4.1 4.1 0 1 0 8.2 0a4.1 4.1 0 1 0 -8.2 0zM670.6 178.6a4.1 4.1 0 1 0 8.2 0a4.1 4.1 0 1 0 -8.2 0zM671.8 179.6a4.1 4.1 0 1 0 8.2 0a4.1 4.1 0 1 0 -8.2 0zM673.0 178.7a4.1 4.1 0 1 0 8.2 0a4.1 4.1 0 1 0 -8.2 0zM674.1 179.5a4.1 4.1 0 1 0 8.2 0a4.1 4.1 0 1 0 -8.2 0zM675.3 181.7a4.1 4.1 0 1 0 8.2 0a4.1 4.1 0 1 0 -8.2 0zM676.5 179.6a4.1 4.1 0 1 0 8.2 0a4.1 4.1 0 1 0 -8.2 0zM677.7 177.4a4.1 4.1 0 1 0 8.2 0a4.1 4.1 0 1 0 -8.2 0zM678.8 181.7a4.1 4.1 0 1 0 8.2 0a4.1 4.1 0 1 0 -8.2 0zM680.0 182.0a4.1 4.1 0 1 0 8.2 0a4.1 4.1 0 1 0 -8.2 0zM681.2 183.8a4.1 4.1 0 1 0 8.2 0a4.1 4.1 0 1 0 -8.2 0zM682.3 181.8a4.1 4.1 0 1 0 8.2 0a4.1 4.1 0 1 0 -8.2 0zM683.5 184.9a4.1 4.1 0 1 0 8.2 0a4.1 4.1 0 1 0 -8.2 0zM684.7 185.0a4.1 4.1 0 1 0 8.2 0a4.1 4.1 0 1 0 -8.2 0zM685.9 181.2a4.1 4.1 0 1 0 8.2 0a4.1 4.1 0 1 0 -8.2 0zM687.0 185.3a4.1 4.1 0 1 0 8.2 0a4.1 4.1 0 1 0 -8.2 0zM688.2 182.1a4.1 4.1 0 1 0 8.2 0a4.1 4.1 0 1 0 -8.2 0zM689.4 181.7a4.1 4.1 0 1 0 8.2 0a4.1 4.1 0 1 0 -8.2 0zM690.5 184.1a4.1 4.1 0 1 0 8.2 0a4.1 4.1 0 1 0 -8.2 0zM691.7 183.8a4.1 4.1 0 1 0 8.2 0a4.1 4.1 0 1 0 -8.2 0zM692.9 181.7a4.1 4.1 0 1 0 8.2 0a4.1 4.1 0 1 0 -8.2 0zM694.0 185.6a4.1 4.1 0 1 0 8.2 0a4.1 4.1 0 1 0 -8.2 0zM695.2 186.5a4.1 4.1 0 1 0 8.2 0a4.1 4.1 0 1 0 -8.2 0zM696.4 188.0a4.1 4.1 0 1 0 8.2 0a4.1 4.1 0 1 0 -8.2 0zM697.5 185.8a4.1 4.1 0 1 0 8.2 0a4.1 4.1 0 1 0 -8.2 0zM698.7 183.5a4.1 4.1 0 1 0 8.2 0a4.1 4.1 0 1 0 -8.2 0zM699.9 184.5a4.1 4.1 0 1 0 8.2 0a4.1 4.1 0 1 0 -8.2 0zM701.1 188.0a4.1 4.1 0 1 0 8.2 0a4.1 4.1 0 1 0 -8.2 0zM702.2 188.0a4.1 4.1 0 1 0 8.2 0a4.1 4.1 0 1 0 -8.2 0zM703.4 187.5a4.1 4.1 0 1 0 8.2 0a4.1 4.1 0 1 0 -8.2 0zM704.6 186.2a4.1 4.1 0 1 0 8.2 0a4.1 4.1 0 1 0 -8.2 0zM705.7 187.2a4.1 4.1 0 1 0 8.2 0a4.1 4.1 0 1 0 -8.2 0zM706.9 186.6a4.1 4.1 0 1 0 8.2 0a4.1 4.1 0 1 0 -8.2 0zM708.1 186.6a4.1 4.1 0 1 0 8.2 0a4.1 4.1 0 1 0 -8.2 0zM709.2 187.7a4.1 4.1 0 1 0 8.2 0a4.1 4.1 0 1 0 -8.2 0zM710.4 187.3a4.1 4.1 0 1 0 8.2 0a4.1 4.1 0 1 0 -8.2 0zM711.6 187.0a4.1 4.1 0 1 0 8.2 0a4.1 4.1 0 1 0 -8.2 0zM712.8 187.6a4.1 4.1 0 1 0 8.2 0a4.1 4.1 0 1 0 -8.2 0zM713.9 186.6a4.1 4.1 0 1 0 8.2 0a4.1 4.1 0 1 0 -8.2 0zM715.1 184.3a4.1 4.1 0 1 0 8.2 0a4.1 4.1 0 1 0 -8.2 0zM716.3 186.6a4.1 4.1 0 1 0 8.2 0a4.1 4.1 0 1 0 -8.2 0zM717.4 187.6a4.1 4.1 0 1 0 8.2 0a4.1 4.1 0 1 0 -8.2 0zM718.6 190.6a4.1 4.1 0 1 0 8.2 0a4.1 4.1 0 1 0 -8.2 0zM719.8 187.1a4.1 4.1 0 1 0 8.2 0a4.1 4.1 0 1 0 -8.2 0zM720.9 191.2a4.1 4.1 0 1 0 8.2 0a4.1 4.1 0 1 0 -8.2 0zM722.1 190.3a4.1 4.1 0 1 0 8.2 0a4.1 4.1 0 1 0 -8.2 0zM723.3 186.4a4.1 4.1 0 1 0 8.2 0a4.1 4.1 0 1 0 -8.2 0zM724.5 186.7a4.1 4.1 0 1 0 8.2 0a4.1 4.1 0 1 0 -8.2 0zM725.6 188.2a4.1 4.1 0 1 0 8.2 0a4.1 4.1 0 1 0 -8.2 0zM726.8 191.0a4.1 4.1 0 1 0 8.2 0a4.1 4.1 0 1 0 -8.2 0zM728.0 188.7a4.1 4.1 0 1 0 8.2 0a4.1 4.1 0 1 0 -8.2 0zM729.1 189.3a4.1 4.1 0 1 0 8.2 0a4.1 4.1 0 1 0 -8.2 0zM730.3 187.0a4.1 4.1 0 1 0 8.2 0a4.1 4.1 0 1 0 -8.2 0zM731.5 184.2a4.1 4.1 0 1 0 8.2 0a4.1 4.1 0 1 0 -8.2 0zM732.6 187.8a4.1 4.1 0 1 0 8.2 0a4.1 4.1 0 1 0 -8.2 0zM733.8 189.5a4.1 4.1 0 1 0 8.2 0a4.1 4.1 0 1 0 -8.2 0zM735.0 190.2a4.1 4.1 0 1 0 8.2 0a4.1 4.1 0 1 0 -8.2 0zM736.2 188.3a4.1 4.1 0 1 0 8.2 0a4.1 4.1 0 1 0 -8.2 0zM737.3 188.6a4.1 4.1 0 1 0 8.2 0a4.1 4.1 0 1 0 -8.2 0zM738.5 190.3a4.1 4.1 0 1 0 8.2 0a4.1 4.1 0 1 0 -8.2 0zM739.7 188.1a4.1 4.1 0 1 0 8.2 0a4.1 4.1 0 1 0 -8.2 0zM740.8 190.3a4.1 4.1 0 1 0 8.2 0a4.1 4.1 0 1 0 -8.2 0zM742.0 186.4a4.1 4.1 0 1 0 8.2 0a4.1 4.1 0 1 0 -8.2 0zM743.2 186.5a4.1 4.1 0 1 0 8.2 0a4.1 4.1 0 1 0 -8.2 0zM744.4 186.5a4.1 4.1 0 1 0 8.2 0a4.1 4.1 0 1 0 -8.2 0zM745.5 189.2a4.1 4.1 0 1 0 8.2 0a4.1 4.1 0 1 0 -8.2 0zM746.7 187.5a4.1 4.1 0 1 0 8.2 0a4.1 4.1 0 1 0 -8.2 0zM747.9 188.6a4.1 4.1 0 1 0 8.2 0a4.1 4.1 0 1 0 -8.2 0zM749.0 189.1a4.1 4.1 0 1 0 8.2 0a4.1 4.1 0 1 0 -8.2 0zM750.2 189.0a4.1 4.1 0 1 0 8.2 0a4.1 4.1 0 1 0 -8.2 0zM751.4 190.7a4.1 4.1 0 1 0 8.2 0a4.1 4.1 0 1 0 -8.2 0zM752.5 191.0a4.1 4.1 0 1 0 8.2 0a4.1 4.1 0 1 0 -8.2 0zM753.7 187.1a4.1 4.1 0 1 0 8.2 0a4.1 4.1 0 1 0 -8.2 0zM754.9 188.8a4.1 4.1 0 1 0 8.2 0a4.1 4.1 0 1 0 -8.2 0zM756.0 188.1a4.1 4.1 0 1 0 8.2 0a4.1 4.1 0 1 0 -8.2 0zM757.2 186.8a4.1 4.1 0 1 0 8.2 0a4.1 4.1 0 1 0 -8.2 0zM758.4 191.5a4.1 4.1 0 1 0 8.2 0a4.1 4.1 0 1 0 -8.2 0zM759.6 189.9a4.1 4.1 0 1 0 8.2 0a4.1 4.1 0 1 0 -8.2 0zM760.7 188.3a4.1 4.1 0 1 0 8.2 0a4.1 4.1 0 1 0 -8.2 0zM761.9 187.9a4.1 4.1 0 1 0 8.2 0a4.1 4.1 0 1 0 -8.2 0z" fill="none" stroke="#ff2222" stroke-width="1.05" stroke-opacity="0.7"/><rect x="532" y="6.7" width="234" height="187.3" fill="none" stroke="#4d4d4d" stroke-width="1.55"/><path d="M532 190.5h4M766 190.5h-4M532 161.8h3M766 161.8h-3M532 133.0h4M766 133.0h-4M532 104.2h3M766 104.2h-3M532 75.5h4M766 75.5h-4M532 46.8h3M766 46.8h-3M532 18.0h4M766 18.0h-4M532.0 194v-4M532.0 6.7v4M561.2 194v-3M561.2 6.7v3M590.5 194v-4M590.5 6.7v4M619.8 194v-3M619.8 6.7v3M649.0 194v-4M649.0 6.7v4M678.2 194v-3M678.2 6.7v3M707.5 194v-4M707.5 6.7v4M736.8 194v-3M736.8 6.7v3M766.0 194v-4M766.0 6.7v4" stroke="#4a4a4a" stroke-width="1.2"/><text transform="translate(527.4,196.1) scale(1.0,1)" text-anchor="end" class="tl">0</text><text transform="translate(527.4,138.6) scale(1.0,1)" text-anchor="end" class="tl">50</text><text transform="translate(527.4,81.1) scale(1.0,1)" text-anchor="end" class="tl">100</text><text transform="translate(527.4,23.6) scale(1.0,1)" text-anchor="end" class="tl">150</text><text transform="translate(531.7,212.2) scale(1.0,1)" text-anchor="middle" class="tl">700</text><text transform="translate(590.2,212.2) scale(1.0,1)" text-anchor="middle" class="tl">750</text><text transform="translate(648.7,212.2) scale(1.0,1)" text-anchor="middle" class="tl">800</text><text transform="translate(707.2,212.2) scale(1.0,1)" text-anchor="middle" class="tl">850</text><text transform="translate(765.7,212.2) scale(1.0,1)" text-anchor="middle" class="tl">900</text><text x="0" y="0" transform="translate(648.5,226.9) scale(1.02,1)" text-anchor="middle" class="al">Wavelength (nm)</text><text x="0" y="0" transform="translate(493.7,99.8) rotate(-90) scale(1.04,1)" text-anchor="middle" class="al">CL intensity (counts)</text><text transform="translate(542.30,33.50) scale(1.0300,1)" class="tt" font-size="23.60">Control</text><rect x="638.6" y="14.4" width="6.8" height="6.8" fill="none" stroke="#ffc21f" stroke-width="1.1" stroke-opacity="0.55"/><circle cx="642.2" cy="35.1" r="3.8" fill="none" stroke="#ff2222" stroke-width="1.1" stroke-opacity="0.6"/><text transform="translate(662.00,22.30) scale(1.0000,1)" class="lg" font-size="14.20">Grain boundary</text><text transform="translate(662.00,40.10) scale(1.0000,1)" class="lg" font-size="14.20">Grain interior</text><path clip-path="url(#c1)" d="M826.8 182.9h6.4v6.4h-6.4zM828.0 179.3h6.4v6.4h-6.4zM829.1 181.3h6.4v6.4h-6.4zM830.3 184.8h6.4v6.4h-6.4zM831.5 183.9h6.4v6.4h-6.4zM832.6 179.5h6.4v6.4h-6.4zM833.8 180.2h6.4v6.4h-6.4zM835.0 186.1h6.4v6.4h-6.4zM836.1 177.8h6.4v6.4h-6.4zM837.3 179.5h6.4v6.4h-6.4zM838.4 177.5h6.4v6.4h-6.4zM839.6 181.8h6.4v6.4h-6.4zM840.8 181.4h6.4v6.4h-6.4zM841.9 183.4h6.4v6.4h-6.4zM843.1 174.0h6.4v6.4h-6.4zM844.3 180.7h6.4v6.4h-6.4zM845.4 176.1h6.4v6.4h-6.4zM846.6 181.6h6.4v6.4h-6.4zM847.8 179.4h6.4v6.4h-6.4zM848.9 183.9h6.4v6.4h-6.4zM850.1 180.5h6.4v6.4h-6.4zM851.3 176.8h6.4v6.4h-6.4zM852.4 182.3h6.4v6.4h-6.4zM853.6 176.2h6.4v6.4h-6.4zM854.8 177.9h6.4v6.4h-6.4zM855.9 181.2h6.4v6.4h-6.4zM857.1 179.6h6.4v6.4h-6.4zM858.3 179.3h6.4v6.4h-6.4zM859.4 178.0h6.4v6.4h-6.4zM860.6 179.0h6.4v6.4h-6.4zM861.8 179.5h6.4v6.4h-6.4zM862.9 177.9h6.4v6.4h-6.4zM864.1 179.4h6.4v6.4h-6.4zM865.2 179.8h6.4v6.4h-6.4zM866.4 176.3h6.4v6.4h-6.4zM867.6 173.6h6.4v6.4h-6.4zM868.7 179.3h6.4v6.4h-6.4zM869.9 175.1h6.4v6.4h-6.4zM871.1 176.3h6.4v6.4h-6.4zM872.2 176.7h6.4v6.4h-6.4zM873.4 171.6h6.4v6.4h-6.4zM874.6 174.5h6.4v6.4h-6.4zM875.7 168.9h6.4v6.4h-6.4zM876.9 174.1h6.4v6.4h-6.4zM878.1 170.5h6.4v6.4h-6.4zM879.2 171.3h6.4v6.4h-6.4zM880.4 171.9h6.4v6.4h-6.4zM881.6 167.7h6.4v6.4h-6.4zM882.7 168.7h6.4v6.4h-6.4zM883.9 165.8h6.4v6.4h-6.4zM885.0 166.4h6.4v6.4h-6.4zM886.2 167.9h6.4v6.4h-6.4zM887.4 164.2h6.4v6.4h-6.4zM888.5 162.5h6.4v6.4h-6.4zM889.7 158.8h6.4v6.4h-6.4zM890.9 161.9h6.4v6.4h-6.4zM892.0 158.1h6.4v6.4h-6.4zM893.2 160.5h6.4v6.4h-6.4zM894.4 152.5h6.4v6.4h-6.4zM895.5 154.8h6.4v6.4h-6.4zM896.7 154.4h6.4v6.4h-6.4zM897.9 147.5h6.4v6.4h-6.4zM899.0 141.9h6.4v6.4h-6.4zM900.2 145.8h6.4v6.4h-6.4zM901.4 141.7h6.4v6.4h-6.4zM902.5 137.6h6.4v6.4h-6.4zM903.7 135.2h6.4v6.4h-6.4zM904.9 127.8h6.4v6.4h-6.4zM906.0 127.1h6.4v6.4h-6.4zM907.2 122.9h6.4v6.4h-6.4zM908.3 115.4h6.4v6.4h-6.4zM909.5 114.4h6.4v6.4h-6.4zM910.7 106.8h6.4v6.4h-6.4zM911.8 105.6h6.4v6.4h-6.4zM913.0 101.3h6.4v6.4h-6.4zM914.2 97.8h6.4v6.4h-6.4zM915.3 83.2h6.4v6.4h-6.4zM916.5 83.3h6.4v6.4h-6.4zM917.7 76.5h6.4v6.4h-6.4zM918.8 71.6h6.4v6.4h-6.4zM920.0 65.6h6.4v6.4h-6.4zM921.2 60.3h6.4v6.4h-6.4zM922.3 50.1h6.4v6.4h-6.4zM923.5 52.1h6.4v6.4h-6.4zM924.7 48.1h6.4v6.4h-6.4zM925.8 41.6h6.4v6.4h-6.4zM927.0 37.6h6.4v6.4h-6.4zM928.2 27.8h6.4v6.4h-6.4zM929.3 23.6h6.4v6.4h-6.4zM930.5 24.4h6.4v6.4h-6.4zM931.6 22.4h6.4v6.4h-6.4zM932.8 17.2h6.4v6.4h-6.4zM934.0 10.9h6.4v6.4h-6.4zM935.1 20.3h6.4v6.4h-6.4zM936.3 11.3h6.4v6.4h-6.4zM937.5 15.6h6.4v6.4h-6.4zM938.6 11.1h6.4v6.4h-6.4zM939.8 18.0h6.4v6.4h-6.4zM941.0 18.2h6.4v6.4h-6.4zM942.1 24.2h6.4v6.4h-6.4zM943.3 26.2h6.4v6.4h-6.4zM944.5 24.1h6.4v6.4h-6.4zM945.6 29.9h6.4v6.4h-6.4zM946.8 37.6h6.4v6.4h-6.4zM948.0 43.8h6.4v6.4h-6.4zM949.1 51.6h6.4v6.4h-6.4zM950.3 53.2h6.4v6.4h-6.4zM951.5 57.7h6.4v6.4h-6.4zM952.6 63.4h6.4v6.4h-6.4zM953.8 69.0h6.4v6.4h-6.4zM954.9 77.2h6.4v6.4h-6.4zM956.1 80.0h6.4v6.4h-6.4zM957.3 85.3h6.4v6.4h-6.4zM958.4 87.3h6.4v6.4h-6.4zM959.6 91.0h6.4v6.4h-6.4zM960.8 101.0h6.4v6.4h-6.4zM961.9 107.5h6.4v6.4h-6.4zM963.1 110.4h6.4v6.4h-6.4zM964.3 116.2h6.4v6.4h-6.4zM965.4 120.8h6.4v6.4h-6.4zM966.6 123.2h6.4v6.4h-6.4zM967.8 129.6h6.4v6.4h-6.4zM968.9 129.1h6.4v6.4h-6.4zM970.1 134.4h6.4v6.4h-6.4zM971.3 136.7h6.4v6.4h-6.4zM972.4 140.9h6.4v6.4h-6.4zM973.6 145.2h6.4v6.4h-6.4zM974.8 148.5h6.4v6.4h-6.4zM975.9 149.2h6.4v6.4h-6.4zM977.1 152.3h6.4v6.4h-6.4zM978.2 152.6h6.4v6.4h-6.4zM979.4 155.2h6.4v6.4h-6.4zM980.6 160.5h6.4v6.4h-6.4zM981.7 158.7h6.4v6.4h-6.4zM982.9 163.8h6.4v6.4h-6.4zM984.1 163.5h6.4v6.4h-6.4zM985.2 164.1h6.4v6.4h-6.4zM986.4 169.8h6.4v6.4h-6.4zM987.6 165.5h6.4v6.4h-6.4zM988.7 166.5h6.4v6.4h-6.4zM989.9 168.2h6.4v6.4h-6.4zM991.1 169.8h6.4v6.4h-6.4zM992.2 170.5h6.4v6.4h-6.4zM993.4 172.8h6.4v6.4h-6.4zM994.6 171.8h6.4v6.4h-6.4zM995.7 173.2h6.4v6.4h-6.4zM996.9 172.2h6.4v6.4h-6.4zM998.1 176.0h6.4v6.4h-6.4zM999.2 172.9h6.4v6.4h-6.4zM1000.4 173.6h6.4v6.4h-6.4zM1001.5 174.8h6.4v6.4h-6.4zM1002.7 176.0h6.4v6.4h-6.4zM1003.9 173.9h6.4v6.4h-6.4zM1005.0 179.9h6.4v6.4h-6.4zM1006.2 174.8h6.4v6.4h-6.4zM1007.4 175.7h6.4v6.4h-6.4zM1008.5 175.9h6.4v6.4h-6.4zM1009.7 176.0h6.4v6.4h-6.4zM1010.9 178.9h6.4v6.4h-6.4zM1012.0 178.2h6.4v6.4h-6.4zM1013.2 176.1h6.4v6.4h-6.4zM1014.4 176.9h6.4v6.4h-6.4zM1015.5 177.7h6.4v6.4h-6.4zM1016.7 182.3h6.4v6.4h-6.4zM1017.9 177.3h6.4v6.4h-6.4zM1019.0 175.9h6.4v6.4h-6.4zM1020.2 176.5h6.4v6.4h-6.4zM1021.4 178.6h6.4v6.4h-6.4zM1022.5 183.4h6.4v6.4h-6.4zM1023.7 177.2h6.4v6.4h-6.4zM1024.8 180.1h6.4v6.4h-6.4zM1026.0 186.3h6.4v6.4h-6.4zM1027.2 179.1h6.4v6.4h-6.4zM1028.3 184.0h6.4v6.4h-6.4zM1029.5 183.6h6.4v6.4h-6.4zM1030.7 182.1h6.4v6.4h-6.4zM1031.8 177.4h6.4v6.4h-6.4zM1033.0 181.7h6.4v6.4h-6.4zM1034.2 180.2h6.4v6.4h-6.4zM1035.3 176.6h6.4v6.4h-6.4zM1036.5 177.1h6.4v6.4h-6.4zM1037.7 181.5h6.4v6.4h-6.4zM1038.8 181.9h6.4v6.4h-6.4zM1040.0 184.6h6.4v6.4h-6.4zM1041.2 183.3h6.4v6.4h-6.4zM1042.3 180.6h6.4v6.4h-6.4zM1043.5 180.7h6.4v6.4h-6.4zM1044.7 181.6h6.4v6.4h-6.4zM1045.8 179.4h6.4v6.4h-6.4zM1047.0 184.0h6.4v6.4h-6.4zM1048.1 182.2h6.4v6.4h-6.4zM1049.3 180.3h6.4v6.4h-6.4zM1050.5 180.8h6.4v6.4h-6.4zM1051.6 179.6h6.4v6.4h-6.4zM1052.8 181.4h6.4v6.4h-6.4zM1054.0 183.3h6.4v6.4h-6.4zM1055.1 181.6h6.4v6.4h-6.4zM1056.3 185.2h6.4v6.4h-6.4zM1057.5 186.8h6.4v6.4h-6.4zM1058.6 181.3h6.4v6.4h-6.4zM1059.8 183.0h6.4v6.4h-6.4z" fill="none" stroke="#ffc21f" stroke-width="1.05" stroke-opacity="0.55"/><path clip-path="url(#c1)" d="M825.9 185.5a4.1 4.1 0 1 0 8.2 0a4.1 4.1 0 1 0 -8.2 0zM827.1 189.0a4.1 4.1 0 1 0 8.2 0a4.1 4.1 0 1 0 -8.2 0zM828.2 186.7a4.1 4.1 0 1 0 8.2 0a4.1 4.1 0 1 0 -8.2 0zM829.4 187.1a4.1 4.1 0 1 0 8.2 0a4.1 4.1 0 1 0 -8.2 0zM830.6 187.5a4.1 4.1 0 1 0 8.2 0a4.1 4.1 0 1 0 -8.2 0zM831.7 189.9a4.1 4.1 0 1 0 8.2 0a4.1 4.1 0 1 0 -8.2 0zM832.9 186.5a4.1 4.1 0 1 0 8.2 0a4.1 4.1 0 1 0 -8.2 0zM834.1 184.4a4.1 4.1 0 1 0 8.2 0a4.1 4.1 0 1 0 -8.2 0zM835.2 185.3a4.1 4.1 0 1 0 8.2 0a4.1 4.1 0 1 0 -8.2 0zM836.4 186.9a4.1 4.1 0 1 0 8.2 0a4.1 4.1 0 1 0 -8.2 0zM837.5 185.9a4.1 4.1 0 1 0 8.2 0a4.1 4.1 0 1 0 -8.2 0zM838.7 184.6a4.1 4.1 0 1 0 8.2 0a4.1 4.1 0 1 0 -8.2 0zM839.9 190.6a4.1 4.1 0 1 0 8.2 0a4.1 4.1 0 1 0 -8.2 0zM841.0 186.0a4.1 4.1 0 1 0 8.2 0a4.1 4.1 0 1 0 -8.2 0zM842.2 184.9a4.1 4.1 0 1 0 8.2 0a4.1 4.1 0 1 0 -8.2 0zM843.4 184.6a4.1 4.1 0 1 0 8.2 0a4.1 4.1 0 1 0 -8.2 0zM844.5 182.8a4.1 4.1 0 1 0 8.2 0a4.1 4.1 0 1 0 -8.2 0zM845.7 183.7a4.1 4.1 0 1 0 8.2 0a4.1 4.1 0 1 0 -8.2 0zM846.9 185.1a4.1 4.1 0 1 0 8.2 0a4.1 4.1 0 1 0 -8.2 0zM848.0 185.1a4.1 4.1 0 1 0 8.2 0a4.1 4.1 0 1 0 -8.2 0zM849.2 184.3a4.1 4.1 0 1 0 8.2 0a4.1 4.1 0 1 0 -8.2 0zM850.4 186.5a4.1 4.1 0 1 0 8.2 0a4.1 4.1 0 1 0 -8.2 0zM851.5 185.6a4.1 4.1 0 1 0 8.2 0a4.1 4.1 0 1 0 -8.2 0zM852.7 183.9a4.1 4.1 0 1 0 8.2 0a4.1 4.1 0 1 0 -8.2 0zM853.9 182.1a4.1 4.1 0 1 0 8.2 0a4.1 4.1 0 1 0 -8.2 0zM855.0 185.7a4.1 4.1 0 1 0 8.2 0a4.1 4.1 0 1 0 -8.2 0zM856.2 185.4a4.1 4.1 0 1 0 8.2 0a4.1 4.1 0 1 0 -8.2 0zM857.4 185.0a4.1 4.1 0 1 0 8.2 0a4.1 4.1 0 1 0 -8.2 0zM858.5 182.9a4.1 4.1 0 1 0 8.2 0a4.1 4.1 0 1 0 -8.2 0zM859.7 185.3a4.1 4.1 0 1 0 8.2 0a4.1 4.1 0 1 0 -8.2 0zM860.9 182.6a4.1 4.1 0 1 0 8.2 0a4.1 4.1 0 1 0 -8.2 0zM862.0 186.8a4.1 4.1 0 1 0 8.2 0a4.1 4.1 0 1 0 -8.2 0zM863.2 185.3a4.1 4.1 0 1 0 8.2 0a4.1 4.1 0 1 0 -8.2 0zM864.3 185.3a4.1 4.1 0 1 0 8.2 0a4.1 4.1 0 1 0 -8.2 0zM865.5 183.5a4.1 4.1 0 1 0 8.2 0a4.1 4.1 0 1 0 -8.2 0zM866.7 183.0a4.1 4.1 0 1 0 8.2 0a4.1 4.1 0 1 0 -8.2 0zM867.8 187.3a4.1 4.1 0 1 0 8.2 0a4.1 4.1 0 1 0 -8.2 0zM869.0 186.2a4.1 4.1 0 1 0 8.2 0a4.1 4.1 0 1 0 -8.2 0zM870.2 183.9a4.1 4.1 0 1 0 8.2 0a4.1 4.1 0 1 0 -8.2 0zM871.3 185.5a4.1 4.1 0 1 0 8.2 0a4.1 4.1 0 1 0 -8.2 0zM872.5 186.9a4.1 4.1 0 1 0 8.2 0a4.1 4.1 0 1 0 -8.2 0zM873.7 182.4a4.1 4.1 0 1 0 8.2 0a4.1 4.1 0 1 0 -8.2 0zM874.8 183.2a4.1 4.1 0 1 0 8.2 0a4.1 4.1 0 1 0 -8.2 0zM876.0 183.1a4.1 4.1 0 1 0 8.2 0a4.1 4.1 0 1 0 -8.2 0zM877.2 184.6a4.1 4.1 0 1 0 8.2 0a4.1 4.1 0 1 0 -8.2 0zM878.3 181.8a4.1 4.1 0 1 0 8.2 0a4.1 4.1 0 1 0 -8.2 0zM879.5 183.8a4.1 4.1 0 1 0 8.2 0a4.1 4.1 0 1 0 -8.2 0zM880.7 181.3a4.1 4.1 0 1 0 8.2 0a4.1 4.1 0 1 0 -8.2 0zM881.8 184.6a4.1 4.1 0 1 0 8.2 0a4.1 4.1 0 1 0 -8.2 0zM883.0 184.3a4.1 4.1 0 1 0 8.2 0a4.1 4.1 0 1 0 -8.2 0zM884.1 182.2a4.1 4.1 0 1 0 8.2 0a4.1 4.1 0 1 0 -8.2 0zM885.3 183.6a4.1 4.1 0 1 0 8.2 0a4.1 4.1 0 1 0 -8.2 0zM886.5 180.9a4.1 4.1 0 1 0 8.2 0a4.1 4.1 0 1 0 -8.2 0zM887.6 181.4a4.1 4.1 0 1 0 8.2 0a4.1 4.1 0 1 0 -8.2 0zM888.8 183.1a4.1 4.1 0 1 0 8.2 0a4.1 4.1 0 1 0 -8.2 0zM890.0 181.1a4.1 4.1 0 1 0 8.2 0a4.1 4.1 0 1 0 -8.2 0zM891.1 181.5a4.1 4.1 0 1 0 8.2 0a4.1 4.1 0 1 0 -8.2 0zM892.3 178.9a4.1 4.1 0 1 0 8.2 0a4.1 4.1 0 1 0 -8.2 0zM893.5 181.2a4.1 4.1 0 1 0 8.2 0a4.1 4.1 0 1 0 -8.2 0zM894.6 180.5a4.1 4.1 0 1 0 8.2 0a4.1 4.1 0 1 0 -8.2 0zM895.8 177.3a4.1 4.1 0 1 0 8.2 0a4.1 4.1 0 1 0 -8.2 0zM897.0 175.1a4.1 4.1 0 1 0 8.2 0a4.1 4.1 0 1 0 -8.2 0zM898.1 175.0a4.1 4.1 0 1 0 8.2 0a4.1 4.1 0 1 0 -8.2 0zM899.3 177.9a4.1 4.1 0 1 0 8.2 0a4.1 4.1 0 1 0 -8.2 0zM900.5 177.1a4.1 4.1 0 1 0 8.2 0a4.1 4.1 0 1 0 -8.2 0zM901.6 174.3a4.1 4.1 0 1 0 8.2 0a4.1 4.1 0 1 0 -8.2 0zM902.8 176.6a4.1 4.1 0 1 0 8.2 0a4.1 4.1 0 1 0 -8.2 0zM904.0 177.5a4.1 4.1 0 1 0 8.2 0a4.1 4.1 0 1 0 -8.2 0zM905.1 175.1a4.1 4.1 0 1 0 8.2 0a4.1 4.1 0 1 0 -8.2 0zM906.3 173.9a4.1 4.1 0 1 0 8.2 0a4.1 4.1 0 1 0 -8.2 0zM907.4 175.4a4.1 4.1 0 1 0 8.2 0a4.1 4.1 0 1 0 -8.2 0zM908.6 176.2a4.1 4.1 0 1 0 8.2 0a4.1 4.1 0 1 0 -8.2 0zM909.8 175.2a4.1 4.1 0 1 0 8.2 0a4.1 4.1 0 1 0 -8.2 0zM910.9 170.9a4.1 4.1 0 1 0 8.2 0a4.1 4.1 0 1 0 -8.2 0zM912.1 172.6a4.1 4.1 0 1 0 8.2 0a4.1 4.1 0 1 0 -8.2 0zM913.3 170.8a4.1 4.1 0 1 0 8.2 0a4.1 4.1 0 1 0 -8.2 0zM914.4 169.5a4.1 4.1 0 1 0 8.2 0a4.1 4.1 0 1 0 -8.2 0zM915.6 168.0a4.1 4.1 0 1 0 8.2 0a4.1 4.1 0 1 0 -8.2 0zM916.8 168.9a4.1 4.1 0 1 0 8.2 0a4.1 4.1 0 1 0 -8.2 0zM917.9 166.7a4.1 4.1 0 1 0 8.2 0a4.1 4.1 0 1 0 -8.2 0zM919.1 168.4a4.1 4.1 0 1 0 8.2 0a4.1 4.1 0 1 0 -8.2 0zM920.3 166.7a4.1 4.1 0 1 0 8.2 0a4.1 4.1 0 1 0 -8.2 0zM921.4 167.1a4.1 4.1 0 1 0 8.2 0a4.1 4.1 0 1 0 -8.2 0zM922.6 162.6a4.1 4.1 0 1 0 8.2 0a4.1 4.1 0 1 0 -8.2 0zM923.8 163.8a4.1 4.1 0 1 0 8.2 0a4.1 4.1 0 1 0 -8.2 0zM924.9 164.3a4.1 4.1 0 1 0 8.2 0a4.1 4.1 0 1 0 -8.2 0zM926.1 163.0a4.1 4.1 0 1 0 8.2 0a4.1 4.1 0 1 0 -8.2 0zM927.3 162.1a4.1 4.1 0 1 0 8.2 0a4.1 4.1 0 1 0 -8.2 0zM928.4 159.8a4.1 4.1 0 1 0 8.2 0a4.1 4.1 0 1 0 -8.2 0zM929.6 163.1a4.1 4.1 0 1 0 8.2 0a4.1 4.1 0 1 0 -8.2 0zM930.8 161.6a4.1 4.1 0 1 0 8.2 0a4.1 4.1 0 1 0 -8.2 0zM931.9 159.9a4.1 4.1 0 1 0 8.2 0a4.1 4.1 0 1 0 -8.2 0zM933.1 154.4a4.1 4.1 0 1 0 8.2 0a4.1 4.1 0 1 0 -8.2 0zM934.2 156.7a4.1 4.1 0 1 0 8.2 0a4.1 4.1 0 1 0 -8.2 0zM935.4 158.1a4.1 4.1 0 1 0 8.2 0a4.1 4.1 0 1 0 -8.2 0zM936.6 156.4a4.1 4.1 0 1 0 8.2 0a4.1 4.1 0 1 0 -8.2 0zM937.7 153.8a4.1 4.1 0 1 0 8.2 0a4.1 4.1 0 1 0 -8.2 0zM938.9 157.6a4.1 4.1 0 1 0 8.2 0a4.1 4.1 0 1 0 -8.2 0zM940.1 157.7a4.1 4.1 0 1 0 8.2 0a4.1 4.1 0 1 0 -8.2 0zM941.2 155.0a4.1 4.1 0 1 0 8.2 0a4.1 4.1 0 1 0 -8.2 0zM942.4 156.2a4.1 4.1 0 1 0 8.2 0a4.1 4.1 0 1 0 -8.2 0zM943.6 156.0a4.1 4.1 0 1 0 8.2 0a4.1 4.1 0 1 0 -8.2 0zM944.7 158.3a4.1 4.1 0 1 0 8.2 0a4.1 4.1 0 1 0 -8.2 0zM945.9 154.3a4.1 4.1 0 1 0 8.2 0a4.1 4.1 0 1 0 -8.2 0zM947.1 155.0a4.1 4.1 0 1 0 8.2 0a4.1 4.1 0 1 0 -8.2 0zM948.2 157.4a4.1 4.1 0 1 0 8.2 0a4.1 4.1 0 1 0 -8.2 0zM949.4 157.6a4.1 4.1 0 1 0 8.2 0a4.1 4.1 0 1 0 -8.2 0zM950.6 162.8a4.1 4.1 0 1 0 8.2 0a4.1 4.1 0 1 0 -8.2 0zM951.7 158.7a4.1 4.1 0 1 0 8.2 0a4.1 4.1 0 1 0 -8.2 0zM952.9 160.7a4.1 4.1 0 1 0 8.2 0a4.1 4.1 0 1 0 -8.2 0zM954.0 160.3a4.1 4.1 0 1 0 8.2 0a4.1 4.1 0 1 0 -8.2 0zM955.2 160.5a4.1 4.1 0 1 0 8.2 0a4.1 4.1 0 1 0 -8.2 0zM956.4 162.9a4.1 4.1 0 1 0 8.2 0a4.1 4.1 0 1 0 -8.2 0zM957.5 166.0a4.1 4.1 0 1 0 8.2 0a4.1 4.1 0 1 0 -8.2 0zM958.7 163.2a4.1 4.1 0 1 0 8.2 0a4.1 4.1 0 1 0 -8.2 0zM959.9 165.8a4.1 4.1 0 1 0 8.2 0a4.1 4.1 0 1 0 -8.2 0zM961.0 165.9a4.1 4.1 0 1 0 8.2 0a4.1 4.1 0 1 0 -8.2 0zM962.2 167.1a4.1 4.1 0 1 0 8.2 0a4.1 4.1 0 1 0 -8.2 0zM963.4 167.4a4.1 4.1 0 1 0 8.2 0a4.1 4.1 0 1 0 -8.2 0zM964.5 171.6a4.1 4.1 0 1 0 8.2 0a4.1 4.1 0 1 0 -8.2 0zM965.7 166.2a4.1 4.1 0 1 0 8.2 0a4.1 4.1 0 1 0 -8.2 0zM966.9 168.7a4.1 4.1 0 1 0 8.2 0a4.1 4.1 0 1 0 -8.2 0zM968.0 167.9a4.1 4.1 0 1 0 8.2 0a4.1 4.1 0 1 0 -8.2 0zM969.2 167.2a4.1 4.1 0 1 0 8.2 0a4.1 4.1 0 1 0 -8.2 0zM970.4 171.3a4.1 4.1 0 1 0 8.2 0a4.1 4.1 0 1 0 -8.2 0zM971.5 175.1a4.1 4.1 0 1 0 8.2 0a4.1 4.1 0 1 0 -8.2 0zM972.7 174.2a4.1 4.1 0 1 0 8.2 0a4.1 4.1 0 1 0 -8.2 0zM973.9 175.4a4.1 4.1 0 1 0 8.2 0a4.1 4.1 0 1 0 -8.2 0zM975.0 174.9a4.1 4.1 0 1 0 8.2 0a4.1 4.1 0 1 0 -8.2 0zM976.2 174.5a4.1 4.1 0 1 0 8.2 0a4.1 4.1 0 1 0 -8.2 0zM977.4 178.7a4.1 4.1 0 1 0 8.2 0a4.1 4.1 0 1 0 -8.2 0zM978.5 175.3a4.1 4.1 0 1 0 8.2 0a4.1 4.1 0 1 0 -8.2 0zM979.7 179.0a4.1 4.1 0 1 0 8.2 0a4.1 4.1 0 1 0 -8.2 0zM980.8 176.4a4.1 4.1 0 1 0 8.2 0a4.1 4.1 0 1 0 -8.2 0zM982.0 177.7a4.1 4.1 0 1 0 8.2 0a4.1 4.1 0 1 0 -8.2 0zM983.2 178.5a4.1 4.1 0 1 0 8.2 0a4.1 4.1 0 1 0 -8.2 0zM984.3 178.6a4.1 4.1 0 1 0 8.2 0a4.1 4.1 0 1 0 -8.2 0zM985.5 179.8a4.1 4.1 0 1 0 8.2 0a4.1 4.1 0 1 0 -8.2 0zM986.7 180.4a4.1 4.1 0 1 0 8.2 0a4.1 4.1 0 1 0 -8.2 0zM987.8 182.7a4.1 4.1 0 1 0 8.2 0a4.1 4.1 0 1 0 -8.2 0zM989.0 180.2a4.1 4.1 0 1 0 8.2 0a4.1 4.1 0 1 0 -8.2 0zM990.2 177.3a4.1 4.1 0 1 0 8.2 0a4.1 4.1 0 1 0 -8.2 0zM991.3 177.5a4.1 4.1 0 1 0 8.2 0a4.1 4.1 0 1 0 -8.2 0zM992.5 178.9a4.1 4.1 0 1 0 8.2 0a4.1 4.1 0 1 0 -8.2 0zM993.7 180.3a4.1 4.1 0 1 0 8.2 0a4.1 4.1 0 1 0 -8.2 0zM994.8 183.0a4.1 4.1 0 1 0 8.2 0a4.1 4.1 0 1 0 -8.2 0zM996.0 179.6a4.1 4.1 0 1 0 8.2 0a4.1 4.1 0 1 0 -8.2 0zM997.2 182.4a4.1 4.1 0 1 0 8.2 0a4.1 4.1 0 1 0 -8.2 0zM998.3 182.7a4.1 4.1 0 1 0 8.2 0a4.1 4.1 0 1 0 -8.2 0zM999.5 183.3a4.1 4.1 0 1 0 8.2 0a4.1 4.1 0 1 0 -8.2 0zM1000.6 182.9a4.1 4.1 0 1 0 8.2 0a4.1 4.1 0 1 0 -8.2 0zM1001.8 184.0a4.1 4.1 0 1 0 8.2 0a4.1 4.1 0 1 0 -8.2 0zM1003.0 183.6a4.1 4.1 0 1 0 8.2 0a4.1 4.1 0 1 0 -8.2 0zM1004.1 185.5a4.1 4.1 0 1 0 8.2 0a4.1 4.1 0 1 0 -8.2 0zM1005.3 184.4a4.1 4.1 0 1 0 8.2 0a4.1 4.1 0 1 0 -8.2 0zM1006.5 180.0a4.1 4.1 0 1 0 8.2 0a4.1 4.1 0 1 0 -8.2 0zM1007.6 184.2a4.1 4.1 0 1 0 8.2 0a4.1 4.1 0 1 0 -8.2 0zM1008.8 184.6a4.1 4.1 0 1 0 8.2 0a4.1 4.1 0 1 0 -8.2 0zM1010.0 183.4a4.1 4.1 0 1 0 8.2 0a4.1 4.1 0 1 0 -8.2 0zM1011.1 183.2a4.1 4.1 0 1 0 8.2 0a4.1 4.1 0 1 0 -8.2 0zM1012.3 186.4a4.1 4.1 0 1 0 8.2 0a4.1 4.1 0 1 0 -8.2 0zM1013.5 185.0a4.1 4.1 0 1 0 8.2 0a4.1 4.1 0 1 0 -8.2 0zM1014.6 183.1a4.1 4.1 0 1 0 8.2 0a4.1 4.1 0 1 0 -8.2 0zM1015.8 184.3a4.1 4.1 0 1 0 8.2 0a4.1 4.1 0 1 0 -8.2 0zM1017.0 184.7a4.1 4.1 0 1 0 8.2 0a4.1 4.1 0 1 0 -8.2 0zM1018.1 182.3a4.1 4.1 0 1 0 8.2 0a4.1 4.1 0 1 0 -8.2 0zM1019.3 186.2a4.1 4.1 0 1 0 8.2 0a4.1 4.1 0 1 0 -8.2 0zM1020.5 184.9a4.1 4.1 0 1 0 8.2 0a4.1 4.1 0 1 0 -8.2 0zM1021.6 186.0a4.1 4.1 0 1 0 8.2 0a4.1 4.1 0 1 0 -8.2 0zM1022.8 182.6a4.1 4.1 0 1 0 8.2 0a4.1 4.1 0 1 0 -8.2 0zM1023.9 188.6a4.1 4.1 0 1 0 8.2 0a4.1 4.1 0 1 0 -8.2 0zM1025.1 186.5a4.1 4.1 0 1 0 8.2 0a4.1 4.1 0 1 0 -8.2 0zM1026.3 186.3a4.1 4.1 0 1 0 8.2 0a4.1 4.1 0 1 0 -8.2 0zM1027.4 184.3a4.1 4.1 0 1 0 8.2 0a4.1 4.1 0 1 0 -8.2 0zM1028.6 184.4a4.1 4.1 0 1 0 8.2 0a4.1 4.1 0 1 0 -8.2 0zM1029.8 183.1a4.1 4.1 0 1 0 8.2 0a4.1 4.1 0 1 0 -8.2 0zM1030.9 188.3a4.1 4.1 0 1 0 8.2 0a4.1 4.1 0 1 0 -8.2 0zM1032.1 184.3a4.1 4.1 0 1 0 8.2 0a4.1 4.1 0 1 0 -8.2 0zM1033.3 186.1a4.1 4.1 0 1 0 8.2 0a4.1 4.1 0 1 0 -8.2 0zM1034.4 186.8a4.1 4.1 0 1 0 8.2 0a4.1 4.1 0 1 0 -8.2 0zM1035.6 184.7a4.1 4.1 0 1 0 8.2 0a4.1 4.1 0 1 0 -8.2 0zM1036.8 187.3a4.1 4.1 0 1 0 8.2 0a4.1 4.1 0 1 0 -8.2 0zM1037.9 189.3a4.1 4.1 0 1 0 8.2 0a4.1 4.1 0 1 0 -8.2 0zM1039.1 186.4a4.1 4.1 0 1 0 8.2 0a4.1 4.1 0 1 0 -8.2 0zM1040.3 188.4a4.1 4.1 0 1 0 8.2 0a4.1 4.1 0 1 0 -8.2 0zM1041.4 186.9a4.1 4.1 0 1 0 8.2 0a4.1 4.1 0 1 0 -8.2 0zM1042.6 185.2a4.1 4.1 0 1 0 8.2 0a4.1 4.1 0 1 0 -8.2 0zM1043.8 185.3a4.1 4.1 0 1 0 8.2 0a4.1 4.1 0 1 0 -8.2 0zM1044.9 183.1a4.1 4.1 0 1 0 8.2 0a4.1 4.1 0 1 0 -8.2 0zM1046.1 186.3a4.1 4.1 0 1 0 8.2 0a4.1 4.1 0 1 0 -8.2 0zM1047.2 188.6a4.1 4.1 0 1 0 8.2 0a4.1 4.1 0 1 0 -8.2 0zM1048.4 187.3a4.1 4.1 0 1 0 8.2 0a4.1 4.1 0 1 0 -8.2 0zM1049.6 187.6a4.1 4.1 0 1 0 8.2 0a4.1 4.1 0 1 0 -8.2 0zM1050.7 188.1a4.1 4.1 0 1 0 8.2 0a4.1 4.1 0 1 0 -8.2 0zM1051.9 185.3a4.1 4.1 0 1 0 8.2 0a4.1 4.1 0 1 0 -8.2 0zM1053.1 187.1a4.1 4.1 0 1 0 8.2 0a4.1 4.1 0 1 0 -8.2 0zM1054.2 189.5a4.1 4.1 0 1 0 8.2 0a4.1 4.1 0 1 0 -8.2 0zM1055.4 184.9a4.1 4.1 0 1 0 8.2 0a4.1 4.1 0 1 0 -8.2 0zM1056.6 186.3a4.1 4.1 0 1 0 8.2 0a4.1 4.1 0 1 0 -8.2 0zM1057.7 185.5a4.1 4.1 0 1 0 8.2 0a4.1 4.1 0 1 0 -8.2 0zM1058.9 185.9a4.1 4.1 0 1 0 8.2 0a4.1 4.1 0 1 0 -8.2 0z" fill="none" stroke="#ff2222" stroke-width="1.05" stroke-opacity="0.7"/><rect x="830" y="4.5" width="233" height="187.1" fill="none" stroke="#4d4d4d" stroke-width="1.55"/><path d="M830 188.1h4M1063 188.1h-4M830 159.3h3M1063 159.3h-3M830 130.6h4M1063 130.6h-4M830 101.8h3M1063 101.8h-3M830 73.1h4M1063 73.1h-4M830 44.3h3M1063 44.3h-3M830 15.6h4M1063 15.6h-4M830.0 191.6v-4M830.0 4.5v4M859.1 191.6v-3M859.1 4.5v3M888.2 191.6v-4M888.2 4.5v4M917.4 191.6v-3M917.4 4.5v3M946.5 191.6v-4M946.5 4.5v4M975.6 191.6v-3M975.6 4.5v3M1004.8 191.6v-4M1004.8 4.5v4M1033.9 191.6v-3M1033.9 4.5v3M1063.0 191.6v-4M1063.0 4.5v4" stroke="#4a4a4a" stroke-width="1.2"/><text transform="translate(825.4,193.7) scale(1.0,1)" text-anchor="end" class="tl">0</text><text transform="translate(825.4,136.2) scale(1.0,1)" text-anchor="end" class="tl">50</text><text transform="translate(825.4,78.7) scale(1.0,1)" text-anchor="end" class="tl">100</text><text transform="translate(825.4,21.2) scale(1.0,1)" text-anchor="end" class="tl">150</text><text transform="translate(829.7,209.8) scale(1.0,1)" text-anchor="middle" class="tl">700</text><text transform="translate(888.0,209.8) scale(1.0,1)" text-anchor="middle" class="tl">750</text><text transform="translate(946.2,209.8) scale(1.0,1)" text-anchor="middle" class="tl">800</text><text transform="translate(1004.5,209.8) scale(1.0,1)" text-anchor="middle" class="tl">850</text><text transform="translate(1062.7,209.8) scale(1.0,1)" text-anchor="middle" class="tl">900</text><text x="0" y="0" transform="translate(946.0,224.5) scale(1.02,1)" text-anchor="middle" class="al">Wavelength (nm)</text><text x="0" y="0" transform="translate(791.7,97.5) rotate(-90) scale(1.04,1)" text-anchor="middle" class="al">CL intensity (counts)</text><text transform="translate(839.20,34.40) scale(1.0300,1)" class="tt" font-size="23.60">MACl</text><path clip-path="url(#c2)" d="M528.8 419.4h6.4v6.4h-6.4zM530.0 420.8h6.4v6.4h-6.4zM531.1 417.8h6.4v6.4h-6.4zM532.3 419.8h6.4v6.4h-6.4zM533.5 419.8h6.4v6.4h-6.4zM534.6 419.7h6.4v6.4h-6.4zM535.8 424.4h6.4v6.4h-6.4zM537.0 421.0h6.4v6.4h-6.4zM538.1 421.2h6.4v6.4h-6.4zM539.3 420.0h6.4v6.4h-6.4zM540.5 423.9h6.4v6.4h-6.4zM541.6 416.2h6.4v6.4h-6.4zM542.8 420.0h6.4v6.4h-6.4zM544.0 423.3h6.4v6.4h-6.4zM545.1 424.5h6.4v6.4h-6.4zM546.3 420.8h6.4v6.4h-6.4zM547.5 420.2h6.4v6.4h-6.4zM548.6 421.7h6.4v6.4h-6.4zM549.8 419.6h6.4v6.4h-6.4zM551.0 421.3h6.4v6.4h-6.4zM552.1 418.2h6.4v6.4h-6.4zM553.3 421.4h6.4v6.4h-6.4zM554.5 419.5h6.4v6.4h-6.4zM555.7 416.8h6.4v6.4h-6.4zM556.8 412.7h6.4v6.4h-6.4zM558.0 421.6h6.4v6.4h-6.4zM559.2 420.1h6.4v6.4h-6.4zM560.3 420.9h6.4v6.4h-6.4zM561.5 416.7h6.4v6.4h-6.4zM562.7 421.4h6.4v6.4h-6.4zM563.8 419.6h6.4v6.4h-6.4zM565.0 418.2h6.4v6.4h-6.4zM566.2 420.5h6.4v6.4h-6.4zM567.3 420.2h6.4v6.4h-6.4zM568.5 418.8h6.4v6.4h-6.4zM569.7 422.7h6.4v6.4h-6.4zM570.8 420.8h6.4v6.4h-6.4zM572.0 417.9h6.4v6.4h-6.4zM573.2 416.2h6.4v6.4h-6.4zM574.3 416.8h6.4v6.4h-6.4zM575.5 420.5h6.4v6.4h-6.4zM576.7 416.9h6.4v6.4h-6.4zM577.8 413.3h6.4v6.4h-6.4zM579.0 413.5h6.4v6.4h-6.4zM580.2 414.7h6.4v6.4h-6.4zM581.3 416.3h6.4v6.4h-6.4zM582.5 412.0h6.4v6.4h-6.4zM583.7 414.6h6.4v6.4h-6.4zM584.8 415.5h6.4v6.4h-6.4zM586.0 414.0h6.4v6.4h-6.4zM587.2 407.7h6.4v6.4h-6.4zM588.3 410.1h6.4v6.4h-6.4zM589.5 407.0h6.4v6.4h-6.4zM590.7 410.4h6.4v6.4h-6.4zM591.8 406.0h6.4v6.4h-6.4zM593.0 409.1h6.4v6.4h-6.4zM594.2 407.0h6.4v6.4h-6.4zM595.3 399.3h6.4v6.4h-6.4zM596.5 402.7h6.4v6.4h-6.4zM597.7 404.8h6.4v6.4h-6.4zM598.8 402.5h6.4v6.4h-6.4zM600.0 400.3h6.4v6.4h-6.4zM601.2 396.8h6.4v6.4h-6.4zM602.4 399.7h6.4v6.4h-6.4zM603.5 401.5h6.4v6.4h-6.4zM604.7 396.3h6.4v6.4h-6.4zM605.9 394.0h6.4v6.4h-6.4zM607.0 392.2h6.4v6.4h-6.4zM608.2 387.5h6.4v6.4h-6.4zM609.4 388.3h6.4v6.4h-6.4zM610.5 385.3h6.4v6.4h-6.4zM611.7 388.3h6.4v6.4h-6.4zM612.9 381.5h6.4v6.4h-6.4zM614.0 376.5h6.4v6.4h-6.4zM615.2 377.9h6.4v6.4h-6.4zM616.4 377.3h6.4v6.4h-6.4zM617.5 375.6h6.4v6.4h-6.4zM618.7 369.5h6.4v6.4h-6.4zM619.9 374.5h6.4v6.4h-6.4zM621.0 370.5h6.4v6.4h-6.4zM622.2 367.2h6.4v6.4h-6.4zM623.4 364.7h6.4v6.4h-6.4zM624.5 366.0h6.4v6.4h-6.4zM625.7 362.6h6.4v6.4h-6.4zM626.9 362.6h6.4v6.4h-6.4zM628.0 360.2h6.4v6.4h-6.4zM629.2 359.7h6.4v6.4h-6.4zM630.4 361.3h6.4v6.4h-6.4zM631.5 357.7h6.4v6.4h-6.4zM632.7 354.8h6.4v6.4h-6.4zM633.9 359.2h6.4v6.4h-6.4zM635.0 357.2h6.4v6.4h-6.4zM636.2 355.0h6.4v6.4h-6.4zM637.4 359.8h6.4v6.4h-6.4zM638.5 357.2h6.4v6.4h-6.4zM639.7 361.1h6.4v6.4h-6.4zM640.9 356.5h6.4v6.4h-6.4zM642.0 354.7h6.4v6.4h-6.4zM643.2 356.7h6.4v6.4h-6.4zM644.4 363.9h6.4v6.4h-6.4zM645.5 363.0h6.4v6.4h-6.4zM646.7 366.3h6.4v6.4h-6.4zM647.9 368.1h6.4v6.4h-6.4zM649.1 366.3h6.4v6.4h-6.4zM650.2 375.5h6.4v6.4h-6.4zM651.4 371.4h6.4v6.4h-6.4zM652.6 376.1h6.4v6.4h-6.4zM653.7 374.4h6.4v6.4h-6.4zM654.9 379.4h6.4v6.4h-6.4zM656.1 383.5h6.4v6.4h-6.4zM657.2 383.0h6.4v6.4h-6.4zM658.4 383.7h6.4v6.4h-6.4zM659.6 387.2h6.4v6.4h-6.4zM660.7 387.9h6.4v6.4h-6.4zM661.9 392.1h6.4v6.4h-6.4zM663.1 397.9h6.4v6.4h-6.4zM664.2 391.8h6.4v6.4h-6.4zM665.4 393.8h6.4v6.4h-6.4zM666.6 396.7h6.4v6.4h-6.4zM667.7 398.3h6.4v6.4h-6.4zM668.9 397.2h6.4v6.4h-6.4zM670.1 402.3h6.4v6.4h-6.4zM671.2 404.1h6.4v6.4h-6.4zM672.4 404.0h6.4v6.4h-6.4zM673.6 401.6h6.4v6.4h-6.4zM674.7 409.1h6.4v6.4h-6.4zM675.9 403.6h6.4v6.4h-6.4zM677.1 409.2h6.4v6.4h-6.4zM678.2 411.2h6.4v6.4h-6.4zM679.4 406.0h6.4v6.4h-6.4zM680.6 410.2h6.4v6.4h-6.4zM681.7 414.0h6.4v6.4h-6.4zM682.9 412.3h6.4v6.4h-6.4zM684.1 409.6h6.4v6.4h-6.4zM685.2 409.6h6.4v6.4h-6.4zM686.4 414.2h6.4v6.4h-6.4zM687.6 412.6h6.4v6.4h-6.4zM688.7 412.3h6.4v6.4h-6.4zM689.9 416.2h6.4v6.4h-6.4zM691.1 414.1h6.4v6.4h-6.4zM692.2 415.4h6.4v6.4h-6.4zM693.4 417.0h6.4v6.4h-6.4zM694.6 417.3h6.4v6.4h-6.4zM695.8 416.2h6.4v6.4h-6.4zM696.9 416.5h6.4v6.4h-6.4zM698.1 418.3h6.4v6.4h-6.4zM699.3 418.2h6.4v6.4h-6.4zM700.4 414.6h6.4v6.4h-6.4zM701.6 417.1h6.4v6.4h-6.4zM702.8 415.6h6.4v6.4h-6.4zM703.9 415.0h6.4v6.4h-6.4zM705.1 416.7h6.4v6.4h-6.4zM706.3 412.6h6.4v6.4h-6.4zM707.4 420.6h6.4v6.4h-6.4zM708.6 416.6h6.4v6.4h-6.4zM709.8 419.6h6.4v6.4h-6.4zM710.9 414.2h6.4v6.4h-6.4zM712.1 414.8h6.4v6.4h-6.4zM713.3 424.1h6.4v6.4h-6.4zM714.4 421.8h6.4v6.4h-6.4zM715.6 417.7h6.4v6.4h-6.4zM716.8 417.5h6.4v6.4h-6.4zM717.9 417.8h6.4v6.4h-6.4zM719.1 419.9h6.4v6.4h-6.4zM720.3 418.7h6.4v6.4h-6.4zM721.4 418.2h6.4v6.4h-6.4zM722.6 420.2h6.4v6.4h-6.4zM723.8 417.5h6.4v6.4h-6.4zM724.9 425.9h6.4v6.4h-6.4zM726.1 418.6h6.4v6.4h-6.4zM727.3 422.9h6.4v6.4h-6.4zM728.4 417.9h6.4v6.4h-6.4zM729.6 421.0h6.4v6.4h-6.4zM730.8 422.7h6.4v6.4h-6.4zM731.9 419.6h6.4v6.4h-6.4zM733.1 422.9h6.4v6.4h-6.4zM734.3 423.0h6.4v6.4h-6.4zM735.4 424.7h6.4v6.4h-6.4zM736.6 420.9h6.4v6.4h-6.4zM737.8 419.6h6.4v6.4h-6.4zM738.9 418.3h6.4v6.4h-6.4zM740.1 421.3h6.4v6.4h-6.4zM741.3 418.3h6.4v6.4h-6.4zM742.5 421.0h6.4v6.4h-6.4zM743.6 421.3h6.4v6.4h-6.4zM744.8 419.7h6.4v6.4h-6.4zM746.0 418.5h6.4v6.4h-6.4zM747.1 422.1h6.4v6.4h-6.4zM748.3 421.9h6.4v6.4h-6.4zM749.5 421.7h6.4v6.4h-6.4zM750.6 421.1h6.4v6.4h-6.4zM751.8 423.6h6.4v6.4h-6.4zM753.0 418.8h6.4v6.4h-6.4zM754.1 422.5h6.4v6.4h-6.4zM755.3 420.3h6.4v6.4h-6.4zM756.5 423.6h6.4v6.4h-6.4zM757.6 420.6h6.4v6.4h-6.4zM758.8 420.6h6.4v6.4h-6.4zM760.0 422.7h6.4v6.4h-6.4zM761.1 416.5h6.4v6.4h-6.4zM762.3 420.7h6.4v6.4h-6.4z" fill="none" stroke="#ffc21f" stroke-width="1.05" stroke-opacity="0.55"/><path clip-path="url(#c2)" d="M527.9 421.4a4.1 4.1 0 1 0 8.2 0a4.1 4.1 0 1 0 -8.2 0zM529.1 422.8a4.1 4.1 0 1 0 8.2 0a4.1 4.1 0 1 0 -8.2 0zM530.2 425.5a4.1 4.1 0 1 0 8.2 0a4.1 4.1 0 1 0 -8.2 0zM531.4 425.0a4.1 4.1 0 1 0 8.2 0a4.1 4.1 0 1 0 -8.2 0zM532.6 423.6a4.1 4.1 0 1 0 8.2 0a4.1 4.1 0 1 0 -8.2 0zM533.7 424.2a4.1 4.1 0 1 0 8.2 0a4.1 4.1 0 1 0 -8.2 0zM534.9 424.3a4.1 4.1 0 1 0 8.2 0a4.1 4.1 0 1 0 -8.2 0zM536.1 424.8a4.1 4.1 0 1 0 8.2 0a4.1 4.1 0 1 0 -8.2 0zM537.2 427.4a4.1 4.1 0 1 0 8.2 0a4.1 4.1 0 1 0 -8.2 0zM538.4 424.7a4.1 4.1 0 1 0 8.2 0a4.1 4.1 0 1 0 -8.2 0zM539.6 428.1a4.1 4.1 0 1 0 8.2 0a4.1 4.1 0 1 0 -8.2 0zM540.7 423.6a4.1 4.1 0 1 0 8.2 0a4.1 4.1 0 1 0 -8.2 0zM541.9 425.5a4.1 4.1 0 1 0 8.2 0a4.1 4.1 0 1 0 -8.2 0zM543.1 425.4a4.1 4.1 0 1 0 8.2 0a4.1 4.1 0 1 0 -8.2 0zM544.2 424.6a4.1 4.1 0 1 0 8.2 0a4.1 4.1 0 1 0 -8.2 0zM545.4 423.7a4.1 4.1 0 1 0 8.2 0a4.1 4.1 0 1 0 -8.2 0zM546.6 426.6a4.1 4.1 0 1 0 8.2 0a4.1 4.1 0 1 0 -8.2 0zM547.7 427.1a4.1 4.1 0 1 0 8.2 0a4.1 4.1 0 1 0 -8.2 0zM548.9 425.9a4.1 4.1 0 1 0 8.2 0a4.1 4.1 0 1 0 -8.2 0zM550.1 427.6a4.1 4.1 0 1 0 8.2 0a4.1 4.1 0 1 0 -8.2 0zM551.2 425.7a4.1 4.1 0 1 0 8.2 0a4.1 4.1 0 1 0 -8.2 0zM552.4 421.2a4.1 4.1 0 1 0 8.2 0a4.1 4.1 0 1 0 -8.2 0zM553.6 425.8a4.1 4.1 0 1 0 8.2 0a4.1 4.1 0 1 0 -8.2 0zM554.8 422.8a4.1 4.1 0 1 0 8.2 0a4.1 4.1 0 1 0 -8.2 0zM555.9 426.2a4.1 4.1 0 1 0 8.2 0a4.1 4.1 0 1 0 -8.2 0zM557.1 423.3a4.1 4.1 0 1 0 8.2 0a4.1 4.1 0 1 0 -8.2 0zM558.3 424.3a4.1 4.1 0 1 0 8.2 0a4.1 4.1 0 1 0 -8.2 0zM559.4 423.8a4.1 4.1 0 1 0 8.2 0a4.1 4.1 0 1 0 -8.2 0zM560.6 422.7a4.1 4.1 0 1 0 8.2 0a4.1 4.1 0 1 0 -8.2 0zM561.8 420.6a4.1 4.1 0 1 0 8.2 0a4.1 4.1 0 1 0 -8.2 0zM562.9 423.2a4.1 4.1 0 1 0 8.2 0a4.1 4.1 0 1 0 -8.2 0zM564.1 423.3a4.1 4.1 0 1 0 8.2 0a4.1 4.1 0 1 0 -8.2 0zM565.3 425.1a4.1 4.1 0 1 0 8.2 0a4.1 4.1 0 1 0 -8.2 0zM566.4 422.4a4.1 4.1 0 1 0 8.2 0a4.1 4.1 0 1 0 -8.2 0zM567.6 423.7a4.1 4.1 0 1 0 8.2 0a4.1 4.1 0 1 0 -8.2 0zM568.8 421.8a4.1 4.1 0 1 0 8.2 0a4.1 4.1 0 1 0 -8.2 0zM569.9 423.2a4.1 4.1 0 1 0 8.2 0a4.1 4.1 0 1 0 -8.2 0zM571.1 420.0a4.1 4.1 0 1 0 8.2 0a4.1 4.1 0 1 0 -8.2 0zM572.3 426.4a4.1 4.1 0 1 0 8.2 0a4.1 4.1 0 1 0 -8.2 0zM573.4 423.3a4.1 4.1 0 1 0 8.2 0a4.1 4.1 0 1 0 -8.2 0zM574.6 421.2a4.1 4.1 0 1 0 8.2 0a4.1 4.1 0 1 0 -8.2 0zM575.8 423.2a4.1 4.1 0 1 0 8.2 0a4.1 4.1 0 1 0 -8.2 0zM576.9 423.8a4.1 4.1 0 1 0 8.2 0a4.1 4.1 0 1 0 -8.2 0zM578.1 422.8a4.1 4.1 0 1 0 8.2 0a4.1 4.1 0 1 0 -8.2 0zM579.3 424.5a4.1 4.1 0 1 0 8.2 0a4.1 4.1 0 1 0 -8.2 0zM580.4 421.7a4.1 4.1 0 1 0 8.2 0a4.1 4.1 0 1 0 -8.2 0zM581.6 417.6a4.1 4.1 0 1 0 8.2 0a4.1 4.1 0 1 0 -8.2 0zM582.8 419.6a4.1 4.1 0 1 0 8.2 0a4.1 4.1 0 1 0 -8.2 0zM583.9 423.3a4.1 4.1 0 1 0 8.2 0a4.1 4.1 0 1 0 -8.2 0zM585.1 422.6a4.1 4.1 0 1 0 8.2 0a4.1 4.1 0 1 0 -8.2 0zM586.3 421.6a4.1 4.1 0 1 0 8.2 0a4.1 4.1 0 1 0 -8.2 0zM587.4 418.8a4.1 4.1 0 1 0 8.2 0a4.1 4.1 0 1 0 -8.2 0zM588.6 421.7a4.1 4.1 0 1 0 8.2 0a4.1 4.1 0 1 0 -8.2 0zM589.8 421.2a4.1 4.1 0 1 0 8.2 0a4.1 4.1 0 1 0 -8.2 0zM590.9 418.1a4.1 4.1 0 1 0 8.2 0a4.1 4.1 0 1 0 -8.2 0zM592.1 417.8a4.1 4.1 0 1 0 8.2 0a4.1 4.1 0 1 0 -8.2 0zM593.3 419.6a4.1 4.1 0 1 0 8.2 0a4.1 4.1 0 1 0 -8.2 0zM594.4 420.5a4.1 4.1 0 1 0 8.2 0a4.1 4.1 0 1 0 -8.2 0zM595.6 420.8a4.1 4.1 0 1 0 8.2 0a4.1 4.1 0 1 0 -8.2 0zM596.8 418.9a4.1 4.1 0 1 0 8.2 0a4.1 4.1 0 1 0 -8.2 0zM597.9 421.1a4.1 4.1 0 1 0 8.2 0a4.1 4.1 0 1 0 -8.2 0zM599.1 415.5a4.1 4.1 0 1 0 8.2 0a4.1 4.1 0 1 0 -8.2 0zM600.3 417.3a4.1 4.1 0 1 0 8.2 0a4.1 4.1 0 1 0 -8.2 0zM601.5 414.9a4.1 4.1 0 1 0 8.2 0a4.1 4.1 0 1 0 -8.2 0zM602.6 411.9a4.1 4.1 0 1 0 8.2 0a4.1 4.1 0 1 0 -8.2 0zM603.8 412.6a4.1 4.1 0 1 0 8.2 0a4.1 4.1 0 1 0 -8.2 0zM605.0 416.0a4.1 4.1 0 1 0 8.2 0a4.1 4.1 0 1 0 -8.2 0zM606.1 411.9a4.1 4.1 0 1 0 8.2 0a4.1 4.1 0 1 0 -8.2 0zM607.3 410.8a4.1 4.1 0 1 0 8.2 0a4.1 4.1 0 1 0 -8.2 0zM608.5 413.4a4.1 4.1 0 1 0 8.2 0a4.1 4.1 0 1 0 -8.2 0zM609.6 413.1a4.1 4.1 0 1 0 8.2 0a4.1 4.1 0 1 0 -8.2 0zM610.8 411.0a4.1 4.1 0 1 0 8.2 0a4.1 4.1 0 1 0 -8.2 0zM612.0 412.9a4.1 4.1 0 1 0 8.2 0a4.1 4.1 0 1 0 -8.2 0zM613.1 406.9a4.1 4.1 0 1 0 8.2 0a4.1 4.1 0 1 0 -8.2 0zM614.3 412.9a4.1 4.1 0 1 0 8.2 0a4.1 4.1 0 1 0 -8.2 0zM615.5 409.9a4.1 4.1 0 1 0 8.2 0a4.1 4.1 0 1 0 -8.2 0zM616.6 407.8a4.1 4.1 0 1 0 8.2 0a4.1 4.1 0 1 0 -8.2 0zM617.8 407.0a4.1 4.1 0 1 0 8.2 0a4.1 4.1 0 1 0 -8.2 0zM619.0 405.6a4.1 4.1 0 1 0 8.2 0a4.1 4.1 0 1 0 -8.2 0zM620.1 404.8a4.1 4.1 0 1 0 8.2 0a4.1 4.1 0 1 0 -8.2 0zM621.3 405.0a4.1 4.1 0 1 0 8.2 0a4.1 4.1 0 1 0 -8.2 0zM622.5 402.0a4.1 4.1 0 1 0 8.2 0a4.1 4.1 0 1 0 -8.2 0zM623.6 407.1a4.1 4.1 0 1 0 8.2 0a4.1 4.1 0 1 0 -8.2 0zM624.8 402.9a4.1 4.1 0 1 0 8.2 0a4.1 4.1 0 1 0 -8.2 0zM626.0 403.6a4.1 4.1 0 1 0 8.2 0a4.1 4.1 0 1 0 -8.2 0zM627.1 401.7a4.1 4.1 0 1 0 8.2 0a4.1 4.1 0 1 0 -8.2 0zM628.3 401.1a4.1 4.1 0 1 0 8.2 0a4.1 4.1 0 1 0 -8.2 0zM629.5 402.7a4.1 4.1 0 1 0 8.2 0a4.1 4.1 0 1 0 -8.2 0zM630.6 401.9a4.1 4.1 0 1 0 8.2 0a4.1 4.1 0 1 0 -8.2 0zM631.8 399.3a4.1 4.1 0 1 0 8.2 0a4.1 4.1 0 1 0 -8.2 0zM633.0 399.9a4.1 4.1 0 1 0 8.2 0a4.1 4.1 0 1 0 -8.2 0zM634.1 401.6a4.1 4.1 0 1 0 8.2 0a4.1 4.1 0 1 0 -8.2 0zM635.3 396.9a4.1 4.1 0 1 0 8.2 0a4.1 4.1 0 1 0 -8.2 0zM636.5 396.5a4.1 4.1 0 1 0 8.2 0a4.1 4.1 0 1 0 -8.2 0zM637.6 403.1a4.1 4.1 0 1 0 8.2 0a4.1 4.1 0 1 0 -8.2 0zM638.8 400.3a4.1 4.1 0 1 0 8.2 0a4.1 4.1 0 1 0 -8.2 0zM640.0 396.8a4.1 4.1 0 1 0 8.2 0a4.1 4.1 0 1 0 -8.2 0zM641.1 400.1a4.1 4.1 0 1 0 8.2 0a4.1 4.1 0 1 0 -8.2 0zM642.3 401.5a4.1 4.1 0 1 0 8.2 0a4.1 4.1 0 1 0 -8.2 0zM643.5 402.7a4.1 4.1 0 1 0 8.2 0a4.1 4.1 0 1 0 -8.2 0zM644.6 403.8a4.1 4.1 0 1 0 8.2 0a4.1 4.1 0 1 0 -8.2 0zM645.8 403.8a4.1 4.1 0 1 0 8.2 0a4.1 4.1 0 1 0 -8.2 0zM647.0 405.0a4.1 4.1 0 1 0 8.2 0a4.1 4.1 0 1 0 -8.2 0zM648.2 403.3a4.1 4.1 0 1 0 8.2 0a4.1 4.1 0 1 0 -8.2 0zM649.3 406.0a4.1 4.1 0 1 0 8.2 0a4.1 4.1 0 1 0 -8.2 0zM650.5 406.7a4.1 4.1 0 1 0 8.2 0a4.1 4.1 0 1 0 -8.2 0zM651.7 408.7a4.1 4.1 0 1 0 8.2 0a4.1 4.1 0 1 0 -8.2 0zM652.8 407.4a4.1 4.1 0 1 0 8.2 0a4.1 4.1 0 1 0 -8.2 0zM654.0 409.5a4.1 4.1 0 1 0 8.2 0a4.1 4.1 0 1 0 -8.2 0zM655.2 409.0a4.1 4.1 0 1 0 8.2 0a4.1 4.1 0 1 0 -8.2 0zM656.3 407.6a4.1 4.1 0 1 0 8.2 0a4.1 4.1 0 1 0 -8.2 0zM657.5 409.5a4.1 4.1 0 1 0 8.2 0a4.1 4.1 0 1 0 -8.2 0zM658.7 409.9a4.1 4.1 0 1 0 8.2 0a4.1 4.1 0 1 0 -8.2 0zM659.8 410.8a4.1 4.1 0 1 0 8.2 0a4.1 4.1 0 1 0 -8.2 0zM661.0 412.0a4.1 4.1 0 1 0 8.2 0a4.1 4.1 0 1 0 -8.2 0zM662.2 413.0a4.1 4.1 0 1 0 8.2 0a4.1 4.1 0 1 0 -8.2 0zM663.3 413.9a4.1 4.1 0 1 0 8.2 0a4.1 4.1 0 1 0 -8.2 0zM664.5 412.7a4.1 4.1 0 1 0 8.2 0a4.1 4.1 0 1 0 -8.2 0zM665.7 416.5a4.1 4.1 0 1 0 8.2 0a4.1 4.1 0 1 0 -8.2 0zM666.8 412.8a4.1 4.1 0 1 0 8.2 0a4.1 4.1 0 1 0 -8.2 0zM668.0 415.7a4.1 4.1 0 1 0 8.2 0a4.1 4.1 0 1 0 -8.2 0zM669.2 417.5a4.1 4.1 0 1 0 8.2 0a4.1 4.1 0 1 0 -8.2 0zM670.3 417.6a4.1 4.1 0 1 0 8.2 0a4.1 4.1 0 1 0 -8.2 0zM671.5 418.4a4.1 4.1 0 1 0 8.2 0a4.1 4.1 0 1 0 -8.2 0zM672.7 417.4a4.1 4.1 0 1 0 8.2 0a4.1 4.1 0 1 0 -8.2 0zM673.8 419.4a4.1 4.1 0 1 0 8.2 0a4.1 4.1 0 1 0 -8.2 0zM675.0 416.6a4.1 4.1 0 1 0 8.2 0a4.1 4.1 0 1 0 -8.2 0zM676.2 420.3a4.1 4.1 0 1 0 8.2 0a4.1 4.1 0 1 0 -8.2 0zM677.3 423.2a4.1 4.1 0 1 0 8.2 0a4.1 4.1 0 1 0 -8.2 0zM678.5 420.9a4.1 4.1 0 1 0 8.2 0a4.1 4.1 0 1 0 -8.2 0zM679.7 423.4a4.1 4.1 0 1 0 8.2 0a4.1 4.1 0 1 0 -8.2 0zM680.8 420.4a4.1 4.1 0 1 0 8.2 0a4.1 4.1 0 1 0 -8.2 0zM682.0 418.8a4.1 4.1 0 1 0 8.2 0a4.1 4.1 0 1 0 -8.2 0zM683.2 419.7a4.1 4.1 0 1 0 8.2 0a4.1 4.1 0 1 0 -8.2 0zM684.3 423.4a4.1 4.1 0 1 0 8.2 0a4.1 4.1 0 1 0 -8.2 0zM685.5 422.7a4.1 4.1 0 1 0 8.2 0a4.1 4.1 0 1 0 -8.2 0zM686.7 418.5a4.1 4.1 0 1 0 8.2 0a4.1 4.1 0 1 0 -8.2 0zM687.8 421.2a4.1 4.1 0 1 0 8.2 0a4.1 4.1 0 1 0 -8.2 0zM689.0 421.9a4.1 4.1 0 1 0 8.2 0a4.1 4.1 0 1 0 -8.2 0zM690.2 420.3a4.1 4.1 0 1 0 8.2 0a4.1 4.1 0 1 0 -8.2 0zM691.4 418.1a4.1 4.1 0 1 0 8.2 0a4.1 4.1 0 1 0 -8.2 0zM692.5 420.2a4.1 4.1 0 1 0 8.2 0a4.1 4.1 0 1 0 -8.2 0zM693.7 422.3a4.1 4.1 0 1 0 8.2 0a4.1 4.1 0 1 0 -8.2 0zM694.9 422.1a4.1 4.1 0 1 0 8.2 0a4.1 4.1 0 1 0 -8.2 0zM696.0 421.8a4.1 4.1 0 1 0 8.2 0a4.1 4.1 0 1 0 -8.2 0zM697.2 424.0a4.1 4.1 0 1 0 8.2 0a4.1 4.1 0 1 0 -8.2 0zM698.4 424.9a4.1 4.1 0 1 0 8.2 0a4.1 4.1 0 1 0 -8.2 0zM699.5 423.1a4.1 4.1 0 1 0 8.2 0a4.1 4.1 0 1 0 -8.2 0zM700.7 424.9a4.1 4.1 0 1 0 8.2 0a4.1 4.1 0 1 0 -8.2 0zM701.9 423.4a4.1 4.1 0 1 0 8.2 0a4.1 4.1 0 1 0 -8.2 0zM703.0 423.2a4.1 4.1 0 1 0 8.2 0a4.1 4.1 0 1 0 -8.2 0zM704.2 419.4a4.1 4.1 0 1 0 8.2 0a4.1 4.1 0 1 0 -8.2 0zM705.4 425.0a4.1 4.1 0 1 0 8.2 0a4.1 4.1 0 1 0 -8.2 0zM706.5 423.8a4.1 4.1 0 1 0 8.2 0a4.1 4.1 0 1 0 -8.2 0zM707.7 423.9a4.1 4.1 0 1 0 8.2 0a4.1 4.1 0 1 0 -8.2 0zM708.9 422.9a4.1 4.1 0 1 0 8.2 0a4.1 4.1 0 1 0 -8.2 0zM710.0 421.9a4.1 4.1 0 1 0 8.2 0a4.1 4.1 0 1 0 -8.2 0zM711.2 424.6a4.1 4.1 0 1 0 8.2 0a4.1 4.1 0 1 0 -8.2 0zM712.4 425.2a4.1 4.1 0 1 0 8.2 0a4.1 4.1 0 1 0 -8.2 0zM713.5 426.7a4.1 4.1 0 1 0 8.2 0a4.1 4.1 0 1 0 -8.2 0zM714.7 425.5a4.1 4.1 0 1 0 8.2 0a4.1 4.1 0 1 0 -8.2 0zM715.9 423.0a4.1 4.1 0 1 0 8.2 0a4.1 4.1 0 1 0 -8.2 0zM717.0 423.9a4.1 4.1 0 1 0 8.2 0a4.1 4.1 0 1 0 -8.2 0zM718.2 425.8a4.1 4.1 0 1 0 8.2 0a4.1 4.1 0 1 0 -8.2 0zM719.4 424.7a4.1 4.1 0 1 0 8.2 0a4.1 4.1 0 1 0 -8.2 0zM720.5 424.0a4.1 4.1 0 1 0 8.2 0a4.1 4.1 0 1 0 -8.2 0zM721.7 423.2a4.1 4.1 0 1 0 8.2 0a4.1 4.1 0 1 0 -8.2 0zM722.9 425.2a4.1 4.1 0 1 0 8.2 0a4.1 4.1 0 1 0 -8.2 0zM724.0 424.6a4.1 4.1 0 1 0 8.2 0a4.1 4.1 0 1 0 -8.2 0zM725.2 427.3a4.1 4.1 0 1 0 8.2 0a4.1 4.1 0 1 0 -8.2 0zM726.4 426.2a4.1 4.1 0 1 0 8.2 0a4.1 4.1 0 1 0 -8.2 0zM727.5 421.4a4.1 4.1 0 1 0 8.2 0a4.1 4.1 0 1 0 -8.2 0zM728.7 428.0a4.1 4.1 0 1 0 8.2 0a4.1 4.1 0 1 0 -8.2 0zM729.9 424.8a4.1 4.1 0 1 0 8.2 0a4.1 4.1 0 1 0 -8.2 0zM731.0 423.9a4.1 4.1 0 1 0 8.2 0a4.1 4.1 0 1 0 -8.2 0zM732.2 424.9a4.1 4.1 0 1 0 8.2 0a4.1 4.1 0 1 0 -8.2 0zM733.4 425.7a4.1 4.1 0 1 0 8.2 0a4.1 4.1 0 1 0 -8.2 0zM734.5 424.4a4.1 4.1 0 1 0 8.2 0a4.1 4.1 0 1 0 -8.2 0zM735.7 424.4a4.1 4.1 0 1 0 8.2 0a4.1 4.1 0 1 0 -8.2 0zM736.9 424.5a4.1 4.1 0 1 0 8.2 0a4.1 4.1 0 1 0 -8.2 0zM738.0 427.6a4.1 4.1 0 1 0 8.2 0a4.1 4.1 0 1 0 -8.2 0zM739.2 424.7a4.1 4.1 0 1 0 8.2 0a4.1 4.1 0 1 0 -8.2 0zM740.4 425.9a4.1 4.1 0 1 0 8.2 0a4.1 4.1 0 1 0 -8.2 0zM741.6 425.4a4.1 4.1 0 1 0 8.2 0a4.1 4.1 0 1 0 -8.2 0zM742.7 424.1a4.1 4.1 0 1 0 8.2 0a4.1 4.1 0 1 0 -8.2 0zM743.9 423.4a4.1 4.1 0 1 0 8.2 0a4.1 4.1 0 1 0 -8.2 0zM745.1 422.9a4.1 4.1 0 1 0 8.2 0a4.1 4.1 0 1 0 -8.2 0zM746.2 425.3a4.1 4.1 0 1 0 8.2 0a4.1 4.1 0 1 0 -8.2 0zM747.4 422.9a4.1 4.1 0 1 0 8.2 0a4.1 4.1 0 1 0 -8.2 0zM748.6 422.5a4.1 4.1 0 1 0 8.2 0a4.1 4.1 0 1 0 -8.2 0zM749.7 422.6a4.1 4.1 0 1 0 8.2 0a4.1 4.1 0 1 0 -8.2 0zM750.9 422.1a4.1 4.1 0 1 0 8.2 0a4.1 4.1 0 1 0 -8.2 0zM752.1 424.8a4.1 4.1 0 1 0 8.2 0a4.1 4.1 0 1 0 -8.2 0zM753.2 424.9a4.1 4.1 0 1 0 8.2 0a4.1 4.1 0 1 0 -8.2 0zM754.4 423.1a4.1 4.1 0 1 0 8.2 0a4.1 4.1 0 1 0 -8.2 0zM755.6 426.9a4.1 4.1 0 1 0 8.2 0a4.1 4.1 0 1 0 -8.2 0zM756.7 424.2a4.1 4.1 0 1 0 8.2 0a4.1 4.1 0 1 0 -8.2 0zM757.9 425.5a4.1 4.1 0 1 0 8.2 0a4.1 4.1 0 1 0 -8.2 0zM759.1 425.2a4.1 4.1 0 1 0 8.2 0a4.1 4.1 0 1 0 -8.2 0zM760.2 427.6a4.1 4.1 0 1 0 8.2 0a4.1 4.1 0 1 0 -8.2 0zM761.4 426.2a4.1 4.1 0 1 0 8.2 0a4.1 4.1 0 1 0 -8.2 0z" fill="none" stroke="#ff2222" stroke-width="1.05" stroke-opacity="0.7"/><rect x="532" y="243" width="233.5" height="187" fill="none" stroke="#4d4d4d" stroke-width="1.55"/><path d="M532 426.5h4M765.5 426.5h-4M532 397.8h3M765.5 397.8h-3M532 369.0h4M765.5 369.0h-4M532 340.2h3M765.5 340.2h-3M532 311.5h4M765.5 311.5h-4M532 282.8h3M765.5 282.8h-3M532 254.0h4M765.5 254.0h-4M532.0 430v-4M532.0 243v4M561.2 430v-3M561.2 243v3M590.4 430v-4M590.4 243v4M619.6 430v-3M619.6 243v3M648.8 430v-4M648.8 243v4M677.9 430v-3M677.9 243v3M707.1 430v-4M707.1 243v4M736.3 430v-3M736.3 243v3M765.5 430v-4M765.5 243v4" stroke="#4a4a4a" stroke-width="1.2"/><text transform="translate(527.4,432.1) scale(1.0,1)" text-anchor="end" class="tl">0</text><text transform="translate(527.4,374.6) scale(1.0,1)" text-anchor="end" class="tl">50</text><text transform="translate(527.4,317.1) scale(1.0,1)" text-anchor="end" class="tl">100</text><text transform="translate(527.4,259.6) scale(1.0,1)" text-anchor="end" class="tl">150</text><text transform="translate(531.7,448.2) scale(1.0,1)" text-anchor="middle" class="tl">700</text><text transform="translate(590.1,448.2) scale(1.0,1)" text-anchor="middle" class="tl">750</text><text transform="translate(648.5,448.2) scale(1.0,1)" text-anchor="middle" class="tl">800</text><text transform="translate(706.8,448.2) scale(1.0,1)" text-anchor="middle" class="tl">850</text><text transform="translate(765.2,448.2) scale(1.0,1)" text-anchor="middle" class="tl">900</text><text x="0" y="0" transform="translate(648.2,462.9) scale(1.02,1)" text-anchor="middle" class="al">Wavelength (nm)</text><text x="0" y="0" transform="translate(493.7,335.9) rotate(-90) scale(1.04,1)" text-anchor="middle" class="al">CL intensity (counts)</text><text transform="translate(545.50,274.20) scale(1.0300,1)" class="tt" font-size="23.60">PbCl<tspan font-size="16.5" dy="5">2</tspan></text><path clip-path="url(#c3)" d="M826.8 420.8h6.4v6.4h-6.4zM828.0 418.5h6.4v6.4h-6.4zM829.1 418.2h6.4v6.4h-6.4zM830.3 420.8h6.4v6.4h-6.4zM831.5 421.1h6.4v6.4h-6.4zM832.6 422.6h6.4v6.4h-6.4zM833.8 419.5h6.4v6.4h-6.4zM835.0 421.1h6.4v6.4h-6.4zM836.1 418.8h6.4v6.4h-6.4zM837.3 415.9h6.4v6.4h-6.4zM838.4 420.3h6.4v6.4h-6.4zM839.6 424.0h6.4v6.4h-6.4zM840.8 422.3h6.4v6.4h-6.4zM841.9 423.8h6.4v6.4h-6.4zM843.1 423.0h6.4v6.4h-6.4zM844.3 416.6h6.4v6.4h-6.4zM845.4 419.3h6.4v6.4h-6.4zM846.6 423.6h6.4v6.4h-6.4zM847.8 418.1h6.4v6.4h-6.4zM848.9 416.4h6.4v6.4h-6.4zM850.1 420.5h6.4v6.4h-6.4zM851.3 421.2h6.4v6.4h-6.4zM852.4 420.2h6.4v6.4h-6.4zM853.6 418.5h6.4v6.4h-6.4zM854.8 417.5h6.4v6.4h-6.4zM855.9 416.1h6.4v6.4h-6.4zM857.1 415.9h6.4v6.4h-6.4zM858.3 415.8h6.4v6.4h-6.4zM859.4 415.3h6.4v6.4h-6.4zM860.6 416.9h6.4v6.4h-6.4zM861.8 422.3h6.4v6.4h-6.4zM862.9 418.6h6.4v6.4h-6.4zM864.1 417.4h6.4v6.4h-6.4zM865.2 419.0h6.4v6.4h-6.4zM866.4 415.5h6.4v6.4h-6.4zM867.6 418.5h6.4v6.4h-6.4zM868.7 419.8h6.4v6.4h-6.4zM869.9 413.6h6.4v6.4h-6.4zM871.1 415.3h6.4v6.4h-6.4zM872.2 416.2h6.4v6.4h-6.4zM873.4 414.2h6.4v6.4h-6.4zM874.6 413.5h6.4v6.4h-6.4zM875.7 415.1h6.4v6.4h-6.4zM876.9 421.8h6.4v6.4h-6.4zM878.1 417.0h6.4v6.4h-6.4zM879.2 416.0h6.4v6.4h-6.4zM880.4 417.0h6.4v6.4h-6.4zM881.6 413.5h6.4v6.4h-6.4zM882.7 410.5h6.4v6.4h-6.4zM883.9 414.3h6.4v6.4h-6.4zM885.0 415.4h6.4v6.4h-6.4zM886.2 406.8h6.4v6.4h-6.4zM887.4 412.4h6.4v6.4h-6.4zM888.5 413.7h6.4v6.4h-6.4zM889.7 409.2h6.4v6.4h-6.4zM890.9 408.0h6.4v6.4h-6.4zM892.0 410.0h6.4v6.4h-6.4zM893.2 405.3h6.4v6.4h-6.4zM894.4 407.5h6.4v6.4h-6.4zM895.5 407.6h6.4v6.4h-6.4zM896.7 403.7h6.4v6.4h-6.4zM897.9 401.0h6.4v6.4h-6.4zM899.0 403.3h6.4v6.4h-6.4zM900.2 399.6h6.4v6.4h-6.4zM901.4 399.3h6.4v6.4h-6.4zM902.5 390.4h6.4v6.4h-6.4zM903.7 397.8h6.4v6.4h-6.4zM904.9 390.9h6.4v6.4h-6.4zM906.0 392.9h6.4v6.4h-6.4zM907.2 391.3h6.4v6.4h-6.4zM908.3 387.3h6.4v6.4h-6.4zM909.5 385.0h6.4v6.4h-6.4zM910.7 382.1h6.4v6.4h-6.4zM911.8 382.5h6.4v6.4h-6.4zM913.0 382.8h6.4v6.4h-6.4zM914.2 380.6h6.4v6.4h-6.4zM915.3 375.9h6.4v6.4h-6.4zM916.5 373.6h6.4v6.4h-6.4zM917.7 369.4h6.4v6.4h-6.4zM918.8 369.9h6.4v6.4h-6.4zM920.0 366.2h6.4v6.4h-6.4zM921.2 363.1h6.4v6.4h-6.4zM922.3 364.6h6.4v6.4h-6.4zM923.5 367.0h6.4v6.4h-6.4zM924.7 364.5h6.4v6.4h-6.4zM925.8 363.7h6.4v6.4h-6.4zM927.0 354.7h6.4v6.4h-6.4zM928.2 359.8h6.4v6.4h-6.4zM929.3 353.6h6.4v6.4h-6.4zM930.5 354.6h6.4v6.4h-6.4zM931.6 351.3h6.4v6.4h-6.4zM932.8 353.0h6.4v6.4h-6.4zM934.0 355.9h6.4v6.4h-6.4zM935.1 356.6h6.4v6.4h-6.4zM936.3 356.5h6.4v6.4h-6.4zM937.5 357.2h6.4v6.4h-6.4zM938.6 360.1h6.4v6.4h-6.4zM939.8 360.1h6.4v6.4h-6.4zM941.0 357.5h6.4v6.4h-6.4zM942.1 367.5h6.4v6.4h-6.4zM943.3 364.4h6.4v6.4h-6.4zM944.5 369.2h6.4v6.4h-6.4zM945.6 368.4h6.4v6.4h-6.4zM946.8 368.8h6.4v6.4h-6.4zM948.0 373.1h6.4v6.4h-6.4zM949.1 373.1h6.4v6.4h-6.4zM950.3 381.2h6.4v6.4h-6.4zM951.5 376.5h6.4v6.4h-6.4zM952.6 382.9h6.4v6.4h-6.4zM953.8 381.8h6.4v6.4h-6.4zM954.9 384.9h6.4v6.4h-6.4zM956.1 393.8h6.4v6.4h-6.4zM957.3 391.1h6.4v6.4h-6.4zM958.4 390.4h6.4v6.4h-6.4zM959.6 388.8h6.4v6.4h-6.4zM960.8 393.7h6.4v6.4h-6.4zM961.9 395.4h6.4v6.4h-6.4zM963.1 401.1h6.4v6.4h-6.4zM964.3 395.4h6.4v6.4h-6.4zM965.4 395.8h6.4v6.4h-6.4zM966.6 401.7h6.4v6.4h-6.4zM967.8 403.5h6.4v6.4h-6.4zM968.9 408.3h6.4v6.4h-6.4zM970.1 403.0h6.4v6.4h-6.4zM971.3 399.5h6.4v6.4h-6.4zM972.4 405.5h6.4v6.4h-6.4zM973.6 405.0h6.4v6.4h-6.4zM974.8 407.7h6.4v6.4h-6.4zM975.9 412.3h6.4v6.4h-6.4zM977.1 407.2h6.4v6.4h-6.4zM978.2 414.4h6.4v6.4h-6.4zM979.4 412.4h6.4v6.4h-6.4zM980.6 411.8h6.4v6.4h-6.4zM981.7 410.8h6.4v6.4h-6.4zM982.9 412.5h6.4v6.4h-6.4zM984.1 413.0h6.4v6.4h-6.4zM985.2 416.4h6.4v6.4h-6.4zM986.4 418.1h6.4v6.4h-6.4zM987.6 415.1h6.4v6.4h-6.4zM988.7 417.4h6.4v6.4h-6.4zM989.9 419.2h6.4v6.4h-6.4zM991.1 419.4h6.4v6.4h-6.4zM992.2 417.7h6.4v6.4h-6.4zM993.4 421.4h6.4v6.4h-6.4zM994.6 420.4h6.4v6.4h-6.4zM995.7 421.4h6.4v6.4h-6.4zM996.9 417.0h6.4v6.4h-6.4zM998.1 416.6h6.4v6.4h-6.4zM999.2 412.7h6.4v6.4h-6.4zM1000.4 421.8h6.4v6.4h-6.4zM1001.5 419.9h6.4v6.4h-6.4zM1002.7 416.0h6.4v6.4h-6.4zM1003.9 419.0h6.4v6.4h-6.4zM1005.0 419.4h6.4v6.4h-6.4zM1006.2 414.4h6.4v6.4h-6.4zM1007.4 419.7h6.4v6.4h-6.4zM1008.5 421.9h6.4v6.4h-6.4zM1009.7 422.4h6.4v6.4h-6.4zM1010.9 418.3h6.4v6.4h-6.4zM1012.0 418.5h6.4v6.4h-6.4zM1013.2 422.8h6.4v6.4h-6.4zM1014.4 421.9h6.4v6.4h-6.4zM1015.5 418.2h6.4v6.4h-6.4zM1016.7 418.2h6.4v6.4h-6.4zM1017.9 421.3h6.4v6.4h-6.4zM1019.0 418.2h6.4v6.4h-6.4zM1020.2 418.4h6.4v6.4h-6.4zM1021.4 424.4h6.4v6.4h-6.4zM1022.5 420.8h6.4v6.4h-6.4zM1023.7 419.0h6.4v6.4h-6.4zM1024.8 421.6h6.4v6.4h-6.4zM1026.0 425.6h6.4v6.4h-6.4zM1027.2 421.0h6.4v6.4h-6.4zM1028.3 418.4h6.4v6.4h-6.4zM1029.5 416.4h6.4v6.4h-6.4zM1030.7 426.0h6.4v6.4h-6.4zM1031.8 413.9h6.4v6.4h-6.4zM1033.0 423.4h6.4v6.4h-6.4zM1034.2 418.2h6.4v6.4h-6.4zM1035.3 417.5h6.4v6.4h-6.4zM1036.5 418.2h6.4v6.4h-6.4zM1037.7 420.3h6.4v6.4h-6.4zM1038.8 423.7h6.4v6.4h-6.4zM1040.0 419.2h6.4v6.4h-6.4zM1041.2 422.7h6.4v6.4h-6.4zM1042.3 427.3h6.4v6.4h-6.4zM1043.5 413.8h6.4v6.4h-6.4zM1044.7 419.2h6.4v6.4h-6.4zM1045.8 416.4h6.4v6.4h-6.4zM1047.0 423.3h6.4v6.4h-6.4zM1048.1 417.3h6.4v6.4h-6.4zM1049.3 417.1h6.4v6.4h-6.4zM1050.5 417.2h6.4v6.4h-6.4zM1051.6 421.2h6.4v6.4h-6.4zM1052.8 424.2h6.4v6.4h-6.4zM1054.0 421.7h6.4v6.4h-6.4zM1055.1 426.8h6.4v6.4h-6.4zM1056.3 425.6h6.4v6.4h-6.4zM1057.5 421.1h6.4v6.4h-6.4zM1058.6 423.8h6.4v6.4h-6.4zM1059.8 421.8h6.4v6.4h-6.4z" fill="none" stroke="#ffc21f" stroke-width="1.05" stroke-opacity="0.55"/><path clip-path="url(#c3)" d="M825.9 424.1a4.1 4.1 0 1 0 8.2 0a4.1 4.1 0 1 0 -8.2 0zM827.1 420.5a4.1 4.1 0 1 0 8.2 0a4.1 4.1 0 1 0 -8.2 0zM828.2 421.6a4.1 4.1 0 1 0 8.2 0a4.1 4.1 0 1 0 -8.2 0zM829.4 423.9a4.1 4.1 0 1 0 8.2 0a4.1 4.1 0 1 0 -8.2 0zM830.6 421.7a4.1 4.1 0 1 0 8.2 0a4.1 4.1 0 1 0 -8.2 0zM831.7 425.1a4.1 4.1 0 1 0 8.2 0a4.1 4.1 0 1 0 -8.2 0zM832.9 424.3a4.1 4.1 0 1 0 8.2 0a4.1 4.1 0 1 0 -8.2 0zM834.1 422.2a4.1 4.1 0 1 0 8.2 0a4.1 4.1 0 1 0 -8.2 0zM835.2 425.9a4.1 4.1 0 1 0 8.2 0a4.1 4.1 0 1 0 -8.2 0zM836.4 424.2a4.1 4.1 0 1 0 8.2 0a4.1 4.1 0 1 0 -8.2 0zM837.5 426.0a4.1 4.1 0 1 0 8.2 0a4.1 4.1 0 1 0 -8.2 0zM838.7 423.5a4.1 4.1 0 1 0 8.2 0a4.1 4.1 0 1 0 -8.2 0zM839.9 420.8a4.1 4.1 0 1 0 8.2 0a4.1 4.1 0 1 0 -8.2 0zM841.0 424.9a4.1 4.1 0 1 0 8.2 0a4.1 4.1 0 1 0 -8.2 0zM842.2 423.2a4.1 4.1 0 1 0 8.2 0a4.1 4.1 0 1 0 -8.2 0zM843.4 425.1a4.1 4.1 0 1 0 8.2 0a4.1 4.1 0 1 0 -8.2 0zM844.5 425.5a4.1 4.1 0 1 0 8.2 0a4.1 4.1 0 1 0 -8.2 0zM845.7 425.7a4.1 4.1 0 1 0 8.2 0a4.1 4.1 0 1 0 -8.2 0zM846.9 421.0a4.1 4.1 0 1 0 8.2 0a4.1 4.1 0 1 0 -8.2 0zM848.0 419.4a4.1 4.1 0 1 0 8.2 0a4.1 4.1 0 1 0 -8.2 0zM849.2 422.6a4.1 4.1 0 1 0 8.2 0a4.1 4.1 0 1 0 -8.2 0zM850.4 424.6a4.1 4.1 0 1 0 8.2 0a4.1 4.1 0 1 0 -8.2 0zM851.5 422.1a4.1 4.1 0 1 0 8.2 0a4.1 4.1 0 1 0 -8.2 0zM852.7 423.9a4.1 4.1 0 1 0 8.2 0a4.1 4.1 0 1 0 -8.2 0zM853.9 421.9a4.1 4.1 0 1 0 8.2 0a4.1 4.1 0 1 0 -8.2 0zM855.0 422.7a4.1 4.1 0 1 0 8.2 0a4.1 4.1 0 1 0 -8.2 0zM856.2 422.7a4.1 4.1 0 1 0 8.2 0a4.1 4.1 0 1 0 -8.2 0zM857.4 422.1a4.1 4.1 0 1 0 8.2 0a4.1 4.1 0 1 0 -8.2 0zM858.5 424.1a4.1 4.1 0 1 0 8.2 0a4.1 4.1 0 1 0 -8.2 0zM859.7 423.7a4.1 4.1 0 1 0 8.2 0a4.1 4.1 0 1 0 -8.2 0zM860.9 426.0a4.1 4.1 0 1 0 8.2 0a4.1 4.1 0 1 0 -8.2 0zM862.0 423.7a4.1 4.1 0 1 0 8.2 0a4.1 4.1 0 1 0 -8.2 0zM863.2 425.3a4.1 4.1 0 1 0 8.2 0a4.1 4.1 0 1 0 -8.2 0zM864.3 423.0a4.1 4.1 0 1 0 8.2 0a4.1 4.1 0 1 0 -8.2 0zM865.5 424.4a4.1 4.1 0 1 0 8.2 0a4.1 4.1 0 1 0 -8.2 0zM866.7 422.5a4.1 4.1 0 1 0 8.2 0a4.1 4.1 0 1 0 -8.2 0zM867.8 421.8a4.1 4.1 0 1 0 8.2 0a4.1 4.1 0 1 0 -8.2 0zM869.0 424.9a4.1 4.1 0 1 0 8.2 0a4.1 4.1 0 1 0 -8.2 0zM870.2 423.8a4.1 4.1 0 1 0 8.2 0a4.1 4.1 0 1 0 -8.2 0zM871.3 423.9a4.1 4.1 0 1 0 8.2 0a4.1 4.1 0 1 0 -8.2 0zM872.5 420.8a4.1 4.1 0 1 0 8.2 0a4.1 4.1 0 1 0 -8.2 0zM873.7 419.1a4.1 4.1 0 1 0 8.2 0a4.1 4.1 0 1 0 -8.2 0zM874.8 420.4a4.1 4.1 0 1 0 8.2 0a4.1 4.1 0 1 0 -8.2 0zM876.0 422.3a4.1 4.1 0 1 0 8.2 0a4.1 4.1 0 1 0 -8.2 0zM877.2 419.0a4.1 4.1 0 1 0 8.2 0a4.1 4.1 0 1 0 -8.2 0zM878.3 424.0a4.1 4.1 0 1 0 8.2 0a4.1 4.1 0 1 0 -8.2 0zM879.5 418.6a4.1 4.1 0 1 0 8.2 0a4.1 4.1 0 1 0 -8.2 0zM880.7 422.2a4.1 4.1 0 1 0 8.2 0a4.1 4.1 0 1 0 -8.2 0zM881.8 425.6a4.1 4.1 0 1 0 8.2 0a4.1 4.1 0 1 0 -8.2 0zM883.0 416.0a4.1 4.1 0 1 0 8.2 0a4.1 4.1 0 1 0 -8.2 0zM884.1 417.6a4.1 4.1 0 1 0 8.2 0a4.1 4.1 0 1 0 -8.2 0zM885.3 421.9a4.1 4.1 0 1 0 8.2 0a4.1 4.1 0 1 0 -8.2 0zM886.5 419.6a4.1 4.1 0 1 0 8.2 0a4.1 4.1 0 1 0 -8.2 0zM887.6 419.9a4.1 4.1 0 1 0 8.2 0a4.1 4.1 0 1 0 -8.2 0zM888.8 419.1a4.1 4.1 0 1 0 8.2 0a4.1 4.1 0 1 0 -8.2 0zM890.0 421.5a4.1 4.1 0 1 0 8.2 0a4.1 4.1 0 1 0 -8.2 0zM891.1 419.8a4.1 4.1 0 1 0 8.2 0a4.1 4.1 0 1 0 -8.2 0zM892.3 417.4a4.1 4.1 0 1 0 8.2 0a4.1 4.1 0 1 0 -8.2 0zM893.5 417.5a4.1 4.1 0 1 0 8.2 0a4.1 4.1 0 1 0 -8.2 0zM894.6 415.4a4.1 4.1 0 1 0 8.2 0a4.1 4.1 0 1 0 -8.2 0zM895.8 416.9a4.1 4.1 0 1 0 8.2 0a4.1 4.1 0 1 0 -8.2 0zM897.0 412.5a4.1 4.1 0 1 0 8.2 0a4.1 4.1 0 1 0 -8.2 0zM898.1 417.4a4.1 4.1 0 1 0 8.2 0a4.1 4.1 0 1 0 -8.2 0zM899.3 415.2a4.1 4.1 0 1 0 8.2 0a4.1 4.1 0 1 0 -8.2 0zM900.5 418.4a4.1 4.1 0 1 0 8.2 0a4.1 4.1 0 1 0 -8.2 0zM901.6 416.8a4.1 4.1 0 1 0 8.2 0a4.1 4.1 0 1 0 -8.2 0zM902.8 411.8a4.1 4.1 0 1 0 8.2 0a4.1 4.1 0 1 0 -8.2 0zM904.0 415.1a4.1 4.1 0 1 0 8.2 0a4.1 4.1 0 1 0 -8.2 0zM905.1 412.0a4.1 4.1 0 1 0 8.2 0a4.1 4.1 0 1 0 -8.2 0zM906.3 412.4a4.1 4.1 0 1 0 8.2 0a4.1 4.1 0 1 0 -8.2 0zM907.4 413.5a4.1 4.1 0 1 0 8.2 0a4.1 4.1 0 1 0 -8.2 0zM908.6 411.6a4.1 4.1 0 1 0 8.2 0a4.1 4.1 0 1 0 -8.2 0zM909.8 411.3a4.1 4.1 0 1 0 8.2 0a4.1 4.1 0 1 0 -8.2 0zM910.9 410.6a4.1 4.1 0 1 0 8.2 0a4.1 4.1 0 1 0 -8.2 0zM912.1 407.8a4.1 4.1 0 1 0 8.2 0a4.1 4.1 0 1 0 -8.2 0zM913.3 407.3a4.1 4.1 0 1 0 8.2 0a4.1 4.1 0 1 0 -8.2 0zM914.4 408.7a4.1 4.1 0 1 0 8.2 0a4.1 4.1 0 1 0 -8.2 0zM915.6 408.6a4.1 4.1 0 1 0 8.2 0a4.1 4.1 0 1 0 -8.2 0zM916.8 405.8a4.1 4.1 0 1 0 8.2 0a4.1 4.1 0 1 0 -8.2 0zM917.9 405.8a4.1 4.1 0 1 0 8.2 0a4.1 4.1 0 1 0 -8.2 0zM919.1 403.2a4.1 4.1 0 1 0 8.2 0a4.1 4.1 0 1 0 -8.2 0zM920.3 399.7a4.1 4.1 0 1 0 8.2 0a4.1 4.1 0 1 0 -8.2 0zM921.4 402.2a4.1 4.1 0 1 0 8.2 0a4.1 4.1 0 1 0 -8.2 0zM922.6 403.1a4.1 4.1 0 1 0 8.2 0a4.1 4.1 0 1 0 -8.2 0zM923.8 402.7a4.1 4.1 0 1 0 8.2 0a4.1 4.1 0 1 0 -8.2 0zM924.9 403.3a4.1 4.1 0 1 0 8.2 0a4.1 4.1 0 1 0 -8.2 0zM926.1 402.9a4.1 4.1 0 1 0 8.2 0a4.1 4.1 0 1 0 -8.2 0zM927.3 402.5a4.1 4.1 0 1 0 8.2 0a4.1 4.1 0 1 0 -8.2 0zM928.4 401.0a4.1 4.1 0 1 0 8.2 0a4.1 4.1 0 1 0 -8.2 0zM929.6 400.7a4.1 4.1 0 1 0 8.2 0a4.1 4.1 0 1 0 -8.2 0zM930.8 398.3a4.1 4.1 0 1 0 8.2 0a4.1 4.1 0 1 0 -8.2 0zM931.9 400.0a4.1 4.1 0 1 0 8.2 0a4.1 4.1 0 1 0 -8.2 0zM933.1 399.4a4.1 4.1 0 1 0 8.2 0a4.1 4.1 0 1 0 -8.2 0zM934.2 401.0a4.1 4.1 0 1 0 8.2 0a4.1 4.1 0 1 0 -8.2 0zM935.4 395.9a4.1 4.1 0 1 0 8.2 0a4.1 4.1 0 1 0 -8.2 0zM936.6 397.9a4.1 4.1 0 1 0 8.2 0a4.1 4.1 0 1 0 -8.2 0zM937.7 395.7a4.1 4.1 0 1 0 8.2 0a4.1 4.1 0 1 0 -8.2 0zM938.9 397.5a4.1 4.1 0 1 0 8.2 0a4.1 4.1 0 1 0 -8.2 0zM940.1 396.5a4.1 4.1 0 1 0 8.2 0a4.1 4.1 0 1 0 -8.2 0zM941.2 399.7a4.1 4.1 0 1 0 8.2 0a4.1 4.1 0 1 0 -8.2 0zM942.4 398.3a4.1 4.1 0 1 0 8.2 0a4.1 4.1 0 1 0 -8.2 0zM943.6 395.3a4.1 4.1 0 1 0 8.2 0a4.1 4.1 0 1 0 -8.2 0zM944.7 402.5a4.1 4.1 0 1 0 8.2 0a4.1 4.1 0 1 0 -8.2 0zM945.9 398.8a4.1 4.1 0 1 0 8.2 0a4.1 4.1 0 1 0 -8.2 0zM947.1 398.4a4.1 4.1 0 1 0 8.2 0a4.1 4.1 0 1 0 -8.2 0zM948.2 401.1a4.1 4.1 0 1 0 8.2 0a4.1 4.1 0 1 0 -8.2 0zM949.4 401.1a4.1 4.1 0 1 0 8.2 0a4.1 4.1 0 1 0 -8.2 0zM950.6 400.8a4.1 4.1 0 1 0 8.2 0a4.1 4.1 0 1 0 -8.2 0zM951.7 404.8a4.1 4.1 0 1 0 8.2 0a4.1 4.1 0 1 0 -8.2 0zM952.9 403.6a4.1 4.1 0 1 0 8.2 0a4.1 4.1 0 1 0 -8.2 0zM954.0 406.5a4.1 4.1 0 1 0 8.2 0a4.1 4.1 0 1 0 -8.2 0zM955.2 406.8a4.1 4.1 0 1 0 8.2 0a4.1 4.1 0 1 0 -8.2 0zM956.4 407.4a4.1 4.1 0 1 0 8.2 0a4.1 4.1 0 1 0 -8.2 0zM957.5 407.3a4.1 4.1 0 1 0 8.2 0a4.1 4.1 0 1 0 -8.2 0zM958.7 407.4a4.1 4.1 0 1 0 8.2 0a4.1 4.1 0 1 0 -8.2 0zM959.9 407.6a4.1 4.1 0 1 0 8.2 0a4.1 4.1 0 1 0 -8.2 0zM961.0 411.6a4.1 4.1 0 1 0 8.2 0a4.1 4.1 0 1 0 -8.2 0zM962.2 406.2a4.1 4.1 0 1 0 8.2 0a4.1 4.1 0 1 0 -8.2 0zM963.4 408.4a4.1 4.1 0 1 0 8.2 0a4.1 4.1 0 1 0 -8.2 0zM964.5 409.8a4.1 4.1 0 1 0 8.2 0a4.1 4.1 0 1 0 -8.2 0zM965.7 412.3a4.1 4.1 0 1 0 8.2 0a4.1 4.1 0 1 0 -8.2 0zM966.9 412.5a4.1 4.1 0 1 0 8.2 0a4.1 4.1 0 1 0 -8.2 0zM968.0 411.9a4.1 4.1 0 1 0 8.2 0a4.1 4.1 0 1 0 -8.2 0zM969.2 412.8a4.1 4.1 0 1 0 8.2 0a4.1 4.1 0 1 0 -8.2 0zM970.4 417.0a4.1 4.1 0 1 0 8.2 0a4.1 4.1 0 1 0 -8.2 0zM971.5 413.3a4.1 4.1 0 1 0 8.2 0a4.1 4.1 0 1 0 -8.2 0zM972.7 410.0a4.1 4.1 0 1 0 8.2 0a4.1 4.1 0 1 0 -8.2 0zM973.9 418.9a4.1 4.1 0 1 0 8.2 0a4.1 4.1 0 1 0 -8.2 0zM975.0 414.4a4.1 4.1 0 1 0 8.2 0a4.1 4.1 0 1 0 -8.2 0zM976.2 415.9a4.1 4.1 0 1 0 8.2 0a4.1 4.1 0 1 0 -8.2 0zM977.4 417.2a4.1 4.1 0 1 0 8.2 0a4.1 4.1 0 1 0 -8.2 0zM978.5 415.0a4.1 4.1 0 1 0 8.2 0a4.1 4.1 0 1 0 -8.2 0zM979.7 419.9a4.1 4.1 0 1 0 8.2 0a4.1 4.1 0 1 0 -8.2 0zM980.8 417.9a4.1 4.1 0 1 0 8.2 0a4.1 4.1 0 1 0 -8.2 0zM982.0 416.0a4.1 4.1 0 1 0 8.2 0a4.1 4.1 0 1 0 -8.2 0zM983.2 419.3a4.1 4.1 0 1 0 8.2 0a4.1 4.1 0 1 0 -8.2 0zM984.3 420.0a4.1 4.1 0 1 0 8.2 0a4.1 4.1 0 1 0 -8.2 0zM985.5 419.4a4.1 4.1 0 1 0 8.2 0a4.1 4.1 0 1 0 -8.2 0zM986.7 420.6a4.1 4.1 0 1 0 8.2 0a4.1 4.1 0 1 0 -8.2 0zM987.8 417.4a4.1 4.1 0 1 0 8.2 0a4.1 4.1 0 1 0 -8.2 0zM989.0 422.0a4.1 4.1 0 1 0 8.2 0a4.1 4.1 0 1 0 -8.2 0zM990.2 419.1a4.1 4.1 0 1 0 8.2 0a4.1 4.1 0 1 0 -8.2 0zM991.3 423.0a4.1 4.1 0 1 0 8.2 0a4.1 4.1 0 1 0 -8.2 0zM992.5 419.8a4.1 4.1 0 1 0 8.2 0a4.1 4.1 0 1 0 -8.2 0zM993.7 421.4a4.1 4.1 0 1 0 8.2 0a4.1 4.1 0 1 0 -8.2 0zM994.8 426.0a4.1 4.1 0 1 0 8.2 0a4.1 4.1 0 1 0 -8.2 0zM996.0 421.6a4.1 4.1 0 1 0 8.2 0a4.1 4.1 0 1 0 -8.2 0zM997.2 423.6a4.1 4.1 0 1 0 8.2 0a4.1 4.1 0 1 0 -8.2 0zM998.3 422.7a4.1 4.1 0 1 0 8.2 0a4.1 4.1 0 1 0 -8.2 0zM999.5 419.3a4.1 4.1 0 1 0 8.2 0a4.1 4.1 0 1 0 -8.2 0zM1000.6 424.1a4.1 4.1 0 1 0 8.2 0a4.1 4.1 0 1 0 -8.2 0zM1001.8 424.1a4.1 4.1 0 1 0 8.2 0a4.1 4.1 0 1 0 -8.2 0zM1003.0 419.8a4.1 4.1 0 1 0 8.2 0a4.1 4.1 0 1 0 -8.2 0zM1004.1 422.2a4.1 4.1 0 1 0 8.2 0a4.1 4.1 0 1 0 -8.2 0zM1005.3 419.8a4.1 4.1 0 1 0 8.2 0a4.1 4.1 0 1 0 -8.2 0zM1006.5 422.1a4.1 4.1 0 1 0 8.2 0a4.1 4.1 0 1 0 -8.2 0zM1007.6 424.3a4.1 4.1 0 1 0 8.2 0a4.1 4.1 0 1 0 -8.2 0zM1008.8 422.9a4.1 4.1 0 1 0 8.2 0a4.1 4.1 0 1 0 -8.2 0zM1010.0 420.7a4.1 4.1 0 1 0 8.2 0a4.1 4.1 0 1 0 -8.2 0zM1011.1 421.3a4.1 4.1 0 1 0 8.2 0a4.1 4.1 0 1 0 -8.2 0zM1012.3 423.0a4.1 4.1 0 1 0 8.2 0a4.1 4.1 0 1 0 -8.2 0zM1013.5 423.0a4.1 4.1 0 1 0 8.2 0a4.1 4.1 0 1 0 -8.2 0zM1014.6 423.3a4.1 4.1 0 1 0 8.2 0a4.1 4.1 0 1 0 -8.2 0zM1015.8 424.2a4.1 4.1 0 1 0 8.2 0a4.1 4.1 0 1 0 -8.2 0zM1017.0 419.8a4.1 4.1 0 1 0 8.2 0a4.1 4.1 0 1 0 -8.2 0zM1018.1 423.2a4.1 4.1 0 1 0 8.2 0a4.1 4.1 0 1 0 -8.2 0zM1019.3 425.3a4.1 4.1 0 1 0 8.2 0a4.1 4.1 0 1 0 -8.2 0zM1020.5 424.2a4.1 4.1 0 1 0 8.2 0a4.1 4.1 0 1 0 -8.2 0zM1021.6 422.1a4.1 4.1 0 1 0 8.2 0a4.1 4.1 0 1 0 -8.2 0zM1022.8 422.3a4.1 4.1 0 1 0 8.2 0a4.1 4.1 0 1 0 -8.2 0zM1023.9 423.7a4.1 4.1 0 1 0 8.2 0a4.1 4.1 0 1 0 -8.2 0zM1025.1 424.6a4.1 4.1 0 1 0 8.2 0a4.1 4.1 0 1 0 -8.2 0zM1026.3 423.4a4.1 4.1 0 1 0 8.2 0a4.1 4.1 0 1 0 -8.2 0zM1027.4 426.5a4.1 4.1 0 1 0 8.2 0a4.1 4.1 0 1 0 -8.2 0zM1028.6 425.9a4.1 4.1 0 1 0 8.2 0a4.1 4.1 0 1 0 -8.2 0zM1029.8 422.2a4.1 4.1 0 1 0 8.2 0a4.1 4.1 0 1 0 -8.2 0zM1030.9 424.4a4.1 4.1 0 1 0 8.2 0a4.1 4.1 0 1 0 -8.2 0zM1032.1 423.0a4.1 4.1 0 1 0 8.2 0a4.1 4.1 0 1 0 -8.2 0zM1033.3 421.5a4.1 4.1 0 1 0 8.2 0a4.1 4.1 0 1 0 -8.2 0zM1034.4 422.5a4.1 4.1 0 1 0 8.2 0a4.1 4.1 0 1 0 -8.2 0zM1035.6 423.7a4.1 4.1 0 1 0 8.2 0a4.1 4.1 0 1 0 -8.2 0zM1036.8 419.9a4.1 4.1 0 1 0 8.2 0a4.1 4.1 0 1 0 -8.2 0zM1037.9 422.5a4.1 4.1 0 1 0 8.2 0a4.1 4.1 0 1 0 -8.2 0zM1039.1 424.4a4.1 4.1 0 1 0 8.2 0a4.1 4.1 0 1 0 -8.2 0zM1040.3 422.5a4.1 4.1 0 1 0 8.2 0a4.1 4.1 0 1 0 -8.2 0zM1041.4 423.1a4.1 4.1 0 1 0 8.2 0a4.1 4.1 0 1 0 -8.2 0zM1042.6 425.3a4.1 4.1 0 1 0 8.2 0a4.1 4.1 0 1 0 -8.2 0zM1043.8 423.7a4.1 4.1 0 1 0 8.2 0a4.1 4.1 0 1 0 -8.2 0zM1044.9 424.1a4.1 4.1 0 1 0 8.2 0a4.1 4.1 0 1 0 -8.2 0zM1046.1 427.3a4.1 4.1 0 1 0 8.2 0a4.1 4.1 0 1 0 -8.2 0zM1047.2 424.2a4.1 4.1 0 1 0 8.2 0a4.1 4.1 0 1 0 -8.2 0zM1048.4 424.4a4.1 4.1 0 1 0 8.2 0a4.1 4.1 0 1 0 -8.2 0zM1049.6 424.7a4.1 4.1 0 1 0 8.2 0a4.1 4.1 0 1 0 -8.2 0zM1050.7 426.8a4.1 4.1 0 1 0 8.2 0a4.1 4.1 0 1 0 -8.2 0zM1051.9 424.6a4.1 4.1 0 1 0 8.2 0a4.1 4.1 0 1 0 -8.2 0zM1053.1 424.0a4.1 4.1 0 1 0 8.2 0a4.1 4.1 0 1 0 -8.2 0zM1054.2 423.8a4.1 4.1 0 1 0 8.2 0a4.1 4.1 0 1 0 -8.2 0zM1055.4 426.0a4.1 4.1 0 1 0 8.2 0a4.1 4.1 0 1 0 -8.2 0zM1056.6 422.9a4.1 4.1 0 1 0 8.2 0a4.1 4.1 0 1 0 -8.2 0zM1057.7 426.1a4.1 4.1 0 1 0 8.2 0a4.1 4.1 0 1 0 -8.2 0zM1058.9 424.4a4.1 4.1 0 1 0 8.2 0a4.1 4.1 0 1 0 -8.2 0z" fill="none" stroke="#ff2222" stroke-width="1.05" stroke-opacity="0.7"/><rect x="830" y="242.5" width="233" height="187.0" fill="none" stroke="#4d4d4d" stroke-width="1.55"/><path d="M830 426.0h4M1063 426.0h-4M830 397.2h3M1063 397.2h-3M830 368.5h4M1063 368.5h-4M830 339.8h3M1063 339.8h-3M830 311.0h4M1063 311.0h-4M830 282.2h3M1063 282.2h-3M830 253.5h4M1063 253.5h-4M830.0 429.5v-4M830.0 242.5v4M859.1 429.5v-3M859.1 242.5v3M888.2 429.5v-4M888.2 242.5v4M917.4 429.5v-3M917.4 242.5v3M946.5 429.5v-4M946.5 242.5v4M975.6 429.5v-3M975.6 242.5v3M1004.8 429.5v-4M1004.8 242.5v4M1033.9 429.5v-3M1033.9 242.5v3M1063.0 429.5v-4M1063.0 242.5v4" stroke="#4a4a4a" stroke-width="1.2"/><text transform="translate(825.4,431.6) scale(1.0,1)" text-anchor="end" class="tl">0</text><text transform="translate(825.4,374.1) scale(1.0,1)" text-anchor="end" class="tl">50</text><text transform="translate(825.4,316.6) scale(1.0,1)" text-anchor="end" class="tl">100</text><text transform="translate(825.4,259.1) scale(1.0,1)" text-anchor="end" class="tl">150</text><text transform="translate(829.7,447.7) scale(1.0,1)" text-anchor="middle" class="tl">700</text><text transform="translate(888.0,447.7) scale(1.0,1)" text-anchor="middle" class="tl">750</text><text transform="translate(946.2,447.7) scale(1.0,1)" text-anchor="middle" class="tl">800</text><text transform="translate(1004.5,447.7) scale(1.0,1)" text-anchor="middle" class="tl">850</text><text transform="translate(1062.7,447.7) scale(1.0,1)" text-anchor="middle" class="tl">900</text><text x="0" y="0" transform="translate(946.0,462.4) scale(1.02,1)" text-anchor="middle" class="al">Wavelength (nm)</text><text x="0" y="0" transform="translate(791.7,335.4) rotate(-90) scale(1.04,1)" text-anchor="middle" class="al">CL intensity (counts)</text><text transform="translate(842.00,275.40) scale(1.0115,1)" class="tt" font-size="23.60">MACl + PbCl<tspan font-size="16.5" dy="5">2</tspan></text>
</svg>
</body></html>
